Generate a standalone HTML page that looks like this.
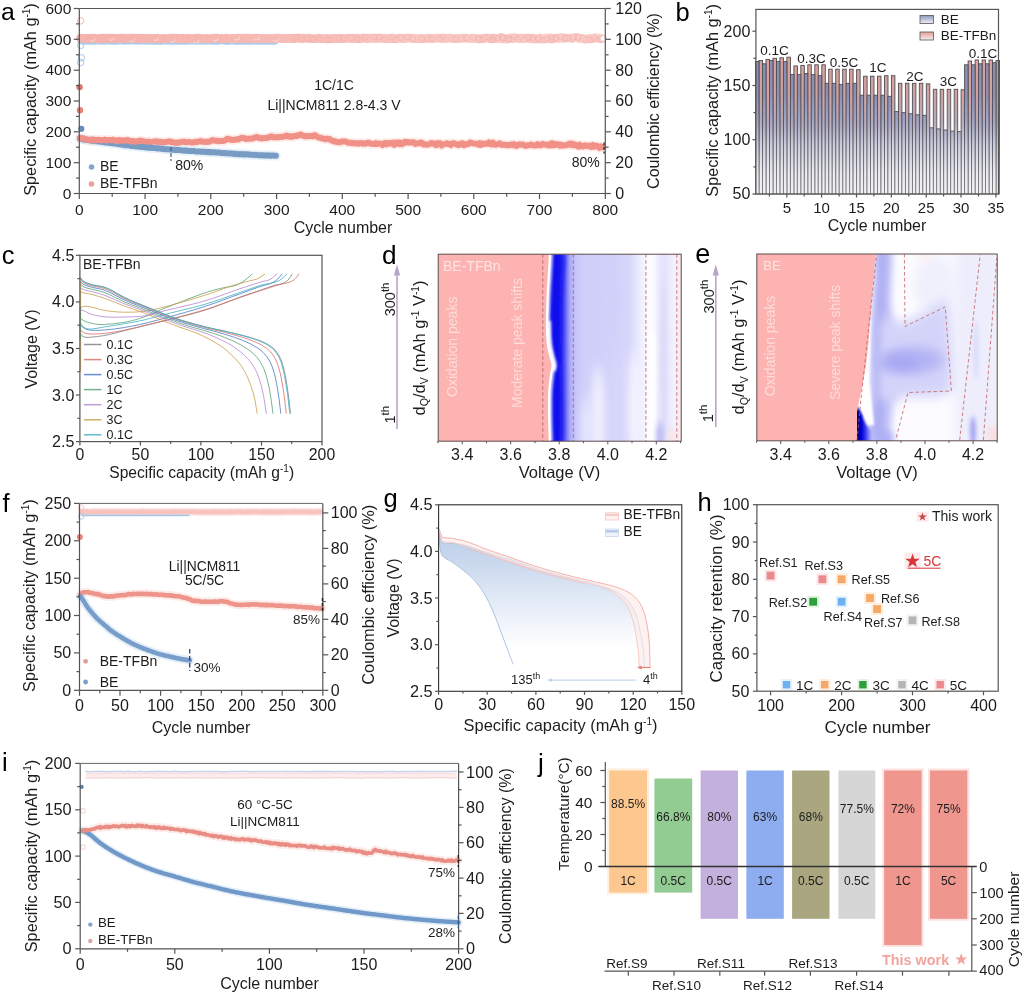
<!DOCTYPE html>
<html><head><meta charset="utf-8"><title>Figure</title>
<style>
html,body{margin:0;padding:0;background:#fff;}
svg{display:block;}
svg text{font-family:"Liberation Sans",Arial,sans-serif;}
</style></head>
<body>
<svg width="1024" height="994" viewBox="0 0 1024 994">
<rect x="0" y="0" width="1024" height="994" fill="#ffffff"/>
<g id="panel_a">
<path d="M81.3 40.7 L83.2 41.1 L85.2 41 L87.2 40.7 L89.2 40.9 L91.1 40.8 L93.1 41 L95.1 41 L97.1 40.6 L99 40.6 L101 41.1 L103 40.8 L104.9 41 L106.9 40.6 L108.9 40.8 L110.9 41 L112.8 40.7 L114.8 41.1 L116.8 41.1 L118.8 40.6 L120.7 40.6 L122.7 40.9 L124.7 41.1 L126.6 40.8 L128.6 40.7 L130.6 40.8 L132.6 40.6 L134.5 40.7 L136.5 40.8 L138.5 40.9 L140.4 40.7 L142.4 40.7 L144.4 40.7 L146.4 40.9 L148.3 40.7 L150.3 40.6 L152.3 41.1 L154.3 40.9 L156.2 41 L158.2 40.7 L160.2 41.2 L162.1 41.1 L164.1 40.6 L166.1 40.8 L168.1 41 L170 41 L172 41.1 L174 40.8 L176 41.1 L177.9 41 L179.9 40.8 L181.9 40.9 L183.8 41.1 L185.8 41.1 L187.8 40.9 L189.8 40.9 L191.7 40.6 L193.7 40.7 L195.7 41.1 L197.6 40.8 L199.6 40.7 L201.6 40.9 L203.6 41 L205.5 41 L207.5 40.8 L209.5 40.8 L211.5 40.9 L213.4 41 L215.4 40.9 L217.4 40.8 L219.3 40.9 L221.3 40.6 L223.3 40.6 L225.3 41 L227.2 41.2 L229.2 40.9 L231.2 40.8 L233.2 40.7 L235.1 40.9 L237.1 41.2 L239.1 41 L241 40.9 L243 41.1 L245 40.7 L247 40.9 L248.9 41.1 L250.9 40.9 L252.9 40.9 L254.9 40.7 L256.8 40.9 L258.8 41.1 L260.8 40.6 L262.7 41 L264.7 41.1 L266.7 41.1 L268.7 41 L270.6 41.1 L272.6 40.9 L274.6 40.9" fill="none" stroke="#a9c6e6" stroke-width="7.5" stroke-linecap="round" stroke-linejoin="round" opacity="0.9"/>
<defs><linearGradient id="gaCE" gradientUnits="userSpaceOnUse" x1="79" y1="0" x2="605" y2="0"><stop offset="0" stop-color="#f6b1ab"/><stop offset="0.35" stop-color="#f7b9b3"/><stop offset="0.6" stop-color="#f9c5c0"/><stop offset="1" stop-color="#fad0cc"/></linearGradient></defs>
<path d="M80.6 38.1 L82.6 38.5 L84.6 38.4 L86.5 38.3 L88.5 38.4 L90.5 38.5 L92.5 38.1 L94.4 38.2 L96.4 38.7 L98.4 38.6 L100.3 38.2 L102.3 38.5 L104.3 38.1 L106.3 38.6 L108.2 38.1 L110.2 38.3 L112.2 38.2 L114.1 38.2 L116.1 38.6 L118.1 38.3 L120.1 38.1 L122 38.4 L124 38.1 L126 38.4 L128 38.5 L129.9 38.1 L131.9 38.2 L133.9 38.2 L135.8 38.5 L137.8 38.2 L139.8 38.6 L141.8 38.2 L143.7 38.3 L145.7 38.3 L147.7 38.1 L149.7 38.7 L151.6 38.3 L153.6 38.3 L155.6 38.6 L157.5 38.2 L159.5 38.7 L161.5 38.6 L163.5 38.5 L165.4 38.7 L167.4 38.6 L169.4 38.3 L171.3 38.2 L173.3 38.4 L175.3 38.1 L177.3 38.3 L179.2 38.3 L181.2 38.7 L183.2 38.2 L185.2 38.7 L187.1 38.3 L189.1 38.5 L191.1 38.7 L193 38.7 L195 38.4 L197 38.2 L199 38.1 L200.9 38.7 L202.9 38.6 L204.9 38.6 L206.9 38.3 L208.8 38.7 L210.8 38.7 L212.8 38.2 L214.7 38.1 L216.7 38.1 L218.7 38.6 L220.7 38.3 L222.6 38.6 L224.6 38.5 L226.6 38.1 L228.6 38.7 L230.5 38.7 L232.5 38.3 L234.5 38.6 L236.4 38.5 L238.4 38.1 L240.4 38.1 L242.4 38.8 L244.3 38.1 L246.3 38.2 L248.3 38.1 L250.2 38.3 L252.2 38.7 L254.2 38.2 L256.2 38.1 L258.1 38.1 L260.1 38.7 L262.1 38.5 L264.1 38.3 L266 38.7 L268 38.7 L270 38.2 L271.9 38.7 L273.9 38.5 L275.9 38.2 L277.9 38.3 L279.8 38.1 L281.8 38.7 L283.8 38.5 L285.8 38.7 L287.7 38.3 L289.7 38.3 L291.7 38.7 L293.6 38.3 L295.6 38.5 L297.6 38.2 L299.6 38.2 L301.5 38.4 L303.5 38.1 L305.5 38.3 L307.5 38.4 L309.4 38.2 L311.4 38.6 L313.4 38.7 L315.3 38.6 L317.3 38.6 L319.3 38.1 L321.3 38.7 L323.2 38.7 L325.2 38.7 L327.2 38.3 L329.1 38.6 L331.1 38.6 L333.1 38.5 L335.1 38.4 L337 38.6 L339 38.2 L341 38.7 L343 38.4 L344.9 38.7 L346.9 38.3 L348.9 38.2 L350.8 38.5 L352.8 38.5 L354.8 38.3 L356.8 38.1 L358.7 38.6 L360.7 38.3 L362.7 38.2 L364.7 38.4 L366.6 38.5 L368.6 38.5 L370.6 38.2 L372.5 38.4 L374.5 38.3 L376.5 38.7 L378.5 38.3 L380.4 38.1 L382.4 38.4 L384.4 38.2 L386.4 38.7 L388.3 38.5 L390.3 38.3 L392.3 38.6 L394.2 38.7 L396.2 38.7 L398.2 38.2 L400.2 38.2 L402.1 38.6 L404.1 38.5 L406.1 38.3 L408.1 38.2 L410 38.1 L412 38.6 L414 38.2 L415.9 38.7 L417.9 38.6 L419.9 38.5 L421.9 38.4 L423.8 38.7 L425.8 38.6 L427.8 38.2 L429.7 38.1 L431.7 38.7 L433.7 38.5 L435.7 38.1 L437.6 38.2 L439.6 38.1 L441.6 38.4 L443.6 38.5 L445.5 38.6 L447.5 38.3 L449.5 38.2 L451.4 38.2 L453.4 38.6 L455.4 38.7 L457.4 38.4 L459.3 38.6 L461.3 38.3 L463.3 38.1 L465.3 38.1 L467.2 38.4 L469.2 38.6 L471.2 38.2 L473.1 38.5 L475.1 38.7 L477.1 38.6 L479.1 39.1 L481 38.3 L483 38.8 L485 38.1 L486.9 38.1 L488.9 38.5 L490.9 38.8 L492.9 38.1 L494.8 38.7 L496.8 38.7 L498.8 38.7 L500.8 37.5 L502.7 39 L504.7 38.3 L506.7 39.1 L508.6 38.5 L510.6 37.9 L512.6 38.3 L514.6 38 L516.5 38.1 L518.5 38.3 L520.5 38.6 L522.5 38.5 L524.4 38.2 L526.4 38.2 L528.4 38.1 L530.3 38.9 L532.3 37.9 L534.3 39.2 L536.3 38.4 L538.2 39.1 L540.2 38 L542.2 38.7 L544.2 39.2 L546.1 37.9 L548.1 38.7 L550.1 38 L552 39.1 L554 38.5 L556 37.9 L558 38.6 L559.9 37.8 L561.9 38.3 L563.9 37.8 L565.9 38.1 L567.8 38.1 L569.8 38.2 L571.8 38.5 L573.7 37.8 L575.7 37.5 L577.7 37.9 L579.7 38.6 L581.6 38.2 L583.6 39 L585.6 39.3 L587.5 38.8 L589.5 38.1 L591.5 38.8 L593.5 38.7 L595.4 38 L597.4 37.8 L599.4 38.2 L601.4 38.4" fill="none" stroke="url(#gaCE)" stroke-width="8.8" stroke-linecap="round" stroke-linejoin="round"/>
<circle cx="92" cy="38.4" r="3" fill="none" stroke="#fff" stroke-width="0.8" opacity="0.6" stroke-dasharray="7 12"/>
<circle cx="111.2" cy="37.3" r="3" fill="none" stroke="#fff" stroke-width="0.8" opacity="0.6" stroke-dasharray="7 12"/>
<circle cx="131.4" cy="38.8" r="3" fill="none" stroke="#fff" stroke-width="0.8" opacity="0.6" stroke-dasharray="7 12"/>
<circle cx="155.2" cy="37.4" r="3" fill="none" stroke="#fff" stroke-width="0.8" opacity="0.6" stroke-dasharray="7 12"/>
<circle cx="172.1" cy="39.1" r="3" fill="none" stroke="#fff" stroke-width="0.8" opacity="0.6" stroke-dasharray="7 12"/>
<circle cx="195.6" cy="40.1" r="3" fill="none" stroke="#fff" stroke-width="0.8" opacity="0.6" stroke-dasharray="7 12"/>
<circle cx="215.2" cy="37.8" r="3" fill="none" stroke="#fff" stroke-width="0.8" opacity="0.6" stroke-dasharray="7 12"/>
<circle cx="236.5" cy="37" r="3" fill="none" stroke="#fff" stroke-width="0.8" opacity="0.6" stroke-dasharray="7 12"/>
<circle cx="256.3" cy="37" r="3" fill="none" stroke="#fff" stroke-width="0.8" opacity="0.6" stroke-dasharray="7 12"/>
<circle cx="275.5" cy="38.4" r="3" fill="none" stroke="#fff" stroke-width="0.8" opacity="0.6" stroke-dasharray="7 12"/>
<circle cx="295.8" cy="37.2" r="3" fill="none" stroke="#f2aaa3" stroke-width="0.6" opacity="0.75"/>
<circle cx="301.1" cy="39.6" r="3" fill="none" stroke="#f2aaa3" stroke-width="0.6" opacity="0.75"/>
<circle cx="308" cy="38.7" r="3" fill="none" stroke="#f2aaa3" stroke-width="0.6" opacity="0.75"/>
<circle cx="312.9" cy="39.2" r="3" fill="none" stroke="#f2aaa3" stroke-width="0.6" opacity="0.75"/>
<circle cx="319.3" cy="38.7" r="3" fill="none" stroke="#f2aaa3" stroke-width="0.6" opacity="0.75"/>
<circle cx="327.5" cy="40.2" r="3" fill="none" stroke="#f2aaa3" stroke-width="0.6" opacity="0.75"/>
<circle cx="330" cy="39.5" r="3" fill="none" stroke="#f2aaa3" stroke-width="0.6" opacity="0.75"/>
<circle cx="339.1" cy="37.8" r="3" fill="none" stroke="#f2aaa3" stroke-width="0.6" opacity="0.75"/>
<circle cx="343.1" cy="38.7" r="3" fill="none" stroke="#f2aaa3" stroke-width="0.6" opacity="0.75"/>
<circle cx="351.2" cy="38" r="3" fill="none" stroke="#f2aaa3" stroke-width="0.6" opacity="0.75"/>
<circle cx="357" cy="39.3" r="3" fill="none" stroke="#f2aaa3" stroke-width="0.6" opacity="0.75"/>
<circle cx="360" cy="39.9" r="3" fill="none" stroke="#f2aaa3" stroke-width="0.6" opacity="0.75"/>
<circle cx="365.3" cy="37.1" r="3" fill="none" stroke="#f2aaa3" stroke-width="0.6" opacity="0.75"/>
<circle cx="373.9" cy="36.8" r="3" fill="none" stroke="#f2aaa3" stroke-width="0.6" opacity="0.75"/>
<circle cx="378.6" cy="37.1" r="3" fill="none" stroke="#f2aaa3" stroke-width="0.6" opacity="0.75"/>
<circle cx="384.9" cy="39.6" r="3" fill="none" stroke="#f2aaa3" stroke-width="0.6" opacity="0.75"/>
<circle cx="392.6" cy="36.7" r="3" fill="none" stroke="#f2aaa3" stroke-width="0.6" opacity="0.75"/>
<circle cx="395.1" cy="39.6" r="3" fill="none" stroke="#f2aaa3" stroke-width="0.6" opacity="0.75"/>
<circle cx="401" cy="37.6" r="3" fill="none" stroke="#f2aaa3" stroke-width="0.6" opacity="0.75"/>
<circle cx="407.2" cy="36.9" r="3" fill="none" stroke="#f2aaa3" stroke-width="0.6" opacity="0.75"/>
<circle cx="412.7" cy="38.9" r="3" fill="none" stroke="#f2aaa3" stroke-width="0.6" opacity="0.75"/>
<circle cx="421.5" cy="39.1" r="3" fill="none" stroke="#f2aaa3" stroke-width="0.6" opacity="0.75"/>
<circle cx="427.8" cy="39" r="3" fill="none" stroke="#f2aaa3" stroke-width="0.6" opacity="0.75"/>
<circle cx="431.9" cy="38.9" r="3" fill="none" stroke="#f2aaa3" stroke-width="0.6" opacity="0.75"/>
<circle cx="440.2" cy="38.9" r="3" fill="none" stroke="#f2aaa3" stroke-width="0.6" opacity="0.75"/>
<circle cx="443.2" cy="36.8" r="3" fill="none" stroke="#f2aaa3" stroke-width="0.6" opacity="0.75"/>
<circle cx="451.9" cy="38.7" r="3" fill="none" stroke="#f2aaa3" stroke-width="0.6" opacity="0.75"/>
<circle cx="455.4" cy="38.8" r="3" fill="none" stroke="#f2aaa3" stroke-width="0.6" opacity="0.75"/>
<circle cx="462.2" cy="38.5" r="3" fill="none" stroke="#f2aaa3" stroke-width="0.6" opacity="0.75"/>
<circle cx="466.1" cy="37.9" r="3" fill="none" stroke="#f2aaa3" stroke-width="0.6" opacity="0.75"/>
<circle cx="473.5" cy="37.3" r="3" fill="none" stroke="#f2aaa3" stroke-width="0.6" opacity="0.75"/>
<circle cx="478" cy="38.1" r="3" fill="none" stroke="#f2aaa3" stroke-width="0.6" opacity="0.75"/>
<circle cx="479.7" cy="39.2" r="3" fill="none" stroke="#f2aaa3" stroke-width="0.6" opacity="0.75"/>
<circle cx="482.7" cy="39.2" r="3" fill="none" stroke="#f2aaa3" stroke-width="0.6" opacity="0.75"/>
<circle cx="485.3" cy="37.5" r="3" fill="none" stroke="#f2aaa3" stroke-width="0.6" opacity="0.75"/>
<circle cx="488.9" cy="37.2" r="3" fill="none" stroke="#f2aaa3" stroke-width="0.6" opacity="0.75"/>
<circle cx="491.3" cy="39.7" r="3" fill="none" stroke="#f2aaa3" stroke-width="0.6" opacity="0.75"/>
<circle cx="493.6" cy="36.8" r="3" fill="none" stroke="#f2aaa3" stroke-width="0.6" opacity="0.75"/>
<circle cx="493.2" cy="39.5" r="3" fill="none" stroke="#f2aaa3" stroke-width="0.6" opacity="0.75"/>
<circle cx="497.3" cy="37.9" r="3" fill="none" stroke="#f2aaa3" stroke-width="0.6" opacity="0.75"/>
<circle cx="502" cy="36.8" r="3" fill="none" stroke="#f2aaa3" stroke-width="0.6" opacity="0.75"/>
<circle cx="502.9" cy="38.2" r="3" fill="none" stroke="#f2aaa3" stroke-width="0.6" opacity="0.75"/>
<circle cx="503.9" cy="38" r="3" fill="none" stroke="#f2aaa3" stroke-width="0.6" opacity="0.75"/>
<circle cx="508.8" cy="39.8" r="3" fill="none" stroke="#f2aaa3" stroke-width="0.6" opacity="0.75"/>
<circle cx="508.7" cy="38.5" r="3" fill="none" stroke="#f2aaa3" stroke-width="0.6" opacity="0.75"/>
<circle cx="511.6" cy="39.5" r="3" fill="none" stroke="#f2aaa3" stroke-width="0.6" opacity="0.75"/>
<circle cx="514.2" cy="36.7" r="3" fill="none" stroke="#f2aaa3" stroke-width="0.6" opacity="0.75"/>
<circle cx="518" cy="39.2" r="3" fill="none" stroke="#f2aaa3" stroke-width="0.6" opacity="0.75"/>
<circle cx="520.4" cy="37.1" r="3" fill="none" stroke="#f2aaa3" stroke-width="0.6" opacity="0.75"/>
<circle cx="524.9" cy="39.5" r="3" fill="none" stroke="#f2aaa3" stroke-width="0.6" opacity="0.75"/>
<circle cx="527.8" cy="37.7" r="3" fill="none" stroke="#f2aaa3" stroke-width="0.6" opacity="0.75"/>
<circle cx="528.7" cy="37.5" r="3" fill="none" stroke="#f2aaa3" stroke-width="0.6" opacity="0.75"/>
<circle cx="531.9" cy="37.8" r="3" fill="none" stroke="#f2aaa3" stroke-width="0.6" opacity="0.75"/>
<circle cx="533.6" cy="39.4" r="3" fill="none" stroke="#f2aaa3" stroke-width="0.6" opacity="0.75"/>
<circle cx="538.7" cy="38.7" r="3" fill="none" stroke="#f2aaa3" stroke-width="0.6" opacity="0.75"/>
<circle cx="538" cy="39" r="3" fill="none" stroke="#f2aaa3" stroke-width="0.6" opacity="0.75"/>
<circle cx="542" cy="40.2" r="3" fill="none" stroke="#f2aaa3" stroke-width="0.6" opacity="0.75"/>
<circle cx="545.7" cy="39.6" r="3" fill="none" stroke="#f2aaa3" stroke-width="0.6" opacity="0.75"/>
<circle cx="548.2" cy="38.5" r="3" fill="none" stroke="#f2aaa3" stroke-width="0.6" opacity="0.75"/>
<circle cx="551.7" cy="39.6" r="3" fill="none" stroke="#f2aaa3" stroke-width="0.6" opacity="0.75"/>
<circle cx="551.9" cy="37.2" r="3" fill="none" stroke="#f2aaa3" stroke-width="0.6" opacity="0.75"/>
<circle cx="554.8" cy="38.5" r="3" fill="none" stroke="#f2aaa3" stroke-width="0.6" opacity="0.75"/>
<circle cx="556.3" cy="37.9" r="3" fill="none" stroke="#f2aaa3" stroke-width="0.6" opacity="0.75"/>
<circle cx="560.9" cy="36.8" r="3" fill="none" stroke="#f2aaa3" stroke-width="0.6" opacity="0.75"/>
<circle cx="564.5" cy="39" r="3" fill="none" stroke="#f2aaa3" stroke-width="0.6" opacity="0.75"/>
<circle cx="565.1" cy="37.7" r="3" fill="none" stroke="#f2aaa3" stroke-width="0.6" opacity="0.75"/>
<circle cx="567.9" cy="37.8" r="3" fill="none" stroke="#f2aaa3" stroke-width="0.6" opacity="0.75"/>
<circle cx="572.1" cy="38.4" r="3" fill="none" stroke="#f2aaa3" stroke-width="0.6" opacity="0.75"/>
<circle cx="573.8" cy="37.1" r="3" fill="none" stroke="#f2aaa3" stroke-width="0.6" opacity="0.75"/>
<circle cx="578" cy="37.8" r="3" fill="none" stroke="#f2aaa3" stroke-width="0.6" opacity="0.75"/>
<circle cx="578.3" cy="36.9" r="3" fill="none" stroke="#f2aaa3" stroke-width="0.6" opacity="0.75"/>
<circle cx="583.5" cy="38.3" r="3" fill="none" stroke="#f2aaa3" stroke-width="0.6" opacity="0.75"/>
<circle cx="585.9" cy="39.9" r="3" fill="none" stroke="#f2aaa3" stroke-width="0.6" opacity="0.75"/>
<circle cx="588.8" cy="39.5" r="3" fill="none" stroke="#f2aaa3" stroke-width="0.6" opacity="0.75"/>
<circle cx="591.2" cy="39.9" r="3" fill="none" stroke="#f2aaa3" stroke-width="0.6" opacity="0.75"/>
<circle cx="593.4" cy="37.1" r="3" fill="none" stroke="#f2aaa3" stroke-width="0.6" opacity="0.75"/>
<circle cx="594.9" cy="38.7" r="3" fill="none" stroke="#f2aaa3" stroke-width="0.6" opacity="0.75"/>
<circle cx="599.4" cy="39.4" r="3" fill="none" stroke="#f2aaa3" stroke-width="0.6" opacity="0.75"/>
<circle cx="600.9" cy="39.3" r="3" fill="none" stroke="#f2aaa3" stroke-width="0.6" opacity="0.75"/>
<circle cx="602.1" cy="40" r="3" fill="none" stroke="#f2aaa3" stroke-width="0.6" opacity="0.75"/>
<circle cx="603.3" cy="38.4" r="3" fill="#fff" stroke="#f5bdb8" stroke-width="0.8"/>
<circle cx="80.6" cy="20.8" r="3.2" fill="none" stroke="#f8b8b2" stroke-width="1"/>
<circle cx="80" cy="37.8" r="3.2" fill="none" stroke="#f8b8b2" stroke-width="1"/>
<circle cx="80.6" cy="45.5" r="3.2" fill="none" stroke="#a9c6e6" stroke-width="1"/>
<circle cx="81.3" cy="57.8" r="3.2" fill="none" stroke="#a9c6e6" stroke-width="1"/>
<circle cx="80.6" cy="62.5" r="3.2" fill="none" stroke="#a9c6e6" stroke-width="1"/>
<path d="M80 138.3 L81.3 138.3 L82.6 138.3 L83.9 138.7 L85.2 139.6 L86.5 139.7 L87.8 139.7 L89.2 140.1 L90.5 139.9 L91.8 139.6 L93.1 140.4 L94.4 139.7 L95.7 140.4 L97.1 140.2 L98.4 139.8 L99.7 140.1 L101 140.1 L102.3 140.3 L103.6 139.9 L104.9 139.8 L106.3 140.5 L107.6 140.4 L108.9 139.9 L110.2 140.1 L111.5 140.2 L112.8 139.8 L114.1 140.4 L115.5 140.6 L116.8 141.2 L118.1 140.3 L119.4 140.7 L120.7 140.5 L122 140.5 L123.4 141 L124.7 140.6 L126 140.5 L127.3 140.3 L128.6 140.5 L129.9 141.3 L131.2 141.4 L132.6 141.1 L133.9 141.4 L135.2 141.7 L136.5 141.7 L137.8 141.3 L139.1 141 L140.4 140.5 L141.8 141 L143.1 141.2 L144.4 141.9 L145.7 141.8 L147 141.9 L148.3 141.6 L149.7 142 L151 142.1 L152.3 141.9 L153.6 141.6 L154.9 141.5 L156.2 141.3 L157.5 142 L158.9 141.6 L160.2 141.9 L161.5 142 L162.8 142.5 L164.1 142.3 L165.4 142 L166.7 141.9 L168.1 141.6 L169.4 141.3 L170.7 141.9 L172 141.9 L173.3 142.3 L174.6 142.7 L176 142.7 L177.3 142.6 L178.6 142.7 L179.9 142.3 L181.2 142 L182.5 141.9 L183.8 141.6 L185.2 142 L186.5 142.2 L187.8 142.1 L189.1 141.9 L190.4 142.3 L191.7 142.6 L193 142.6 L194.4 142.3 L195.7 141.8 L197 142.1 L198.3 141.7 L199.6 141.2 L200.9 141.1 L202.3 141.8 L203.6 141.7 L204.9 141.7 L206.2 142.1 L207.5 141.7 L208.8 141.8 L210.1 141.4 L211.5 140.4 L212.8 140 L214.1 140.5 L215.4 140.8 L216.7 140.6 L218 141.3 L219.3 141 L220.7 141 L222 141.1 L223.3 141 L224.6 140.6 L225.9 139.8 L227.2 138.7 L228.6 138.9 L229.9 139.6 L231.2 139.6 L232.5 140.1 L233.8 139.8 L235.1 139.8 L236.4 139.2 L237.8 139.6 L239.1 138.9 L240.4 138.5 L241.7 137.8 L243 137.9 L244.3 138.1 L245.6 138.9 L247 138.8 L248.3 138.7 L249.6 138.7 L250.9 138.6 L252.2 138.6 L253.5 138.4 L254.9 137.4 L256.2 137.1 L257.5 137.1 L258.8 138 L260.1 137.9 L261.4 138.4 L262.7 138.3 L264.1 138 L265.4 137.9 L266.7 138.1 L268 137.7 L269.3 137 L270.6 136.5 L271.9 136.5 L273.3 137.2 L274.6 137.4 L275.9 137.3 L277.2 137.3 L278.5 137.3 L279.8 136.9 L281.2 137 L282.5 136.7 L283.8 136.8 L285.1 136 L286.4 135.6 L287.7 136.4 L289 136.1 L290.4 136.9 L291.7 136.2 L293 136.7 L294.3 136 L295.6 135.9 L296.9 136.1 L298.2 135 L299.6 135.2 L300.9 134.5 L302.2 135.4 L303.5 135.8 L304.8 136.4 L306.1 136 L307.5 136.3 L308.8 136.1 L310.1 136.1 L311.4 136.1 L312.7 136.4 L314 135.2 L315.3 135.4 L316.7 136.4 L318 137.3 L319.3 137.7 L320.6 137.7 L321.9 138.4 L323.2 138.5 L324.5 139 L325.9 139.2 L327.2 138.6 L328.5 139 L329.8 139 L331.1 140.3 L332.4 140.6 L333.8 141.5 L335.1 141.1 L336.4 142 L337.7 142.1 L339 142.3 L340.3 142.2 L341.6 141.5 L343 141.4 L344.3 141.6 L345.6 141.5 L346.9 142.1 L348.2 142.7 L349.5 142.7 L350.8 142.7 L352.2 143.3 L353.5 142.9 L354.8 143.3 L356.1 143.3 L357.4 143.5 L358.7 143.7 L360.1 143.2 L361.4 143.1 L362.7 143.7 L364 143.3 L365.3 143.7 L366.6 143.2 L367.9 142.6 L369.3 142.9 L370.6 143.8 L371.9 143.7 L373.2 143.9 L374.5 144 L375.8 143.1 L377.1 144 L378.5 143.4 L379.8 143.6 L381.1 143.9 L382.4 145 L383.7 143.5 L385 142.9 L386.4 144.4 L387.7 143 L389 143.1 L390.3 143.7 L391.6 143 L392.9 142.5 L394.2 144.8 L395.6 142.6 L396.9 143.7 L398.2 142.5 L399.5 144 L400.8 142.7 L402.1 144.1 L403.4 143.4 L404.8 141.9 L406.1 142.4 L407.4 141.9 L408.7 142.4 L410 142.4 L411.3 142.6 L412.7 142.2 L414 142.5 L415.3 143.9 L416.6 143.4 L417.9 143.2 L419.2 143.2 L420.5 142.4 L421.9 142.7 L423.2 144.4 L424.5 144 L425.8 144.7 L427.1 144.7 L428.4 144.4 L429.7 144 L431.1 142.9 L432.4 143.4 L433.7 143.4 L435 144.7 L436.3 145.1 L437.6 143.1 L439 143.5 L440.3 143.2 L441.6 145.5 L442.9 144.6 L444.2 144.1 L445.5 143.8 L446.8 143.3 L448.2 144 L449.5 144.1 L450.8 145 L452.1 143.4 L453.4 143.2 L454.7 143.5 L456 144.1 L457.4 144.9 L458.7 145.1 L460 143.8 L461.3 143.4 L462.6 143.3 L463.9 145.2 L465.3 144.2 L466.6 144.3 L467.9 144.2 L469.2 143.1 L470.5 142.4 L471.8 143.1 L473.1 143.4 L474.5 143.6 L475.8 143.7 L477.1 143.9 L478.4 144.6 L479.7 143.2 L481 144.8 L482.3 143.5 L483.7 144.1 L485 143.7 L486.3 143.5 L487.6 143.8 L488.9 142.4 L490.2 143.9 L491.6 144.5 L492.9 142.6 L494.2 144.4 L495.5 144.7 L496.8 144.5 L498.1 144.1 L499.4 143.2 L500.8 144 L502.1 145 L503.4 144.6 L504.7 144.9 L506 144.8 L507.3 145.1 L508.6 145.5 L510 144.7 L511.3 144.5 L512.6 145.3 L513.9 144.1 L515.2 145.5 L516.5 146 L517.9 145 L519.2 144.3 L520.5 144.4 L521.8 144.8 L523.1 144.5 L524.4 145.4 L525.7 145.9 L527.1 145.6 L528.4 145.2 L529.7 145.1 L531 144.4 L532.3 145.1 L533.6 145.4 L534.9 145.3 L536.3 145.5 L537.6 144.1 L538.9 144.7 L540.2 145.5 L541.5 144.9 L542.8 143.9 L544.2 144.6 L545.5 144.6 L546.8 145 L548.1 145.4 L549.4 144.1 L550.7 145.2 L552 143.2 L553.4 145.2 L554.7 143.8 L556 144.9 L557.3 144.2 L558.6 144.5 L559.9 145.6 L561.2 144.6 L562.6 145.7 L563.9 145.4 L565.2 145.1 L566.5 145.3 L567.8 144.5 L569.1 143.6 L570.5 144.9 L571.8 143.6 L573.1 145.1 L574.4 144.3 L575.7 145.5 L577 145.3 L578.3 146.5 L579.7 144.8 L581 146.4 L582.3 145.9 L583.6 146.4 L584.9 145.2 L586.2 145.8 L587.5 145.9 L588.9 145.6 L590.2 146.7 L591.5 147 L592.8 145 L594.1 146.6 L595.4 145.8 L596.8 145.8 L598.1 146.7 L599.4 148 L600.7 146.3 L602 147" fill="none" stroke="#fbdad6" stroke-width="9.5" stroke-linecap="round" stroke-linejoin="round" opacity="0.55"/>
<path d="M80 138.3 L81.3 138.8 L82.6 139.2 L83.9 139.6 L85.2 139.7 L86.5 139.7 L87.8 139.9 L89.2 140.3 L90.5 140.4 L91.8 140.8 L93.1 140.7 L94.4 140.9 L95.7 141.2 L97.1 141.1 L98.4 141.3 L99.7 141.7 L101 141.7 L102.3 141.8 L103.6 142.1 L104.9 142.4 L106.3 142.5 L107.6 142.5 L108.9 142.7 L110.2 143.1 L111.5 143.2 L112.8 143.2 L114.1 143.6 L115.5 143.5 L116.8 143.8 L118.1 144.1 L119.4 144.3 L120.7 144.3 L122 144.7 L123.4 144.7 L124.7 145 L126 145.2 L127.3 145.2 L128.6 145.4 L129.9 145.5 L131.2 145.9 L132.6 146 L133.9 146.1 L135.2 146.3 L136.5 146.5 L137.8 146.4 L139.1 146.5 L140.4 146.9 L141.8 147 L143.1 147 L144.4 147.2 L145.7 147.3 L147 147.6 L148.3 147.7 L149.7 147.7 L151 147.6 L152.3 148.1 L153.6 148.1 L154.9 148.1 L156.2 148.2 L157.5 148.5 L158.9 148.3 L160.2 148.5 L161.5 148.7 L162.8 149 L164.1 149.1 L165.4 149.3 L166.7 149.2 L168.1 149.3 L169.4 149.4 L170.7 149.5 L172 149.6 L173.3 149.8 L174.6 150 L176 149.8 L177.3 150 L178.6 150 L179.9 150.1 L181.2 150.3 L182.5 150.4 L183.8 150.5 L185.2 150.7 L186.5 150.5 L187.8 150.8 L189.1 151 L190.4 151 L191.7 151 L193 151 L194.4 151.1 L195.7 151.4 L197 151.5 L198.3 151.5 L199.6 151.6 L200.9 151.7 L202.3 151.8 L203.6 151.7 L204.9 151.8 L206.2 152 L207.5 151.9 L208.8 152.2 L210.1 152.1 L211.5 152.2 L212.8 152.3 L214.1 152.2 L215.4 152.4 L216.7 152.5 L218 152.5 L219.3 152.6 L220.7 152.8 L222 153.1 L223.3 153.1 L224.6 153 L225.9 153.4 L227.2 153.2 L228.6 153.4 L229.9 153.6 L231.2 153.6 L232.5 153.6 L233.8 153.9 L235.1 153.8 L236.4 154 L237.8 154 L239.1 154.3 L240.4 154.2 L241.7 154.1 L243 154.2 L244.3 154.6 L245.6 154.3 L247 154.3 L248.3 154.5 L249.6 154.6 L250.9 154.9 L252.2 154.7 L253.5 154.9 L254.9 155 L256.2 154.8 L257.5 155.1 L258.8 155.3 L260.1 155.2 L261.4 155.2 L262.7 155.2 L264.1 155.5 L265.4 155.6 L266.7 155.3 L268 155.5 L269.3 155.5 L270.6 155.7 L271.9 155.5 L273.3 155.6 L274.6 155.7 L275.9 155.8" fill="none" stroke="#cfe3f4" stroke-width="9.5" stroke-linecap="round" stroke-linejoin="round" opacity="0.55"/>
<path d="M80 138.3 L81.3 138.3 L82.6 138.3 L83.9 138.7 L85.2 139.6 L86.5 139.7 L87.8 139.7 L89.2 140.1 L90.5 139.9 L91.8 139.6 L93.1 140.4 L94.4 139.7 L95.7 140.4 L97.1 140.2 L98.4 139.8 L99.7 140.1 L101 140.1 L102.3 140.3 L103.6 139.9 L104.9 139.8 L106.3 140.5 L107.6 140.4 L108.9 139.9 L110.2 140.1 L111.5 140.2 L112.8 139.8 L114.1 140.4 L115.5 140.6 L116.8 141.2 L118.1 140.3 L119.4 140.7 L120.7 140.5 L122 140.5 L123.4 141 L124.7 140.6 L126 140.5 L127.3 140.3 L128.6 140.5 L129.9 141.3 L131.2 141.4 L132.6 141.1 L133.9 141.4 L135.2 141.7 L136.5 141.7 L137.8 141.3 L139.1 141 L140.4 140.5 L141.8 141 L143.1 141.2 L144.4 141.9 L145.7 141.8 L147 141.9 L148.3 141.6 L149.7 142 L151 142.1 L152.3 141.9 L153.6 141.6 L154.9 141.5 L156.2 141.3 L157.5 142 L158.9 141.6 L160.2 141.9 L161.5 142 L162.8 142.5 L164.1 142.3 L165.4 142 L166.7 141.9 L168.1 141.6 L169.4 141.3 L170.7 141.9 L172 141.9 L173.3 142.3 L174.6 142.7 L176 142.7 L177.3 142.6 L178.6 142.7 L179.9 142.3 L181.2 142 L182.5 141.9 L183.8 141.6 L185.2 142 L186.5 142.2 L187.8 142.1 L189.1 141.9 L190.4 142.3 L191.7 142.6 L193 142.6 L194.4 142.3 L195.7 141.8 L197 142.1 L198.3 141.7 L199.6 141.2 L200.9 141.1 L202.3 141.8 L203.6 141.7 L204.9 141.7 L206.2 142.1 L207.5 141.7 L208.8 141.8 L210.1 141.4 L211.5 140.4 L212.8 140 L214.1 140.5 L215.4 140.8 L216.7 140.6 L218 141.3 L219.3 141 L220.7 141 L222 141.1 L223.3 141 L224.6 140.6 L225.9 139.8 L227.2 138.7 L228.6 138.9 L229.9 139.6 L231.2 139.6 L232.5 140.1 L233.8 139.8 L235.1 139.8 L236.4 139.2 L237.8 139.6 L239.1 138.9 L240.4 138.5 L241.7 137.8 L243 137.9 L244.3 138.1 L245.6 138.9 L247 138.8 L248.3 138.7 L249.6 138.7 L250.9 138.6 L252.2 138.6 L253.5 138.4 L254.9 137.4 L256.2 137.1 L257.5 137.1 L258.8 138 L260.1 137.9 L261.4 138.4 L262.7 138.3 L264.1 138 L265.4 137.9 L266.7 138.1 L268 137.7 L269.3 137 L270.6 136.5 L271.9 136.5 L273.3 137.2 L274.6 137.4 L275.9 137.3 L277.2 137.3 L278.5 137.3 L279.8 136.9 L281.2 137 L282.5 136.7 L283.8 136.8 L285.1 136 L286.4 135.6 L287.7 136.4 L289 136.1 L290.4 136.9 L291.7 136.2 L293 136.7 L294.3 136 L295.6 135.9 L296.9 136.1 L298.2 135 L299.6 135.2 L300.9 134.5 L302.2 135.4 L303.5 135.8 L304.8 136.4 L306.1 136 L307.5 136.3 L308.8 136.1 L310.1 136.1 L311.4 136.1 L312.7 136.4 L314 135.2 L315.3 135.4 L316.7 136.4 L318 137.3 L319.3 137.7 L320.6 137.7 L321.9 138.4 L323.2 138.5 L324.5 139 L325.9 139.2 L327.2 138.6 L328.5 139 L329.8 139 L331.1 140.3 L332.4 140.6 L333.8 141.5 L335.1 141.1 L336.4 142 L337.7 142.1 L339 142.3 L340.3 142.2 L341.6 141.5 L343 141.4 L344.3 141.6 L345.6 141.5 L346.9 142.1 L348.2 142.7 L349.5 142.7 L350.8 142.7 L352.2 143.3 L353.5 142.9 L354.8 143.3 L356.1 143.3 L357.4 143.5 L358.7 143.7 L360.1 143.2 L361.4 143.1 L362.7 143.7 L364 143.3 L365.3 143.7 L366.6 143.2 L367.9 142.6 L369.3 142.9 L370.6 143.8 L371.9 143.7 L373.2 143.9 L374.5 144 L375.8 143.1 L377.1 144 L378.5 143.4 L379.8 143.6 L381.1 143.9 L382.4 145 L383.7 143.5 L385 142.9 L386.4 144.4 L387.7 143 L389 143.1 L390.3 143.7 L391.6 143 L392.9 142.5 L394.2 144.8 L395.6 142.6 L396.9 143.7 L398.2 142.5 L399.5 144 L400.8 142.7 L402.1 144.1 L403.4 143.4 L404.8 141.9 L406.1 142.4 L407.4 141.9 L408.7 142.4 L410 142.4 L411.3 142.6 L412.7 142.2 L414 142.5 L415.3 143.9 L416.6 143.4 L417.9 143.2 L419.2 143.2 L420.5 142.4 L421.9 142.7 L423.2 144.4 L424.5 144 L425.8 144.7 L427.1 144.7 L428.4 144.4 L429.7 144 L431.1 142.9 L432.4 143.4 L433.7 143.4 L435 144.7 L436.3 145.1 L437.6 143.1 L439 143.5 L440.3 143.2 L441.6 145.5 L442.9 144.6 L444.2 144.1 L445.5 143.8 L446.8 143.3 L448.2 144 L449.5 144.1 L450.8 145 L452.1 143.4 L453.4 143.2 L454.7 143.5 L456 144.1 L457.4 144.9 L458.7 145.1 L460 143.8 L461.3 143.4 L462.6 143.3 L463.9 145.2 L465.3 144.2 L466.6 144.3 L467.9 144.2 L469.2 143.1 L470.5 142.4 L471.8 143.1 L473.1 143.4 L474.5 143.6 L475.8 143.7 L477.1 143.9 L478.4 144.6 L479.7 143.2 L481 144.8 L482.3 143.5 L483.7 144.1 L485 143.7 L486.3 143.5 L487.6 143.8 L488.9 142.4 L490.2 143.9 L491.6 144.5 L492.9 142.6 L494.2 144.4 L495.5 144.7 L496.8 144.5 L498.1 144.1 L499.4 143.2 L500.8 144 L502.1 145 L503.4 144.6 L504.7 144.9 L506 144.8 L507.3 145.1 L508.6 145.5 L510 144.7 L511.3 144.5 L512.6 145.3 L513.9 144.1 L515.2 145.5 L516.5 146 L517.9 145 L519.2 144.3 L520.5 144.4 L521.8 144.8 L523.1 144.5 L524.4 145.4 L525.7 145.9 L527.1 145.6 L528.4 145.2 L529.7 145.1 L531 144.4 L532.3 145.1 L533.6 145.4 L534.9 145.3 L536.3 145.5 L537.6 144.1 L538.9 144.7 L540.2 145.5 L541.5 144.9 L542.8 143.9 L544.2 144.6 L545.5 144.6 L546.8 145 L548.1 145.4 L549.4 144.1 L550.7 145.2 L552 143.2 L553.4 145.2 L554.7 143.8 L556 144.9 L557.3 144.2 L558.6 144.5 L559.9 145.6 L561.2 144.6 L562.6 145.7 L563.9 145.4 L565.2 145.1 L566.5 145.3 L567.8 144.5 L569.1 143.6 L570.5 144.9 L571.8 143.6 L573.1 145.1 L574.4 144.3 L575.7 145.5 L577 145.3 L578.3 146.5 L579.7 144.8 L581 146.4 L582.3 145.9 L583.6 146.4 L584.9 145.2 L586.2 145.8 L587.5 145.9 L588.9 145.6 L590.2 146.7 L591.5 147 L592.8 145 L594.1 146.6 L595.4 145.8 L596.8 145.8 L598.1 146.7 L599.4 148 L600.7 146.3 L602 147" fill="none" stroke="#f09086" stroke-width="6.0" stroke-linecap="round" stroke-linejoin="round"/>
<path d="M80 138.3 L81.3 138.8 L82.6 139.2 L83.9 139.6 L85.2 139.7 L86.5 139.7 L87.8 139.9 L89.2 140.3 L90.5 140.4 L91.8 140.8 L93.1 140.7 L94.4 140.9 L95.7 141.2 L97.1 141.1 L98.4 141.3 L99.7 141.7 L101 141.7 L102.3 141.8 L103.6 142.1 L104.9 142.4 L106.3 142.5 L107.6 142.5 L108.9 142.7 L110.2 143.1 L111.5 143.2 L112.8 143.2 L114.1 143.6 L115.5 143.5 L116.8 143.8 L118.1 144.1 L119.4 144.3 L120.7 144.3 L122 144.7 L123.4 144.7 L124.7 145 L126 145.2 L127.3 145.2 L128.6 145.4 L129.9 145.5 L131.2 145.9 L132.6 146 L133.9 146.1 L135.2 146.3 L136.5 146.5 L137.8 146.4 L139.1 146.5 L140.4 146.9 L141.8 147 L143.1 147 L144.4 147.2 L145.7 147.3 L147 147.6 L148.3 147.7 L149.7 147.7 L151 147.6 L152.3 148.1 L153.6 148.1 L154.9 148.1 L156.2 148.2 L157.5 148.5 L158.9 148.3 L160.2 148.5 L161.5 148.7 L162.8 149 L164.1 149.1 L165.4 149.3 L166.7 149.2 L168.1 149.3 L169.4 149.4 L170.7 149.5 L172 149.6 L173.3 149.8 L174.6 150 L176 149.8 L177.3 150 L178.6 150 L179.9 150.1 L181.2 150.3 L182.5 150.4 L183.8 150.5 L185.2 150.7 L186.5 150.5 L187.8 150.8 L189.1 151 L190.4 151 L191.7 151 L193 151 L194.4 151.1 L195.7 151.4 L197 151.5 L198.3 151.5 L199.6 151.6 L200.9 151.7 L202.3 151.8 L203.6 151.7 L204.9 151.8 L206.2 152 L207.5 151.9 L208.8 152.2 L210.1 152.1 L211.5 152.2 L212.8 152.3 L214.1 152.2 L215.4 152.4 L216.7 152.5 L218 152.5 L219.3 152.6 L220.7 152.8 L222 153.1 L223.3 153.1 L224.6 153 L225.9 153.4 L227.2 153.2 L228.6 153.4 L229.9 153.6 L231.2 153.6 L232.5 153.6 L233.8 153.9 L235.1 153.8 L236.4 154 L237.8 154 L239.1 154.3 L240.4 154.2 L241.7 154.1 L243 154.2 L244.3 154.6 L245.6 154.3 L247 154.3 L248.3 154.5 L249.6 154.6 L250.9 154.9 L252.2 154.7 L253.5 154.9 L254.9 155 L256.2 154.8 L257.5 155.1 L258.8 155.3 L260.1 155.2 L261.4 155.2 L262.7 155.2 L264.1 155.5 L265.4 155.6 L266.7 155.3 L268 155.5 L269.3 155.5 L270.6 155.7 L271.9 155.5 L273.3 155.6 L274.6 155.7 L275.9 155.8" fill="none" stroke="#789bc4" stroke-width="6.0" stroke-linecap="round" stroke-linejoin="round"/>
<path d="M80 138.3 L81.3 138.3 L82.6 138.3 L83.9 138.7 L85.2 139.6 L86.5 139.7 L87.8 139.7 L89.2 140.1 L90.5 139.9 L91.8 139.6 L93.1 140.4 L94.4 139.7 L95.7 140.4 L97.1 140.2 L98.4 139.8 L99.7 140.1 L101 140.1 L102.3 140.3 L103.6 139.9 L104.9 139.8 L106.3 140.5 L107.6 140.4 L108.9 139.9 L110.2 140.1 L111.5 140.2 L112.8 139.8 L114.1 140.4 L115.5 140.6 L116.8 141.2 L118.1 140.3 L119.4 140.7 L120.7 140.5 L122 140.5 L123.4 141 L124.7 140.6 L126 140.5 L127.3 140.3 L128.6 140.5 L129.9 141.3 L131.2 141.4 L132.6 141.1 L133.9 141.4 L135.2 141.7 L136.5 141.7 L137.8 141.3" fill="none" stroke="#f09086" stroke-width="6.0" stroke-linecap="round" stroke-linejoin="round"/>
<circle cx="79.6" cy="87.1" r="3.2" fill="#d9776f"/>
<circle cx="80" cy="110.2" r="3.2" fill="#e38379"/>
<circle cx="81.3" cy="128.8" r="3.1" fill="#6a8db8"/>
<line x1="79.3" y1="8.5" x2="79.3" y2="193.5" stroke="#555555" stroke-width="1.2" />
<line x1="79.3" y1="193.5" x2="605.3" y2="193.5" stroke="#555555" stroke-width="1.2" />
<line x1="605.3" y1="8.5" x2="605.3" y2="193.5" stroke="#555555" stroke-width="1.2" />
<line x1="79.3" y1="8.5" x2="605.3" y2="8.5" stroke="#555555" stroke-width="1" />
<line x1="79.3" y1="193.5" x2="79.3" y2="199" stroke="#555555" stroke-width="1.2" /><line x1="145.1" y1="193.5" x2="145.1" y2="199" stroke="#555555" stroke-width="1.2" /><line x1="210.8" y1="193.5" x2="210.8" y2="199" stroke="#555555" stroke-width="1.2" /><line x1="276.6" y1="193.5" x2="276.6" y2="199" stroke="#555555" stroke-width="1.2" /><line x1="342.3" y1="193.5" x2="342.3" y2="199" stroke="#555555" stroke-width="1.2" /><line x1="408.1" y1="193.5" x2="408.1" y2="199" stroke="#555555" stroke-width="1.2" /><line x1="473.8" y1="193.5" x2="473.8" y2="199" stroke="#555555" stroke-width="1.2" /><line x1="539.5" y1="193.5" x2="539.5" y2="199" stroke="#555555" stroke-width="1.2" /><line x1="605.3" y1="193.5" x2="605.3" y2="199" stroke="#555555" stroke-width="1.2" />
<line x1="112.2" y1="193.5" x2="112.2" y2="196.8" stroke="#555555" stroke-width="1.2" /><line x1="177.9" y1="193.5" x2="177.9" y2="196.8" stroke="#555555" stroke-width="1.2" /><line x1="243.7" y1="193.5" x2="243.7" y2="196.8" stroke="#555555" stroke-width="1.2" /><line x1="309.4" y1="193.5" x2="309.4" y2="196.8" stroke="#555555" stroke-width="1.2" /><line x1="375.2" y1="193.5" x2="375.2" y2="196.8" stroke="#555555" stroke-width="1.2" /><line x1="440.9" y1="193.5" x2="440.9" y2="196.8" stroke="#555555" stroke-width="1.2" /><line x1="506.7" y1="193.5" x2="506.7" y2="196.8" stroke="#555555" stroke-width="1.2" /><line x1="572.4" y1="193.5" x2="572.4" y2="196.8" stroke="#555555" stroke-width="1.2" />
<line x1="79.3" y1="193.5" x2="73.8" y2="193.5" stroke="#555555" stroke-width="1.2" /><line x1="79.3" y1="162.7" x2="73.8" y2="162.7" stroke="#555555" stroke-width="1.2" /><line x1="79.3" y1="131.8" x2="73.8" y2="131.8" stroke="#555555" stroke-width="1.2" /><line x1="79.3" y1="101" x2="73.8" y2="101" stroke="#555555" stroke-width="1.2" /><line x1="79.3" y1="70.2" x2="73.8" y2="70.2" stroke="#555555" stroke-width="1.2" /><line x1="79.3" y1="39.3" x2="73.8" y2="39.3" stroke="#555555" stroke-width="1.2" /><line x1="79.3" y1="8.5" x2="73.8" y2="8.5" stroke="#555555" stroke-width="1.2" />
<line x1="79.3" y1="178.1" x2="76" y2="178.1" stroke="#555555" stroke-width="1.2" /><line x1="79.3" y1="147.2" x2="76" y2="147.2" stroke="#555555" stroke-width="1.2" /><line x1="79.3" y1="116.4" x2="76" y2="116.4" stroke="#555555" stroke-width="1.2" /><line x1="79.3" y1="85.6" x2="76" y2="85.6" stroke="#555555" stroke-width="1.2" /><line x1="79.3" y1="54.8" x2="76" y2="54.8" stroke="#555555" stroke-width="1.2" /><line x1="79.3" y1="23.9" x2="76" y2="23.9" stroke="#555555" stroke-width="1.2" />
<line x1="605.3" y1="193.5" x2="610.8" y2="193.5" stroke="#555555" stroke-width="1.2" /><line x1="605.3" y1="162.7" x2="610.8" y2="162.7" stroke="#555555" stroke-width="1.2" /><line x1="605.3" y1="131.8" x2="610.8" y2="131.8" stroke="#555555" stroke-width="1.2" /><line x1="605.3" y1="101" x2="610.8" y2="101" stroke="#555555" stroke-width="1.2" /><line x1="605.3" y1="70.2" x2="610.8" y2="70.2" stroke="#555555" stroke-width="1.2" /><line x1="605.3" y1="39.3" x2="610.8" y2="39.3" stroke="#555555" stroke-width="1.2" /><line x1="605.3" y1="8.5" x2="610.8" y2="8.5" stroke="#555555" stroke-width="1.2" />
<line x1="605.3" y1="178.1" x2="608.6" y2="178.1" stroke="#555555" stroke-width="1.2" /><line x1="605.3" y1="147.2" x2="608.6" y2="147.2" stroke="#555555" stroke-width="1.2" /><line x1="605.3" y1="116.4" x2="608.6" y2="116.4" stroke="#555555" stroke-width="1.2" /><line x1="605.3" y1="85.6" x2="608.6" y2="85.6" stroke="#555555" stroke-width="1.2" /><line x1="605.3" y1="54.8" x2="608.6" y2="54.8" stroke="#555555" stroke-width="1.2" /><line x1="605.3" y1="23.9" x2="608.6" y2="23.9" stroke="#555555" stroke-width="1.2" />
<text x="79.3" y="215.2" font-size="15.5" text-anchor="middle" fill="#1c1c1c" >0</text>
<text x="145.1" y="215.2" font-size="15.5" text-anchor="middle" fill="#1c1c1c" >100</text>
<text x="210.8" y="215.2" font-size="15.5" text-anchor="middle" fill="#1c1c1c" >200</text>
<text x="276.6" y="215.2" font-size="15.5" text-anchor="middle" fill="#1c1c1c" >300</text>
<text x="342.3" y="215.2" font-size="15.5" text-anchor="middle" fill="#1c1c1c" >400</text>
<text x="408.1" y="215.2" font-size="15.5" text-anchor="middle" fill="#1c1c1c" >500</text>
<text x="473.8" y="215.2" font-size="15.5" text-anchor="middle" fill="#1c1c1c" >600</text>
<text x="539.5" y="215.2" font-size="15.5" text-anchor="middle" fill="#1c1c1c" >700</text>
<text x="605.3" y="215.2" font-size="15.5" text-anchor="middle" fill="#1c1c1c" >800</text>
<text x="71.3" y="198.7" font-size="15.5" text-anchor="end" fill="#1c1c1c" >0</text>
<text x="71.3" y="167.9" font-size="15.5" text-anchor="end" fill="#1c1c1c" >100</text>
<text x="71.3" y="137" font-size="15.5" text-anchor="end" fill="#1c1c1c" >200</text>
<text x="71.3" y="106.2" font-size="15.5" text-anchor="end" fill="#1c1c1c" >300</text>
<text x="71.3" y="75.4" font-size="15.5" text-anchor="end" fill="#1c1c1c" >400</text>
<text x="71.3" y="44.5" font-size="15.5" text-anchor="end" fill="#1c1c1c" >500</text>
<text x="71.3" y="13.7" font-size="15.5" text-anchor="end" fill="#1c1c1c" >600</text>
<text x="615.3" y="198.9" font-size="16" text-anchor="start" fill="#1c1c1c" >0</text>
<text x="615.3" y="168.1" font-size="16" text-anchor="start" fill="#1c1c1c" >20</text>
<text x="615.3" y="137.2" font-size="16" text-anchor="start" fill="#1c1c1c" >40</text>
<text x="615.3" y="106.4" font-size="16" text-anchor="start" fill="#1c1c1c" >60</text>
<text x="615.3" y="75.6" font-size="16" text-anchor="start" fill="#1c1c1c" >80</text>
<text x="615.3" y="44.7" font-size="16" text-anchor="start" fill="#1c1c1c" >100</text>
<text x="615.3" y="13.9" font-size="16" text-anchor="start" fill="#1c1c1c" >120</text>
<text x="343" y="233" font-size="16" text-anchor="middle" fill="#1c1c1c" >Cycle number</text>
<text x="36" y="99.5" font-size="16.3" text-anchor="middle" fill="#1c1c1c" transform="rotate(-90 36 99.5)" >Specific capacity (mAh g<tspan font-size="10" dy="-6">-1</tspan><tspan dy="6" font-size="1">&#8203;</tspan>)</text>
<text x="659" y="101" font-size="16" text-anchor="middle" fill="#1c1c1c" transform="rotate(-90 659 101)" >Coulombic efficiency (%)</text>
<text x="334" y="90" font-size="14" text-anchor="middle" fill="#1c1c1c" >1C/1C</text>
<text x="334" y="110" font-size="14" text-anchor="middle" fill="#1c1c1c" >Li||NCM811 2.8-4.3 V</text>
<circle cx="91.5" cy="167" r="2.8" fill="#86a5ca"/>
<circle cx="91.5" cy="184" r="2.8" fill="#eda29b"/>
<text x="100" y="170.5" font-size="14" text-anchor="start" fill="#1c1c1c" >BE</text>
<text x="100" y="187.5" font-size="14" text-anchor="start" fill="#1c1c1c" >BE-TFBn</text>
<text x="175.3" y="169.5" font-size="14" text-anchor="start" fill="#1c1c1c" >80%</text>
<line x1="171" y1="147" x2="171" y2="161" stroke="#44607e" stroke-width="1.2" stroke-dasharray="4 2"/>
<text x="599.7" y="167.2" font-size="14" text-anchor="end" fill="#1c1c1c" >80%</text>
<line x1="604" y1="142.5" x2="604" y2="153.5" stroke="#333" stroke-width="1.4" stroke-dasharray="3 1.5"/>
<text x="0.9" y="20.3" font-size="24.8" text-anchor="start" fill="#000" >a</text>
</g>
<g id="panel_b">
<defs><linearGradient id="gbBE" gradientUnits="userSpaceOnUse" x1="0" y1="55" x2="0" y2="194"><stop offset="0.000" stop-color="#8a8cb0"/><stop offset="0.288" stop-color="#8f91b3"/><stop offset="0.489" stop-color="#a3a8c7"/><stop offset="0.640" stop-color="#c6cbdd"/><stop offset="0.842" stop-color="#e9e9ef"/><stop offset="1.000" stop-color="#f3f3f4"/></linearGradient><linearGradient id="gbTF" gradientUnits="userSpaceOnUse" x1="0" y1="55" x2="0" y2="194"><stop offset="0.000" stop-color="#dea49a"/><stop offset="0.252" stop-color="#d4a19c"/><stop offset="0.489" stop-color="#b9a9b9"/><stop offset="0.640" stop-color="#d0d0dc"/><stop offset="0.842" stop-color="#ececf0"/><stop offset="1.000" stop-color="#f3f3f4"/></linearGradient><linearGradient id="gbBEl" x1="0" y1="0" x2="0" y2="1"><stop offset="0" stop-color="#8f98c0"/><stop offset="1" stop-color="#eef0f6"/></linearGradient><linearGradient id="gbTFl" x1="0" y1="0" x2="0" y2="1"><stop offset="0" stop-color="#e5a097"/><stop offset="1" stop-color="#f6eeee"/></linearGradient><linearGradient id="gbST" gradientUnits="userSpaceOnUse" x1="0" y1="55" x2="0" y2="194"><stop offset="0.000" stop-color="#4a4a54"/><stop offset="0.540" stop-color="#55555e"/><stop offset="1.000" stop-color="#7c7c80"/></linearGradient></defs>
<rect x="759" y="60.5" width="3.5" height="133.5" fill="url(#gbTF)" stroke="url(#gbST)" stroke-width="0.9"/>
<rect x="755.5" y="61.6" width="3.5" height="132.4" fill="url(#gbBE)" stroke="url(#gbST)" stroke-width="0.9"/>
<rect x="766" y="59.4" width="3.5" height="134.6" fill="url(#gbTF)" stroke="url(#gbST)" stroke-width="0.9"/>
<rect x="762.5" y="63.8" width="3.5" height="130.2" fill="url(#gbBE)" stroke="url(#gbST)" stroke-width="0.9"/>
<rect x="773" y="58.3" width="3.5" height="135.7" fill="url(#gbTF)" stroke="url(#gbST)" stroke-width="0.9"/>
<rect x="769.5" y="60.5" width="3.5" height="133.5" fill="url(#gbBE)" stroke="url(#gbST)" stroke-width="0.9"/>
<rect x="779.9" y="57.8" width="3.5" height="136.2" fill="url(#gbTF)" stroke="url(#gbST)" stroke-width="0.9"/>
<rect x="776.4" y="61.6" width="3.5" height="132.4" fill="url(#gbBE)" stroke="url(#gbST)" stroke-width="0.9"/>
<rect x="786.9" y="57.2" width="3.5" height="136.8" fill="url(#gbTF)" stroke="url(#gbST)" stroke-width="0.9"/>
<rect x="783.4" y="61.6" width="3.5" height="132.4" fill="url(#gbBE)" stroke="url(#gbST)" stroke-width="0.9"/>
<rect x="793.9" y="65.9" width="3.5" height="128.1" fill="url(#gbTF)" stroke="url(#gbST)" stroke-width="0.9"/>
<rect x="790.4" y="74.6" width="3.5" height="119.4" fill="url(#gbBE)" stroke="url(#gbST)" stroke-width="0.9"/>
<rect x="800.8" y="65.4" width="3.5" height="128.6" fill="url(#gbTF)" stroke="url(#gbST)" stroke-width="0.9"/>
<rect x="797.3" y="74.6" width="3.5" height="119.4" fill="url(#gbBE)" stroke="url(#gbST)" stroke-width="0.9"/>
<rect x="807.8" y="64.8" width="3.5" height="129.2" fill="url(#gbTF)" stroke="url(#gbST)" stroke-width="0.9"/>
<rect x="804.3" y="73.5" width="3.5" height="120.5" fill="url(#gbBE)" stroke="url(#gbST)" stroke-width="0.9"/>
<rect x="814.8" y="64.8" width="3.5" height="129.2" fill="url(#gbTF)" stroke="url(#gbST)" stroke-width="0.9"/>
<rect x="811.3" y="74.6" width="3.5" height="119.4" fill="url(#gbBE)" stroke="url(#gbST)" stroke-width="0.9"/>
<rect x="821.8" y="64.8" width="3.5" height="129.2" fill="url(#gbTF)" stroke="url(#gbST)" stroke-width="0.9"/>
<rect x="818.2" y="75.7" width="3.5" height="118.3" fill="url(#gbBE)" stroke="url(#gbST)" stroke-width="0.9"/>
<rect x="828.7" y="69.2" width="3.5" height="124.8" fill="url(#gbTF)" stroke="url(#gbST)" stroke-width="0.9"/>
<rect x="825.2" y="83.3" width="3.5" height="110.7" fill="url(#gbBE)" stroke="url(#gbST)" stroke-width="0.9"/>
<rect x="835.7" y="69.2" width="3.5" height="124.8" fill="url(#gbTF)" stroke="url(#gbST)" stroke-width="0.9"/>
<rect x="832.2" y="83.3" width="3.5" height="110.7" fill="url(#gbBE)" stroke="url(#gbST)" stroke-width="0.9"/>
<rect x="842.7" y="69.2" width="3.5" height="124.8" fill="url(#gbTF)" stroke="url(#gbST)" stroke-width="0.9"/>
<rect x="839.2" y="84.4" width="3.5" height="109.6" fill="url(#gbBE)" stroke="url(#gbST)" stroke-width="0.9"/>
<rect x="849.6" y="69.2" width="3.5" height="124.8" fill="url(#gbTF)" stroke="url(#gbST)" stroke-width="0.9"/>
<rect x="846.1" y="83.3" width="3.5" height="110.7" fill="url(#gbBE)" stroke="url(#gbST)" stroke-width="0.9"/>
<rect x="856.6" y="69.7" width="3.5" height="124.3" fill="url(#gbTF)" stroke="url(#gbST)" stroke-width="0.9"/>
<rect x="853.1" y="83.3" width="3.5" height="110.7" fill="url(#gbBE)" stroke="url(#gbST)" stroke-width="0.9"/>
<rect x="863.6" y="76.2" width="3.5" height="117.8" fill="url(#gbTF)" stroke="url(#gbST)" stroke-width="0.9"/>
<rect x="860.1" y="95.2" width="3.5" height="98.8" fill="url(#gbBE)" stroke="url(#gbST)" stroke-width="0.9"/>
<rect x="870.5" y="76.2" width="3.5" height="117.8" fill="url(#gbTF)" stroke="url(#gbST)" stroke-width="0.9"/>
<rect x="867" y="95.2" width="3.5" height="98.8" fill="url(#gbBE)" stroke="url(#gbST)" stroke-width="0.9"/>
<rect x="877.5" y="76.2" width="3.5" height="117.8" fill="url(#gbTF)" stroke="url(#gbST)" stroke-width="0.9"/>
<rect x="874" y="95.2" width="3.5" height="98.8" fill="url(#gbBE)" stroke="url(#gbST)" stroke-width="0.9"/>
<rect x="884.5" y="75.7" width="3.5" height="118.3" fill="url(#gbTF)" stroke="url(#gbST)" stroke-width="0.9"/>
<rect x="881" y="95.2" width="3.5" height="98.8" fill="url(#gbBE)" stroke="url(#gbST)" stroke-width="0.9"/>
<rect x="891.4" y="75.7" width="3.5" height="118.3" fill="url(#gbTF)" stroke="url(#gbST)" stroke-width="0.9"/>
<rect x="887.9" y="96.3" width="3.5" height="97.7" fill="url(#gbBE)" stroke="url(#gbST)" stroke-width="0.9"/>
<rect x="898.4" y="83.3" width="3.5" height="110.7" fill="url(#gbTF)" stroke="url(#gbST)" stroke-width="0.9"/>
<rect x="894.9" y="111.5" width="3.5" height="82.5" fill="url(#gbBE)" stroke="url(#gbST)" stroke-width="0.9"/>
<rect x="905.4" y="83.3" width="3.5" height="110.7" fill="url(#gbTF)" stroke="url(#gbST)" stroke-width="0.9"/>
<rect x="901.9" y="112.6" width="3.5" height="81.4" fill="url(#gbBE)" stroke="url(#gbST)" stroke-width="0.9"/>
<rect x="912.4" y="83.3" width="3.5" height="110.7" fill="url(#gbTF)" stroke="url(#gbST)" stroke-width="0.9"/>
<rect x="908.9" y="113.7" width="3.5" height="80.3" fill="url(#gbBE)" stroke="url(#gbST)" stroke-width="0.9"/>
<rect x="919.3" y="83.3" width="3.5" height="110.7" fill="url(#gbTF)" stroke="url(#gbST)" stroke-width="0.9"/>
<rect x="915.8" y="114.8" width="3.5" height="79.2" fill="url(#gbBE)" stroke="url(#gbST)" stroke-width="0.9"/>
<rect x="926.3" y="83.8" width="3.5" height="110.2" fill="url(#gbTF)" stroke="url(#gbST)" stroke-width="0.9"/>
<rect x="922.8" y="115.3" width="3.5" height="78.7" fill="url(#gbBE)" stroke="url(#gbST)" stroke-width="0.9"/>
<rect x="933.3" y="89.3" width="3.5" height="104.7" fill="url(#gbTF)" stroke="url(#gbST)" stroke-width="0.9"/>
<rect x="929.8" y="127.8" width="3.5" height="66.2" fill="url(#gbBE)" stroke="url(#gbST)" stroke-width="0.9"/>
<rect x="940.2" y="89.3" width="3.5" height="104.7" fill="url(#gbTF)" stroke="url(#gbST)" stroke-width="0.9"/>
<rect x="936.7" y="128.9" width="3.5" height="65.1" fill="url(#gbBE)" stroke="url(#gbST)" stroke-width="0.9"/>
<rect x="947.2" y="89.3" width="3.5" height="104.7" fill="url(#gbTF)" stroke="url(#gbST)" stroke-width="0.9"/>
<rect x="943.7" y="130" width="3.5" height="64" fill="url(#gbBE)" stroke="url(#gbST)" stroke-width="0.9"/>
<rect x="954.2" y="89.3" width="3.5" height="104.7" fill="url(#gbTF)" stroke="url(#gbST)" stroke-width="0.9"/>
<rect x="950.7" y="131.1" width="3.5" height="62.9" fill="url(#gbBE)" stroke="url(#gbST)" stroke-width="0.9"/>
<rect x="961.1" y="89.8" width="3.5" height="104.2" fill="url(#gbTF)" stroke="url(#gbST)" stroke-width="0.9"/>
<rect x="957.6" y="131.6" width="3.5" height="62.4" fill="url(#gbBE)" stroke="url(#gbST)" stroke-width="0.9"/>
<rect x="968.1" y="61" width="3.5" height="133" fill="url(#gbTF)" stroke="url(#gbST)" stroke-width="0.9"/>
<rect x="964.6" y="64.8" width="3.5" height="129.2" fill="url(#gbBE)" stroke="url(#gbST)" stroke-width="0.9"/>
<rect x="975.1" y="60" width="3.5" height="134" fill="url(#gbTF)" stroke="url(#gbST)" stroke-width="0.9"/>
<rect x="971.6" y="64.8" width="3.5" height="129.2" fill="url(#gbBE)" stroke="url(#gbST)" stroke-width="0.9"/>
<rect x="982.1" y="60" width="3.5" height="134" fill="url(#gbTF)" stroke="url(#gbST)" stroke-width="0.9"/>
<rect x="978.6" y="63.8" width="3.5" height="130.2" fill="url(#gbBE)" stroke="url(#gbST)" stroke-width="0.9"/>
<rect x="989" y="60" width="3.5" height="134" fill="url(#gbTF)" stroke="url(#gbST)" stroke-width="0.9"/>
<rect x="985.5" y="63.8" width="3.5" height="130.2" fill="url(#gbBE)" stroke="url(#gbST)" stroke-width="0.9"/>
<rect x="996" y="60.5" width="3.5" height="133.5" fill="url(#gbTF)" stroke="url(#gbST)" stroke-width="0.9"/>
<rect x="992.5" y="62.7" width="3.5" height="131.3" fill="url(#gbBE)" stroke="url(#gbST)" stroke-width="0.9"/>
<rect x="755.9" y="9.4" width="242.6" height="184.6" fill="none" stroke="#555555" stroke-width="1.2"/>
<line x1="786.8" y1="194" x2="786.8" y2="197.5" stroke="#555555" stroke-width="1.2" /><line x1="821.6" y1="194" x2="821.6" y2="197.5" stroke="#555555" stroke-width="1.2" /><line x1="856.5" y1="194" x2="856.5" y2="197.5" stroke="#555555" stroke-width="1.2" /><line x1="891.3" y1="194" x2="891.3" y2="197.5" stroke="#555555" stroke-width="1.2" /><line x1="926.2" y1="194" x2="926.2" y2="197.5" stroke="#555555" stroke-width="1.2" /><line x1="961" y1="194" x2="961" y2="197.5" stroke="#555555" stroke-width="1.2" /><line x1="995.9" y1="194" x2="995.9" y2="197.5" stroke="#555555" stroke-width="1.2" />
<line x1="769.4" y1="194" x2="769.4" y2="196.5" stroke="#555555" stroke-width="1.2" /><line x1="804.2" y1="194" x2="804.2" y2="196.5" stroke="#555555" stroke-width="1.2" /><line x1="839.1" y1="194" x2="839.1" y2="196.5" stroke="#555555" stroke-width="1.2" /><line x1="873.9" y1="194" x2="873.9" y2="196.5" stroke="#555555" stroke-width="1.2" /><line x1="908.8" y1="194" x2="908.8" y2="196.5" stroke="#555555" stroke-width="1.2" /><line x1="943.6" y1="194" x2="943.6" y2="196.5" stroke="#555555" stroke-width="1.2" /><line x1="978.5" y1="194" x2="978.5" y2="196.5" stroke="#555555" stroke-width="1.2" />
<line x1="755.9" y1="194" x2="752.4" y2="194" stroke="#555555" stroke-width="1.2" /><line x1="755.9" y1="139.7" x2="752.4" y2="139.7" stroke="#555555" stroke-width="1.2" /><line x1="755.9" y1="85.5" x2="752.4" y2="85.5" stroke="#555555" stroke-width="1.2" /><line x1="755.9" y1="31.2" x2="752.4" y2="31.2" stroke="#555555" stroke-width="1.2" />
<line x1="755.9" y1="166.9" x2="753.4" y2="166.9" stroke="#555555" stroke-width="1.2" /><line x1="755.9" y1="112.6" x2="753.4" y2="112.6" stroke="#555555" stroke-width="1.2" /><line x1="755.9" y1="58.3" x2="753.4" y2="58.3" stroke="#555555" stroke-width="1.2" />
<text x="786.8" y="212.7" font-size="15" text-anchor="middle" fill="#1c1c1c" >5</text>
<text x="821.6" y="212.7" font-size="15" text-anchor="middle" fill="#1c1c1c" >10</text>
<text x="856.5" y="212.7" font-size="15" text-anchor="middle" fill="#1c1c1c" >15</text>
<text x="891.3" y="212.7" font-size="15" text-anchor="middle" fill="#1c1c1c" >20</text>
<text x="926.2" y="212.7" font-size="15" text-anchor="middle" fill="#1c1c1c" >25</text>
<text x="961" y="212.7" font-size="15" text-anchor="middle" fill="#1c1c1c" >30</text>
<text x="995.9" y="212.7" font-size="15" text-anchor="middle" fill="#1c1c1c" >35</text>
<text x="750.3" y="199.4" font-size="16" text-anchor="end" fill="#1c1c1c" >50</text>
<text x="750.3" y="145.1" font-size="16" text-anchor="end" fill="#1c1c1c" >100</text>
<text x="750.3" y="90.9" font-size="16" text-anchor="end" fill="#1c1c1c" >150</text>
<text x="750.3" y="36.6" font-size="16" text-anchor="end" fill="#1c1c1c" >200</text>
<text x="877" y="230.7" font-size="16" text-anchor="middle" fill="#1c1c1c" >Cycle number</text>
<text x="718.5" y="100.4" font-size="16.3" text-anchor="middle" fill="#1c1c1c" transform="rotate(-90 718.5 100.4)" >Specific capacity (mAh g<tspan font-size="10" dy="-6">-1</tspan><tspan dy="6" font-size="1">&#8203;</tspan>)</text>
<text x="774.5" y="54.8" font-size="13.5" text-anchor="middle" fill="#1c1c1c" >0.1C</text>
<text x="811.5" y="62.8" font-size="13.5" text-anchor="middle" fill="#1c1c1c" >0.3C</text>
<text x="844" y="66.8" font-size="13.5" text-anchor="middle" fill="#1c1c1c" >0.5C</text>
<text x="878" y="71.8" font-size="13.5" text-anchor="middle" fill="#1c1c1c" >1C</text>
<text x="915" y="80.8" font-size="13.5" text-anchor="middle" fill="#1c1c1c" >2C</text>
<text x="948.5" y="85.8" font-size="13.5" text-anchor="middle" fill="#1c1c1c" >3C</text>
<text x="983" y="57.8" font-size="13.5" text-anchor="middle" fill="#1c1c1c" >0.1C</text>
<rect x="920" y="15.5" width="13.5" height="8" fill="url(#gbBEl)" stroke="#555" stroke-width="0.8"/>
<rect x="920" y="32" width="13.5" height="8" fill="url(#gbTFl)" stroke="#555" stroke-width="0.8"/>
<text x="940.8" y="23.6" font-size="13.5" text-anchor="start" fill="#1c1c1c" >BE</text>
<text x="940.8" y="39.8" font-size="13.5" text-anchor="start" fill="#1c1c1c" >BE-TFBn</text>
<text x="675.4" y="21.2" font-size="25.5" text-anchor="start" fill="#000" >b</text>
</g>
<g id="panel_c">
<path d="M79.9 333.5 L82.3 335.9 L84.6 337.1 L87 337.4 L89.3 337.3 L91.7 337.1 L94.1 336.9 L96.4 336.6 L98.8 336.3 L101.1 336 L103.5 335.6 L105.9 335.2 L108.2 334.7 L110.6 334.2 L112.9 333.6 L115.3 333 L117.7 332.4 L120 331.8 L122.4 331.2 L124.7 330.6 L127.1 330 L129.5 329.4 L131.8 328.8 L134.2 328.2 L136.6 327.7 L138.9 327.1 L141.3 326.5 L143.6 325.9 L146 325.3 L148.4 324.8 L150.7 324.2 L153.1 323.6 L155.4 323.1 L157.8 322.5 L160.2 321.9 L162.5 321.3 L164.9 320.7 L167.2 320.1 L169.6 319.5 L172 318.9 L174.3 318.4 L176.7 317.8 L179 317.2 L181.4 316.6 L183.8 316 L186.1 315.4 L188.5 314.8 L190.8 314.2 L193.2 313.6 L195.6 312.9 L197.9 312.3 L200.3 311.6 L202.6 310.9 L205 310.1 L207.4 309.4 L209.7 308.6 L212.1 307.7 L214.4 306.9 L216.8 306 L219.2 305.1 L221.5 304.2 L223.9 303.3 L226.2 302.3 L228.6 301.4 L231 300.5 L233.3 299.6 L235.7 298.7 L238.1 297.8 L240.4 297 L242.8 296.1 L245.1 295.3 L247.5 294.5 L249.9 293.7 L252.2 292.9 L254.6 292.2 L256.9 291.4 L259.3 290.6 L261.7 289.7 L264 288.9 L266.4 288 L268.7 287.2 L271.1 286.4 L273.5 285.6 L275.8 285 L278.2 284.6 L280.5 284.1 L282.9 283.4 L285.3 282.3 L287.6 280.5 L290 277.5 L292.3 273.9" fill="none" stroke="#7f8388" stroke-width="0.95" stroke-linejoin="round" opacity="0.9"/>
<path d="M79.9 329.8 L82.3 331.6 L84.8 333.1 L87.2 333.7 L89.6 334 L92.1 334 L94.5 334 L96.9 333.9 L99.4 333.8 L101.8 333.6 L104.2 333.4 L106.7 333.2 L109.1 332.8 L111.5 332.5 L114 332.1 L116.4 331.7 L118.9 331.2 L121.3 330.8 L123.7 330.3 L126.2 329.8 L128.6 329.2 L131 328.7 L133.5 328.1 L135.9 327.5 L138.3 326.9 L140.8 326.3 L143.2 325.7 L145.6 325.1 L148.1 324.5 L150.5 323.9 L152.9 323.4 L155.4 322.8 L157.8 322.2 L160.2 321.6 L162.7 321 L165.1 320.4 L167.5 319.8 L170 319.1 L172.4 318.5 L174.8 317.9 L177.3 317.3 L179.7 316.6 L182.1 316 L184.6 315.4 L187 314.7 L189.5 314.1 L191.9 313.4 L194.3 312.8 L196.8 312.1 L199.2 311.4 L201.6 310.7 L204.1 310 L206.5 309.2 L208.9 308.4 L211.4 307.6 L213.8 306.8 L216.2 306 L218.7 305.1 L221.1 304.3 L223.5 303.4 L226 302.5 L228.4 301.7 L230.8 300.8 L233.3 299.9 L235.7 299.1 L238.1 298.2 L240.6 297.4 L243 296.5 L245.4 295.7 L247.9 294.9 L250.3 294 L252.7 293.2 L255.2 292.4 L257.6 291.6 L260 290.8 L262.5 290 L264.9 289.2 L267.4 288.4 L269.8 287.6 L272.2 286.9 L274.7 286.1 L277.1 285.4 L279.5 284.7 L282 284 L284.4 283.5 L286.8 283 L289.3 282.3 L291.7 281.3 L294.1 279.7 L296.6 277.2 L299 273.9" fill="none" stroke="#d9746e" stroke-width="0.95" stroke-linejoin="round" opacity="0.9"/>
<path d="M79.9 324.2 L82.1 326.8 L84.4 328.4 L86.6 329.3 L88.9 329.9 L91.1 330.2 L93.4 330.3 L95.6 330.4 L97.9 330.4 L100.1 330.3 L102.4 330.1 L104.6 330 L106.9 329.8 L109.1 329.6 L111.3 329.3 L113.6 329.1 L115.8 328.8 L118.1 328.5 L120.3 328.1 L122.6 327.8 L124.8 327.4 L127.1 327 L129.3 326.6 L131.6 326.2 L133.8 325.7 L136.1 325.3 L138.3 324.8 L140.5 324.3 L142.8 323.8 L145 323.3 L147.3 322.7 L149.5 322.2 L151.8 321.6 L154 321 L156.3 320.4 L158.5 319.9 L160.8 319.2 L163 318.6 L165.3 318 L167.5 317.4 L169.7 316.7 L172 316.1 L174.2 315.5 L176.5 314.9 L178.7 314.2 L181 313.6 L183.2 313 L185.5 312.3 L187.7 311.7 L190 311 L192.2 310.4 L194.5 309.7 L196.7 309 L198.9 308.3 L201.2 307.6 L203.4 306.9 L205.7 306.2 L207.9 305.4 L210.2 304.7 L212.4 303.9 L214.7 303.1 L216.9 302.3 L219.2 301.5 L221.4 300.7 L223.7 299.8 L225.9 299 L228.1 298.2 L230.4 297.4 L232.6 296.5 L234.9 295.7 L237.1 294.9 L239.4 294.1 L241.6 293.3 L243.9 292.4 L246.1 291.6 L248.4 290.8 L250.6 289.9 L252.9 289.1 L255.1 288.3 L257.3 287.5 L259.6 286.7 L261.8 286 L264.1 285.4 L266.3 284.8 L268.6 284.2 L270.8 283.4 L273.1 282.3 L275.3 281 L277.6 279.2 L279.8 276.7 L282.1 273.9" fill="none" stroke="#4f7fc4" stroke-width="0.95" stroke-linejoin="round" opacity="0.9"/>
<path d="M79.9 317.7 L81.8 319.3 L83.7 320.6 L85.6 321.5 L87.6 322.3 L89.5 322.8 L91.4 323.2 L93.3 323.6 L95.2 324 L97.1 324.3 L99.1 324.4 L101 324.5 L102.9 324.5 L104.8 324.4 L106.7 324.3 L108.6 324.2 L110.6 324 L112.5 323.9 L114.4 323.7 L116.3 323.4 L118.2 323.2 L120.1 322.9 L122.1 322.6 L124 322.3 L125.9 322 L127.8 321.6 L129.7 321.2 L131.6 320.8 L133.6 320.3 L135.5 319.7 L137.4 319.2 L139.3 318.6 L141.2 317.9 L143.1 317.3 L145.1 316.6 L147 315.9 L148.9 315.1 L150.8 314.3 L152.7 313.4 L154.6 312.6 L156.6 311.7 L158.5 310.8 L160.4 310 L162.3 309.2 L164.2 308.4 L166.1 307.6 L168.1 306.9 L170 306.1 L171.9 305.3 L173.8 304.6 L175.7 303.8 L177.6 303.1 L179.6 302.3 L181.5 301.6 L183.4 300.9 L185.3 300.1 L187.2 299.4 L189.1 298.7 L191.1 297.9 L193 297.2 L194.9 296.5 L196.8 295.8 L198.7 295.1 L200.6 294.4 L202.6 293.7 L204.5 293.1 L206.4 292.4 L208.3 291.8 L210.2 291.2 L212.1 290.7 L214.1 290.1 L216 289.6 L217.9 289.1 L219.8 288.6 L221.7 288.2 L223.6 287.7 L225.6 287.3 L227.5 287 L229.4 286.8 L231.3 286.4 L233.2 286 L235.1 285.5 L237.1 284.8 L239 283.9 L240.9 282.9 L242.8 281.7 L244.7 280.4 L246.6 278.9 L248.6 277.2 L250.5 275.6 L252.4 273.9" fill="none" stroke="#5fa57c" stroke-width="0.95" stroke-linejoin="round" opacity="0.9"/>
<path d="M79.9 309.3 L82.1 310.2 L84.3 311.1 L86.5 312.1 L88.7 313.2 L90.9 314.1 L93.1 314.7 L95.2 315.3 L97.4 315.7 L99.6 316.1 L101.8 316.5 L104 316.7 L106.2 316.9 L108.4 317.1 L110.6 317.2 L112.8 317.2 L115 317.2 L117.2 317.2 L119.4 317.2 L121.6 317.1 L123.7 317 L125.9 317 L128.1 316.9 L130.3 316.9 L132.5 316.8 L134.7 316.7 L136.9 316.6 L139.1 316.4 L141.3 316.2 L143.5 315.9 L145.7 315.6 L147.9 315.1 L150.1 314.6 L152.2 314.1 L154.4 313.5 L156.6 312.9 L158.8 312.3 L161 311.7 L163.2 311.1 L165.4 310.5 L167.6 310 L169.8 309.5 L172 309 L174.2 308.5 L176.4 308 L178.6 307.5 L180.7 307 L182.9 306.4 L185.1 305.9 L187.3 305.4 L189.5 304.9 L191.7 304.4 L193.9 303.8 L196.1 303.3 L198.3 302.7 L200.5 302.1 L202.7 301.5 L204.9 300.9 L207.1 300.2 L209.2 299.5 L211.4 298.8 L213.6 298.1 L215.8 297.3 L218 296.6 L220.2 295.8 L222.4 295 L224.6 294.2 L226.8 293.4 L229 292.6 L231.2 291.8 L233.4 291 L235.6 290.3 L237.7 289.5 L239.9 288.7 L242.1 288 L244.3 287.3 L246.5 286.6 L248.7 285.9 L250.9 285.2 L253.1 284.5 L255.3 283.8 L257.5 283.1 L259.7 282.4 L261.9 281.7 L264.1 281.2 L266.2 280.8 L268.4 280.2 L270.6 279.1 L272.8 277.6 L275 275.7 L277.2 273.9" fill="none" stroke="#b68ad4" stroke-width="0.95" stroke-linejoin="round" opacity="0.9"/>
<path d="M79.9 307.5 L82 306.9 L84 306.5 L86.1 306.2 L88.1 306.4 L90.2 306.8 L92.2 307.3 L94.3 307.8 L96.4 308.4 L98.4 308.9 L100.5 309.5 L102.5 309.9 L104.6 310.4 L106.7 310.7 L108.7 311 L110.8 311.3 L112.8 311.5 L114.9 311.7 L116.9 311.9 L119 312 L121.1 312.1 L123.1 312.2 L125.2 312.2 L127.2 312.2 L129.3 312.2 L131.3 312.2 L133.4 312.1 L135.5 312 L137.5 311.9 L139.6 311.7 L141.6 311.5 L143.7 311.2 L145.8 310.9 L147.8 310.6 L149.9 310.3 L151.9 309.9 L154 309.4 L156 309 L158.1 308.5 L160.2 308 L162.2 307.5 L164.3 307 L166.3 306.5 L168.4 305.9 L170.4 305.4 L172.5 304.8 L174.6 304.2 L176.6 303.7 L178.7 303.1 L180.7 302.5 L182.8 301.9 L184.9 301.3 L186.9 300.7 L189 300.1 L191 299.5 L193.1 298.9 L195.1 298.3 L197.2 297.6 L199.3 297 L201.3 296.4 L203.4 295.7 L205.4 295.1 L207.5 294.4 L209.5 293.7 L211.6 293 L213.7 292.3 L215.7 291.5 L217.8 290.8 L219.8 290 L221.9 289.3 L223.9 288.5 L226 287.8 L228.1 287.1 L230.1 286.4 L232.2 285.7 L234.2 285.1 L236.3 284.5 L238.4 283.9 L240.4 283.3 L242.5 282.8 L244.5 282.2 L246.6 281.7 L248.6 281.1 L250.7 280.6 L252.8 280.1 L254.8 279.6 L256.9 279 L258.9 278 L261 276.8 L263 275.3 L265.1 273.9" fill="none" stroke="#caa24e" stroke-width="0.95" stroke-linejoin="round" opacity="0.9"/>
<path d="M79.9 322.4 L82.2 325.6 L84.5 327.6 L86.8 328.7 L89.1 329.1 L91.4 329 L93.7 328.8 L96 328.4 L98.3 328.1 L100.6 327.6 L102.9 327.2 L105.2 326.8 L107.5 326.4 L109.8 326.1 L112.1 325.7 L114.4 325.4 L116.7 325 L119 324.6 L121.3 324.3 L123.6 323.9 L125.9 323.5 L128.2 323.1 L130.5 322.7 L132.8 322.3 L135.1 321.8 L137.4 321.4 L139.7 320.9 L142 320.4 L144.3 319.9 L146.6 319.3 L148.9 318.7 L151.2 318.1 L153.5 317.5 L155.8 316.9 L158.1 316.2 L160.4 315.6 L162.7 315 L165 314.4 L167.3 313.8 L169.6 313.2 L171.9 312.6 L174.2 312.1 L176.5 311.5 L178.8 311 L181.1 310.4 L183.4 309.9 L185.7 309.3 L188 308.8 L190.3 308.2 L192.6 307.6 L194.9 307 L197.2 306.4 L199.5 305.8 L201.8 305.2 L204.1 304.5 L206.4 303.9 L208.7 303.1 L211 302.4 L213.3 301.7 L215.6 300.9 L217.9 300.1 L220.2 299.4 L222.5 298.6 L224.8 297.8 L227.1 296.9 L229.4 296.1 L231.7 295.3 L234 294.5 L236.3 293.7 L238.6 292.9 L240.9 292.1 L243.2 291.3 L245.5 290.5 L247.8 289.7 L250.1 288.9 L252.4 288.1 L254.7 287.3 L257 286.5 L259.3 285.8 L261.6 285.1 L263.9 284.5 L266.2 284 L268.5 283.6 L270.8 283.1 L273.1 282.6 L275.4 282 L277.7 281.2 L280 280 L282.3 278.4 L284.6 276.3 L286.9 273.9" fill="none" stroke="#45b3c6" stroke-width="0.95" stroke-linejoin="round" opacity="0.9"/>
<path d="M79.9 277.2 L83.3 281.2 L86.6 282.9 L89.9 284 L93.2 285 L96.5 285.6 L99.8 286.1 L103 286.8 L106.2 287.8 L109.4 289.2 L112.6 290.8 L115.7 292.6 L118.9 294.4 L122 296.1 L125.1 297.7 L128.1 299.2 L131.2 300.5 L134.2 301.8 L137.2 303 L140.2 304.2 L143.1 305.4 L146.1 306.6 L149 307.8 L151.9 309 L154.8 310.2 L157.6 311.3 L160.4 312.5 L163.2 313.6 L166 314.7 L168.8 315.7 L171.5 316.8 L174.2 317.8 L176.9 318.7 L179.5 319.6 L182.2 320.4 L184.8 321.2 L187.4 322 L190 322.7 L192.5 323.4 L195 324.1 L197.5 324.8 L200 325.4 L202.4 326 L204.8 326.7 L207.2 327.3 L209.6 327.8 L211.9 328.4 L214.3 328.9 L216.5 329.4 L218.8 329.8 L221 330.3 L223.3 330.8 L225.4 331.3 L227.6 331.8 L229.7 332.3 L231.8 332.8 L233.9 333.3 L235.9 333.8 L238 334.2 L239.9 334.7 L241.9 335.2 L243.8 335.7 L245.7 336.2 L247.6 336.7 L249.5 337.2 L251.3 337.8 L253 338.3 L254.8 338.9 L256.5 339.5 L258.2 340.1 L259.8 340.7 L261.5 341.3 L263.1 342 L264.6 342.7 L266.1 343.5 L267.6 344.3 L269.1 345.2 L270.5 346.1 L271.8 347.1 L273.2 348.2 L274.5 349.5 L275.8 350.9 L277 352.5 L278.2 354.3 L279.3 356.2 L280.4 358.4 L281.5 361.1 L282.5 364.2 L283.4 367.6 L284.4 371.3 L285.2 375.3 L286.1 379.9 L286.8 384.6 L287.5 389.3 L288.2 393.8 L288.8 398.3 L289.3 402.8 L289.8 406.9 L290.1 410.2 L290.4 412.5 L290.5 413.7" fill="none" stroke="#7f8388" stroke-width="0.95" stroke-linejoin="round" opacity="0.9"/>
<path d="M79.9 278.9 L83.2 282.6 L86.5 284.2 L89.7 285.2 L92.9 286.1 L96.2 286.7 L99.4 287.3 L102.5 288 L105.7 288.9 L108.8 290.3 L111.9 291.8 L115 293.5 L118.1 295.2 L121.1 296.9 L124.2 298.4 L127.2 299.8 L130.1 301.1 L133.1 302.4 L136 303.6 L139 304.7 L141.9 305.9 L144.7 307 L147.6 308.2 L150.4 309.3 L153.2 310.5 L156 311.6 L158.8 312.7 L161.6 313.8 L164.3 314.9 L167 315.9 L169.7 316.9 L172.3 317.9 L174.9 318.9 L177.5 319.7 L180.1 320.6 L182.7 321.4 L185.2 322.2 L187.7 322.9 L190.2 323.7 L192.7 324.3 L195.1 325 L197.6 325.7 L200 326.3 L202.3 326.9 L204.7 327.6 L207 328.1 L209.3 328.7 L211.6 329.2 L213.8 329.7 L216 330.3 L218.2 330.8 L220.4 331.3 L222.5 331.8 L224.6 332.3 L226.7 332.9 L228.8 333.4 L230.8 334 L232.8 334.5 L234.8 335.1 L236.7 335.6 L238.6 336.2 L240.5 336.7 L242.4 337.3 L244.2 337.8 L246 338.4 L247.8 339 L249.6 339.7 L251.3 340.4 L253 341 L254.6 341.7 L256.2 342.4 L257.8 343.1 L259.4 343.9 L260.9 344.6 L262.4 345.5 L263.8 346.4 L265.3 347.3 L266.6 348.3 L268 349.4 L269.3 350.6 L270.6 351.9 L271.8 353.4 L273 355 L274.2 356.8 L275.3 358.8 L276.4 361 L277.4 363.6 L278.4 366.6 L279.3 369.9 L280.3 373.4 L281.1 377.3 L281.9 381.6 L282.7 386 L283.4 390.5 L284 394.7 L284.6 399.1 L285.1 403.4 L285.5 407.2 L285.9 410.3 L286.2 412.6 L286.3 413.7" fill="none" stroke="#d9746e" stroke-width="0.95" stroke-linejoin="round" opacity="0.9"/>
<path d="M79.9 281 L83.1 284.3 L86.3 285.7 L89.5 286.6 L92.6 287.5 L95.7 288.1 L98.8 288.7 L101.9 289.4 L105 290.4 L108 291.7 L111.1 293.1 L114.1 294.7 L117.1 296.3 L120 297.8 L123 299.3 L125.9 300.6 L128.8 301.9 L131.7 303.1 L134.6 304.2 L137.4 305.3 L140.2 306.4 L143 307.5 L145.8 308.6 L148.6 309.7 L151.3 310.8 L154 311.9 L156.7 313 L159.4 314.1 L162 315.1 L164.7 316.2 L167.3 317.2 L169.9 318.1 L172.4 319.1 L175 320 L177.5 320.8 L180 321.6 L182.5 322.4 L184.9 323.2 L187.3 323.9 L189.7 324.6 L192.1 325.3 L194.5 326 L196.8 326.7 L199.1 327.3 L201.4 327.9 L203.6 328.5 L205.9 329.1 L208.1 329.7 L210.3 330.2 L212.4 330.8 L214.6 331.3 L216.7 331.9 L218.7 332.5 L220.8 333.1 L222.8 333.7 L224.8 334.3 L226.8 334.9 L228.8 335.5 L230.7 336.1 L232.6 336.7 L234.5 337.4 L236.3 338 L238.1 338.6 L239.9 339.3 L241.7 339.9 L243.4 340.6 L245.1 341.4 L246.7 342.2 L248.4 343 L250 343.7 L251.6 344.5 L253.1 345.4 L254.6 346.2 L256.1 347.1 L257.6 348 L259 349 L260.4 350 L261.7 351.1 L263 352.3 L264.3 353.6 L265.5 355 L266.7 356.5 L267.9 358.2 L269 360.1 L270.1 362 L271.2 364.2 L272.2 366.8 L273.2 369.7 L274.1 372.8 L275 376.1 L275.8 379.8 L276.6 383.7 L277.3 387.8 L278 391.9 L278.6 396 L279.2 400.1 L279.7 404.1 L280.1 407.7 L280.5 410.6 L280.7 412.7 L280.8 413.7" fill="none" stroke="#4f7fc4" stroke-width="0.95" stroke-linejoin="round" opacity="0.9"/>
<path d="M79.9 283.8 L83 286.6 L86 287.8 L89.1 288.6 L92.1 289.3 L95.1 290 L98.1 290.7 L101.1 291.4 L104 292.4 L106.9 293.5 L109.9 294.8 L112.7 296.2 L115.6 297.7 L118.5 299.1 L121.3 300.4 L124.1 301.7 L126.9 302.9 L129.7 304 L132.4 305.1 L135.2 306.1 L137.9 307.2 L140.6 308.2 L143.2 309.2 L145.9 310.3 L148.5 311.3 L151.1 312.4 L153.7 313.4 L156.3 314.4 L158.8 315.5 L161.4 316.5 L163.9 317.4 L166.3 318.4 L168.8 319.3 L171.2 320.2 L173.7 321.1 L176.1 321.9 L178.4 322.8 L180.8 323.5 L183.1 324.3 L185.4 325.1 L187.7 325.8 L190 326.5 L192.2 327.1 L194.4 327.8 L196.6 328.4 L198.8 329 L200.9 329.6 L203.1 330.2 L205.2 330.8 L207.2 331.4 L209.3 332.1 L211.3 332.7 L213.3 333.4 L215.3 334 L217.2 334.7 L219.2 335.4 L221.1 336.1 L222.9 336.8 L224.8 337.5 L226.6 338.2 L228.4 339 L230.2 339.7 L231.9 340.4 L233.6 341.2 L235.3 341.9 L237 342.8 L238.6 343.7 L240.2 344.6 L241.8 345.5 L243.3 346.4 L244.8 347.4 L246.3 348.3 L247.8 349.3 L249.2 350.3 L250.6 351.3 L252 352.4 L253.3 353.6 L254.6 354.9 L255.9 356.2 L257.1 357.6 L258.3 359.1 L259.4 360.7 L260.6 362.5 L261.6 364.3 L262.7 366.4 L263.7 368.5 L264.7 371 L265.6 373.7 L266.5 376.6 L267.3 379.7 L268.1 383 L268.9 386.6 L269.6 390.2 L270.2 393.9 L270.8 397.6 L271.4 401.4 L271.9 405.1 L272.3 408.3 L272.6 410.9 L272.9 412.8 L273 413.7" fill="none" stroke="#5fa57c" stroke-width="0.95" stroke-linejoin="round" opacity="0.9"/>
<path d="M79.9 287.4 L82.9 289.4 L85.8 290.3 L88.8 291 L91.7 291.6 L94.6 292.3 L97.5 293.1 L100.3 293.9 L103.2 294.8 L106 295.8 L108.8 297 L111.6 298.2 L114.4 299.4 L117.1 300.7 L119.9 301.8 L122.6 303 L125.3 304.1 L128 305.1 L130.6 306.1 L133.3 307.1 L135.9 308.1 L138.5 309 L141 310 L143.6 311 L146.1 311.9 L148.7 312.9 L151.2 313.9 L153.6 314.9 L156.1 315.9 L158.5 316.8 L161 317.8 L163.4 318.7 L165.7 319.7 L168.1 320.6 L170.4 321.5 L172.7 322.3 L175 323.2 L177.3 324 L179.6 324.8 L181.8 325.6 L184 326.3 L186.2 327 L188.3 327.7 L190.5 328.4 L192.6 329 L194.7 329.7 L196.8 330.3 L198.8 331 L200.8 331.6 L202.8 332.3 L204.8 333 L206.8 333.7 L208.7 334.5 L210.6 335.2 L212.5 336 L214.4 336.8 L216.2 337.6 L218 338.5 L219.8 339.3 L221.6 340.1 L223.3 341 L225 341.8 L226.7 342.6 L228.3 343.5 L230 344.4 L231.6 345.4 L233.1 346.5 L234.7 347.6 L236.2 348.7 L237.7 349.8 L239.2 350.9 L240.6 352 L242 353.2 L243.4 354.3 L244.7 355.5 L246 356.8 L247.3 358.1 L248.6 359.5 L249.8 361 L251 362.5 L252.1 364.2 L253.2 365.9 L254.3 367.7 L255.4 369.7 L256.4 371.7 L257.4 373.9 L258.3 376.3 L259.2 378.8 L260 381.5 L260.9 384.2 L261.6 387.1 L262.4 390.1 L263 393.2 L263.7 396.4 L264.2 399.7 L264.8 403.1 L265.2 406.2 L265.6 409 L266 411.3 L266.2 412.9 L266.3 413.7" fill="none" stroke="#b68ad4" stroke-width="0.95" stroke-linejoin="round" opacity="0.9"/>
<path d="M79.9 291.3 L82.7 292.7 L85.5 293.2 L88.3 293.7 L91.1 294.2 L93.9 294.9 L96.6 295.8 L99.3 296.6 L102 297.5 L104.7 298.4 L107.4 299.4 L110.1 300.4 L112.7 301.4 L115.3 302.4 L117.9 303.4 L120.5 304.5 L123.1 305.5 L125.6 306.4 L128.1 307.4 L130.7 308.3 L133.1 309.1 L135.6 310 L138.1 310.9 L140.5 311.7 L142.9 312.6 L145.3 313.5 L147.7 314.5 L150.1 315.4 L152.4 316.3 L154.7 317.3 L157 318.2 L159.3 319.1 L161.6 320 L163.8 321 L166 321.9 L168.2 322.7 L170.4 323.6 L172.6 324.5 L174.7 325.3 L176.8 326.1 L178.9 326.9 L181 327.7 L183.1 328.4 L185.1 329 L187.1 329.7 L189.1 330.4 L191.1 331.1 L193 331.8 L194.9 332.5 L196.9 333.2 L198.7 334 L200.6 334.9 L202.4 335.7 L204.3 336.6 L206 337.5 L207.8 338.4 L209.6 339.3 L211.3 340.3 L213 341.2 L214.7 342.2 L216.3 343.2 L217.9 344.2 L219.5 345.2 L221.1 346.2 L222.7 347.3 L224.2 348.4 L225.7 349.7 L227.1 350.9 L228.6 352.3 L230 353.6 L231.4 354.9 L232.8 356.2 L234.1 357.5 L235.4 358.8 L236.7 360.2 L237.9 361.6 L239.2 363.2 L240.4 364.7 L241.5 366.4 L242.6 368.1 L243.7 369.9 L244.8 371.7 L245.8 373.7 L246.8 375.7 L247.8 377.8 L248.7 379.9 L249.6 382.2 L250.5 384.5 L251.3 386.9 L252 389.3 L252.8 391.7 L253.5 394.1 L254.1 396.5 L254.7 399.1 L255.3 402 L255.8 404.9 L256.2 407.6 L256.6 409.9 L256.9 411.7 L257.1 413 L257.2 413.7" fill="none" stroke="#caa24e" stroke-width="0.95" stroke-linejoin="round" opacity="0.9"/>
<path d="M79.9 277.5 L83.2 281.4 L86.6 283.1 L89.9 284.2 L93.2 285.1 L96.4 285.8 L99.7 286.3 L102.9 287 L106.1 288 L109.3 289.4 L112.5 291 L115.6 292.7 L118.7 294.5 L121.8 296.2 L124.9 297.9 L128 299.3 L131 300.6 L134 301.9 L137 303.1 L140 304.3 L142.9 305.5 L145.8 306.7 L148.8 307.9 L151.6 309 L154.5 310.2 L157.3 311.4 L160.1 312.5 L162.9 313.6 L165.7 314.7 L168.5 315.8 L171.2 316.8 L173.9 317.8 L176.6 318.7 L179.2 319.6 L181.8 320.5 L184.4 321.3 L187 322 L189.6 322.8 L192.1 323.5 L194.6 324.1 L197.1 324.8 L199.6 325.5 L202 326.1 L204.4 326.7 L206.8 327.3 L209.2 327.9 L211.5 328.4 L213.8 328.9 L216.1 329.4 L218.3 329.9 L220.6 330.4 L222.8 330.9 L224.9 331.4 L227.1 331.9 L229.2 332.4 L231.3 332.9 L233.4 333.4 L235.4 333.9 L237.4 334.4 L239.4 334.9 L241.3 335.4 L243.3 335.9 L245.2 336.4 L247 336.9 L248.9 337.4 L250.7 338 L252.4 338.6 L254.2 339.2 L255.9 339.8 L257.6 340.4 L259.2 341 L260.8 341.6 L262.4 342.3 L264 343 L265.5 343.8 L267 344.6 L268.4 345.5 L269.8 346.5 L271.2 347.5 L272.5 348.6 L273.8 349.9 L275.1 351.3 L276.3 352.9 L277.5 354.7 L278.6 356.7 L279.7 358.9 L280.8 361.5 L281.8 364.6 L282.7 368 L283.7 371.6 L284.5 375.7 L285.3 380.1 L286.1 384.8 L286.8 389.5 L287.5 393.9 L288.1 398.5 L288.6 402.9 L289 406.9 L289.4 410.2 L289.7 412.5 L289.8 413.7" fill="none" stroke="#45b3c6" stroke-width="0.95" stroke-linejoin="round" opacity="0.9"/>
<line x1="80.6" y1="281.4" x2="80.6" y2="371.7" stroke="#caa24e" stroke-width="1.1" opacity="0.8"/>
<line x1="80.3" y1="306.5" x2="80.3" y2="339.1" stroke="#5fa57c" stroke-width="1.1" opacity="0.8"/>
<rect x="79.9" y="255.3" width="242.1" height="186.3" fill="none" stroke="#555555" stroke-width="1.2"/>
<line x1="79.9" y1="441.6" x2="79.9" y2="445.6" stroke="#555555" stroke-width="1.2" /><line x1="140.4" y1="441.6" x2="140.4" y2="445.6" stroke="#555555" stroke-width="1.2" /><line x1="200.9" y1="441.6" x2="200.9" y2="445.6" stroke="#555555" stroke-width="1.2" /><line x1="261.5" y1="441.6" x2="261.5" y2="445.6" stroke="#555555" stroke-width="1.2" /><line x1="322" y1="441.6" x2="322" y2="445.6" stroke="#555555" stroke-width="1.2" />
<line x1="110.2" y1="441.6" x2="110.2" y2="444.1" stroke="#555555" stroke-width="1.2" /><line x1="170.7" y1="441.6" x2="170.7" y2="444.1" stroke="#555555" stroke-width="1.2" /><line x1="231.2" y1="441.6" x2="231.2" y2="444.1" stroke="#555555" stroke-width="1.2" /><line x1="291.7" y1="441.6" x2="291.7" y2="444.1" stroke="#555555" stroke-width="1.2" />
<line x1="79.9" y1="441.6" x2="75.9" y2="441.6" stroke="#555555" stroke-width="1.2" /><line x1="79.9" y1="395" x2="75.9" y2="395" stroke="#555555" stroke-width="1.2" /><line x1="79.9" y1="348.5" x2="75.9" y2="348.5" stroke="#555555" stroke-width="1.2" /><line x1="79.9" y1="301.9" x2="75.9" y2="301.9" stroke="#555555" stroke-width="1.2" /><line x1="79.9" y1="255.3" x2="75.9" y2="255.3" stroke="#555555" stroke-width="1.2" />
<line x1="79.9" y1="418.3" x2="77.4" y2="418.3" stroke="#555555" stroke-width="1.2" /><line x1="79.9" y1="371.7" x2="77.4" y2="371.7" stroke="#555555" stroke-width="1.2" /><line x1="79.9" y1="325.2" x2="77.4" y2="325.2" stroke="#555555" stroke-width="1.2" /><line x1="79.9" y1="278.6" x2="77.4" y2="278.6" stroke="#555555" stroke-width="1.2" />
<text x="79.9" y="460" font-size="15.8" text-anchor="middle" fill="#1c1c1c" >0</text>
<text x="140.4" y="460" font-size="15.8" text-anchor="middle" fill="#1c1c1c" >50</text>
<text x="200.9" y="460" font-size="15.8" text-anchor="middle" fill="#1c1c1c" >100</text>
<text x="261.5" y="460" font-size="15.8" text-anchor="middle" fill="#1c1c1c" >150</text>
<text x="322" y="460" font-size="15.8" text-anchor="middle" fill="#1c1c1c" >200</text>
<text x="74.3" y="447.1" font-size="16" text-anchor="end" fill="#1c1c1c" >2.5</text>
<text x="74.3" y="400.5" font-size="16" text-anchor="end" fill="#1c1c1c" >3.0</text>
<text x="74.3" y="354" font-size="16" text-anchor="end" fill="#1c1c1c" >3.5</text>
<text x="74.3" y="307.4" font-size="16" text-anchor="end" fill="#1c1c1c" >4.0</text>
<text x="74.3" y="260.8" font-size="16" text-anchor="end" fill="#1c1c1c" >4.5</text>
<text x="201.7" y="478.2" font-size="15.6" text-anchor="middle" fill="#1c1c1c" >Specific capacity (mAh g<tspan font-size="10" dy="-6">-1</tspan><tspan dy="6" font-size="1">&#8203;</tspan>)</text>
<text x="37" y="349" font-size="16" text-anchor="middle" fill="#1c1c1c" transform="rotate(-90 37 349)" >Voltage (V)</text>
<text x="83" y="269" font-size="14" text-anchor="start" fill="#1c1c1c" >BE-TFBn</text>
<line x1="84" y1="344.5" x2="101.5" y2="344.5" stroke="#7f8388" stroke-width="1.5" opacity="0.85"/>
<text x="106.5" y="349" font-size="12.5" text-anchor="start" fill="#1c1c1c" >0.1C</text>
<line x1="84" y1="359.6" x2="101.5" y2="359.6" stroke="#d9746e" stroke-width="1.5" opacity="0.85"/>
<text x="106.5" y="364.1" font-size="12.5" text-anchor="start" fill="#1c1c1c" >0.3C</text>
<line x1="84" y1="374.6" x2="101.5" y2="374.6" stroke="#4f7fc4" stroke-width="1.5" opacity="0.85"/>
<text x="106.5" y="379.1" font-size="12.5" text-anchor="start" fill="#1c1c1c" >0.5C</text>
<line x1="84" y1="389.6" x2="101.5" y2="389.6" stroke="#5fa57c" stroke-width="1.5" opacity="0.85"/>
<text x="106.5" y="394.1" font-size="12.5" text-anchor="start" fill="#1c1c1c" >1C</text>
<line x1="84" y1="404.7" x2="101.5" y2="404.7" stroke="#b68ad4" stroke-width="1.5" opacity="0.85"/>
<text x="106.5" y="409.2" font-size="12.5" text-anchor="start" fill="#1c1c1c" >2C</text>
<line x1="84" y1="419.8" x2="101.5" y2="419.8" stroke="#caa24e" stroke-width="1.5" opacity="0.85"/>
<text x="106.5" y="424.2" font-size="12.5" text-anchor="start" fill="#1c1c1c" >3C</text>
<line x1="84" y1="434.8" x2="101.5" y2="434.8" stroke="#45b3c6" stroke-width="1.5" opacity="0.85"/>
<text x="106.5" y="439.3" font-size="12.5" text-anchor="start" fill="#1c1c1c" >0.1C</text>
<text x="1.8" y="264" font-size="25.5" text-anchor="start" fill="#000" >c</text>
</g>
<g id="panel_d">
<defs>
<clipPath id="clipD"><rect x="438.2" y="254.2" width="243" height="187"/></clipPath>
<linearGradient id="gdBase" gradientUnits="userSpaceOnUse" x1="550" y1="0" x2="681" y2="0">
<stop offset="0.0000" stop-color="#0a0aee"/>
<stop offset="0.0649" stop-color="#0808ee"/>
<stop offset="0.0878" stop-color="#2424f1"/>
<stop offset="0.1107" stop-color="#5c5cf4"/>
<stop offset="0.1336" stop-color="#8e8ef6"/>
<stop offset="0.1603" stop-color="#b2b2f8"/>
<stop offset="0.1985" stop-color="#c6c6fa"/>
<stop offset="0.2519" stop-color="#cfcffa"/>
<stop offset="0.3817" stop-color="#d0d0fa"/>
<stop offset="0.4962" stop-color="#d6d6fb"/>
<stop offset="0.6031" stop-color="#d6d6fb"/>
<stop offset="0.6489" stop-color="#e2e2fc"/>
<stop offset="0.7023" stop-color="#f0f0fe"/>
<stop offset="0.7557" stop-color="#fcfcff"/>
<stop offset="0.7939" stop-color="#fafaff"/>
<stop offset="0.8244" stop-color="#ececfd"/>
<stop offset="0.8702" stop-color="#e2e2fc"/>
<stop offset="0.9160" stop-color="#ebebfd"/>
<stop offset="0.9542" stop-color="#f3f1fc"/>
<stop offset="1.0000" stop-color="#fdecec"/>
</linearGradient>
<filter id="blD2" x="-50%" y="-20%" width="200%" height="140%"><feGaussianBlur stdDeviation="2.2 4"/></filter>
<filter id="blD4" x="-80%" y="-20%" width="260%" height="140%"><feGaussianBlur stdDeviation="4 8"/></filter>
<filter id="blD1" x="-100%" y="-10%" width="300%" height="120%"><feGaussianBlur stdDeviation="1.5 1.1"/></filter>
</defs>
<g clip-path="url(#clipD)">
<rect x="545" y="254.2" width="136.2" height="187" fill="url(#gdBase)"/>
<path d="M552 254 L565 254 L563 275 L561.5 300 L561 330 L560.5 355 L561 380 L562 410 L562 441 L550 441 Z" fill="#0a0aee" stroke="none" stroke-width="0" filter="url(#blD2)"/>
<rect x="560" y="254" width="6" height="187" fill="#4040f2" opacity="0.35" filter="url(#blD2)"/>
<ellipse cx="598" cy="420" rx="7" ry="55" fill="#f4f4ff" opacity="0.9" filter="url(#blD4)"/>
<ellipse cx="586" cy="430" rx="5" ry="35" fill="#efefff" opacity="0.8" filter="url(#blD4)"/>
<ellipse cx="612" cy="300" rx="8" ry="60" fill="#cfcffa" opacity="0.8" filter="url(#blD4)"/>
<ellipse cx="634" cy="410" rx="6" ry="60" fill="#f6f6ff" opacity="0.9" filter="url(#blD4)"/>
<rect x="648" y="330" width="6" height="115" fill="#ffffff" filter="url(#blD2)"/>
<ellipse cx="663.5" cy="360" rx="2.5" ry="80" fill="#d9d9fa" opacity="0.9" filter="url(#blD2)"/>
<ellipse cx="660" cy="436" rx="4" ry="14" fill="#b9b9f6" opacity="0.9" filter="url(#blD2)"/>
<ellipse cx="672" cy="440" rx="5" ry="10" fill="#fbe4e4" opacity="0.9" filter="url(#blD2)"/>
<path d="M438.2 254.2 L549.2 254 L549 257.1 L548.8 260.2 L548.7 263.4 L548.5 266.5 L548.3 269.6 L548.1 272.7 L548 275.8 L547.8 278.9 L547.6 282.1 L547.4 285.2 L547.2 288.3 L547.1 291.4 L546.9 294.5 L546.8 297.6 L546.7 300.8 L546.6 303.9 L546.5 307 L546.4 310.1 L546.3 313.2 L546.2 316.3 L546.2 319.4 L546.2 322.6 L546.2 325.7 L546.3 328.8 L546.3 331.9 L546.4 335 L546.6 338.1 L546.8 341.3 L547.1 344.4 L547.6 347.5 L548.2 350.6 L549 353.7 L549.7 356.9 L550.6 360 L551.5 363.1 L551.8 366.2 L551.2 369.3 L550.5 372.4 L550.1 375.6 L549.7 378.7 L549.3 381.8 L549 384.9 L548.7 388 L548.5 391.1 L548.4 394.2 L548.3 397.4 L548.3 400.5 L548.3 403.6 L548.3 406.7 L548.3 409.8 L548.3 412.9 L548.3 416.1 L548.4 419.2 L548.4 422.3 L548.5 425.4 L548.6 428.5 L548.7 431.6 L548.8 434.8 L548.9 437.9 L549 441 L438.2 441.2 Z" fill="#fdb3b2" stroke="none" stroke-width="0" />
<path d="M438.2 254.2 L551.2 254 L551 257.1 L550.8 260.2 L550.7 263.4 L550.5 266.5 L550.3 269.6 L550.1 272.7 L550 275.8 L549.8 278.9 L549.6 282.1 L549.4 285.2 L549.2 288.3 L549.1 291.4 L548.9 294.5 L548.8 297.6 L548.7 300.8 L548.6 303.9 L548.5 307 L548.4 310.1 L548.3 313.2 L548.2 316.3 L548.2 319.4 L548.2 322.6 L548.2 325.7 L548.3 328.8 L548.3 331.9 L548.4 335 L548.6 338.1 L548.8 341.3 L549.1 344.4 L549.6 347.5 L550.2 350.6 L551 353.7 L551.7 356.9 L552.6 360 L553.5 363.1 L553.8 366.2 L553.2 369.3 L552.5 372.4 L552.1 375.6 L551.7 378.7 L551.3 381.8 L551 384.9 L550.7 388 L550.5 391.1 L550.4 394.2 L550.3 397.4 L550.3 400.5 L550.3 403.6 L550.3 406.7 L550.3 409.8 L550.3 412.9 L550.3 416.1 L550.4 419.2 L550.4 422.3 L550.5 425.4 L550.6 428.5 L550.7 431.6 L550.8 434.8 L550.9 437.9 L551 441 L438.2 441.2 Z" fill="#ffffff" stroke="none" stroke-width="0" />
<path d="M551 254 L550.8 257.1 L550.6 260.2 L550.5 263.4 L550.3 266.5 L550.1 269.6 L549.9 272.7 L549.8 275.8 L549.6 278.9 L549.4 282.1 L549.2 285.2 L549 288.3 L548.9 291.4 L548.7 294.5 L548.6 297.6 L548.5 300.8 L548.4 303.9 L548.3 307 L548.2 310.1 L548.1 313.2 L548 316.3 L548 319.4 L548 322.6 L548 325.7 L548.1 328.8 L548.1 331.9 L548.2 335 L548.4 338.1 L548.6 341.3 L548.9 344.4 L549.4 347.5 L550 350.6 L550.8 353.7 L551.5 356.9 L552.4 360 L553.3 363.1 L553.6 366.2 L553 369.3 L552.3 372.4 L551.9 375.6 L551.5 378.7 L551.1 381.8 L550.8 384.9 L550.5 388 L550.3 391.1 L550.2 394.2 L550.1 397.4 L550.1 400.5 L550.1 403.6 L550.1 406.7 L550.1 409.8 L550.1 412.9 L550.1 416.1 L550.2 419.2 L550.2 422.3 L550.3 425.4 L550.4 428.5 L550.5 431.6 L550.6 434.8 L550.7 437.9 L550.8 441" fill="none" stroke="#ffffff" stroke-width="3.4" filter="url(#blD1)"/>
<path d="M548.6 322.6 L548.6 325.7 L548.7 328.8 L548.7 331.9 L548.8 335 L549 338.1 L549.2 341.3 L549.5 344.4 L550 347.5 L550.6 350.6 L551.4 353.7 L552.1 356.9 L553 360 L553.9 363.1 L554.2 366.2 L553.6 369.3" fill="none" stroke="#ffffff" stroke-width="4.2" filter="url(#blD1)" stroke-linecap="round"/>
<path d="M438.2 254.2 L548.9 254 L548.7 257.1 L548.5 260.2 L548.4 263.4 L548.2 266.5 L548 269.6 L547.8 272.7 L547.7 275.8 L547.5 278.9 L547.3 282.1 L547.1 285.2 L546.9 288.3 L546.8 291.4 L546.6 294.5 L546.5 297.6 L546.4 300.8 L546.3 303.9 L546.2 307 L546.1 310.1 L546 313.2 L545.9 316.3 L545.9 319.4 L545.9 322.6 L545.9 325.7 L546 328.8 L546 331.9 L546.1 335 L546.3 338.1 L546.5 341.3 L546.8 344.4 L547.3 347.5 L547.9 350.6 L548.7 353.7 L549.4 356.9 L550.3 360 L551.2 363.1 L551.5 366.2 L550.9 369.3 L550.2 372.4 L549.8 375.6 L549.4 378.7 L549 381.8 L548.7 384.9 L548.4 388 L548.2 391.1 L548.1 394.2 L548 397.4 L548 400.5 L548 403.6 L548 406.7 L548 409.8 L548 412.9 L548 416.1 L548.1 419.2 L548.1 422.3 L548.2 425.4 L548.3 428.5 L548.4 431.6 L548.5 434.8 L548.6 437.9 L548.7 441 L438.2 441.2 Z" fill="#fdb3b2" stroke="none" stroke-width="0" />
</g>
<line x1="542.8" y1="254.2" x2="542.8" y2="441.2" stroke="#b8585a" stroke-width="0.9" stroke-dasharray="3.5 2.5" opacity="0.9"/>
<line x1="573.3" y1="254.2" x2="573.3" y2="441.2" stroke="#b8585a" stroke-width="0.9" stroke-dasharray="3.5 2.5" opacity="0.9"/>
<line x1="645.9" y1="254.2" x2="645.9" y2="441.2" stroke="#b8585a" stroke-width="0.9" stroke-dasharray="3.5 2.5" opacity="0.9"/>
<line x1="676.8" y1="254.2" x2="676.8" y2="441.2" stroke="#b8585a" stroke-width="0.9" stroke-dasharray="3.5 2.5" opacity="0.9"/>
<text x="443" y="270.7" font-size="14" text-anchor="start" fill="#fde3e1" >BE-TFBn</text>
<text x="457.5" y="346.8" font-size="14" text-anchor="middle" fill="#fddcda" transform="rotate(-90 457.5 346.8)" >Oxidation peaks</text>
<text x="521.5" y="343" font-size="14" text-anchor="middle" fill="#fddcda" transform="rotate(-90 521.5 343)" >Moderate peak shifts</text>
<rect x="438.2" y="254.2" width="243" height="187" fill="none" stroke="#5c4a4a" stroke-width="1"/>
<line x1="462.2" y1="441.2" x2="462.2" y2="444.4" stroke="#555555" stroke-width="1" /><line x1="510.7" y1="441.2" x2="510.7" y2="444.4" stroke="#555555" stroke-width="1" /><line x1="559.2" y1="441.2" x2="559.2" y2="444.4" stroke="#555555" stroke-width="1" /><line x1="607.8" y1="441.2" x2="607.8" y2="444.4" stroke="#555555" stroke-width="1" /><line x1="656.3" y1="441.2" x2="656.3" y2="444.4" stroke="#555555" stroke-width="1" />
<line x1="437.9" y1="441.2" x2="437.9" y2="443.2" stroke="#555555" stroke-width="1" /><line x1="486.5" y1="441.2" x2="486.5" y2="443.2" stroke="#555555" stroke-width="1" /><line x1="535" y1="441.2" x2="535" y2="443.2" stroke="#555555" stroke-width="1" /><line x1="583.5" y1="441.2" x2="583.5" y2="443.2" stroke="#555555" stroke-width="1" /><line x1="632" y1="441.2" x2="632" y2="443.2" stroke="#555555" stroke-width="1" /><line x1="680.6" y1="441.2" x2="680.6" y2="443.2" stroke="#555555" stroke-width="1" />
<text x="462.2" y="459.7" font-size="16" text-anchor="middle" fill="#1c1c1c" >3.4</text>
<text x="510.7" y="459.7" font-size="16" text-anchor="middle" fill="#1c1c1c" >3.6</text>
<text x="559.2" y="459.7" font-size="16" text-anchor="middle" fill="#1c1c1c" >3.8</text>
<text x="607.8" y="459.7" font-size="16" text-anchor="middle" fill="#1c1c1c" >4.0</text>
<text x="656.3" y="459.7" font-size="16" text-anchor="middle" fill="#1c1c1c" >4.2</text>
<text x="559.5" y="478" font-size="16.5" text-anchor="middle" fill="#1c1c1c" >Voltage (V)</text>
<text x="424.5" y="348" font-size="16.5" text-anchor="middle" fill="#1c1c1c" transform="rotate(-90 424.5 348)" >d<tspan font-size="10.5" dy="3.5">Q</tspan><tspan dy="-3.5" font-size="1">&#8203;</tspan>/d<tspan font-size="10.5" dy="3.5">V</tspan><tspan dy="-3.5" font-size="1">&#8203;</tspan> (mAh g<tspan font-size="10" dy="-6">-1</tspan><tspan dy="6" font-size="1">&#8203;</tspan> V<tspan font-size="10" dy="-6">-1</tspan><tspan dy="6" font-size="1">&#8203;</tspan>)</text>
<line x1="397" y1="429" x2="397" y2="272" stroke="#baa5ca" stroke-width="1.6" />
<path d="M397 264.5 L393.8 275.5 L400.2 275.5 Z" fill="#baa5ca"/>
<text x="395" y="316.3" font-size="14.5" text-anchor="start" fill="#1c1c1c" transform="rotate(-90 395 316.3)" >300<tspan font-size="11.5" dy="-6">th</tspan><tspan dy="6" font-size="1">&#8203;</tspan></text>
<text x="395" y="423.5" font-size="14.5" text-anchor="start" fill="#1c1c1c" transform="rotate(-90 395 423.5)" >1<tspan font-size="11.5" dy="-6">th</tspan><tspan dy="6" font-size="1">&#8203;</tspan></text>
<text x="382.1" y="263.8" font-size="26.2" text-anchor="start" fill="#000" >d</text>
</g>
<g id="panel_e">
<defs>
<clipPath id="clipE"><rect x="756.8" y="254" width="240.4" height="186.8"/></clipPath>
<filter id="blE3" x="-50%" y="-50%" width="200%" height="200%"><feGaussianBlur stdDeviation="3.5"/></filter>
<filter id="blE6" x="-50%" y="-50%" width="200%" height="200%"><feGaussianBlur stdDeviation="6"/></filter>
<filter id="blE1" x="-50%" y="-50%" width="200%" height="200%"><feGaussianBlur stdDeviation="1.2"/></filter>
<filter id="blE2" x="-50%" y="-50%" width="200%" height="200%"><feGaussianBlur stdDeviation="2"/></filter>
</defs>
<g clip-path="url(#clipE)">
<rect x="850" y="254" width="147.2" height="186.8" fill="#fcfcff"/>
<rect x="955" y="250" width="45" height="195" fill="#ededfc" filter="url(#blE6)"/>
<ellipse cx="935" cy="285" rx="22" ry="30" fill="#f0f0fd" filter="url(#blE6)"/>
<path d="M876 248 L893 248 L891 300 L894 330 L903 350 L903 385 L894 400 L891 430 L888 446 L866 446 L870 400 L870 330 L874 290 Z" fill="#c6c6f7" filter="url(#blE3)"/>
<path d="M878 250 L887 250 L885 300 L884 340 L885 400 L882 444 L872 444 L875 400 L875 340 Z" fill="#a8a8f3" opacity="0.9" filter="url(#blE3)"/>
<path d="M880 318 L905 322 L925 312 L947 298 L951 320 L953 390 L940 397 L905 397 L890 402 L878 398 Z" fill="#d4d4fa" filter="url(#blE6)"/>
<ellipse cx="913" cy="360" rx="31" ry="13" fill="#b4b4f5" filter="url(#blE6)"/>
<ellipse cx="900" cy="363" rx="20" ry="8" fill="#a4a4f2" opacity="0.85" filter="url(#blE6)"/>
<ellipse cx="880" cy="438" rx="14" ry="9" fill="#b0b0f5" filter="url(#blE3)"/>
<path d="M869 320 L871 320 L869 380 L872 405 L874 425 L862 425 L858 404 L864 380 Z" fill="#ffffff" filter="url(#blE1)"/>
<linearGradient id="lgE" gradientUnits="userSpaceOnUse" x1="857" y1="0" x2="876" y2="0"><stop offset="0" stop-color="#000058"/><stop offset="0.12" stop-color="#0000b0"/><stop offset="0.3" stop-color="#0808e6"/><stop offset="0.5" stop-color="#4a4af2"/><stop offset="0.72" stop-color="#a8a8f8"/><stop offset="1" stop-color="#e0e0fc" stop-opacity="0"/></linearGradient>
<path d="M855 405 Q861 409 864 420 Q868 430 878 436 L880 444 L855 444 Z" fill="url(#lgE)" filter="url(#blE1)"/>
<ellipse cx="973" cy="432" rx="2.6" ry="16" fill="#9a9af2" filter="url(#blE2)"/>
<ellipse cx="976" cy="350" rx="2.5" ry="30" fill="#dadafa" filter="url(#blE2)"/>
<ellipse cx="994" cy="436" rx="6" ry="12" fill="#fbdedd" filter="url(#blE3)"/>
<ellipse cx="925" cy="257" rx="8" ry="4" fill="#fdeeee" filter="url(#blE3)"/>
<path d="M756.8 254 L875.2 254 L873.8 275 L871.5 300 L869.6 327 L868.3 345 L866 365 L862.5 385 L858.5 404 L857 412 L857 441 L756.8 440.8 Z" fill="#fdb3b2" stroke="none" stroke-width="0" />
</g>
<path d="M857 440 L860.5 404 L869.5 320 L876.7 254" fill="none" stroke="#c25a58" stroke-width="0.9" stroke-dasharray="3.5 2.5" opacity="0.85" fill="none"/>
<path d="M904.4 254 L905 326.5 L945.2 306.9 L951.4 391 L908 392.5 L895.7 440" fill="none" stroke="#c25a58" stroke-width="0.9" stroke-dasharray="3.5 2.5" opacity="0.85" fill="none"/>
<path d="M959.7 440 L980.3 254" fill="none" stroke="#c25a58" stroke-width="0.9" stroke-dasharray="3.5 2.5" opacity="0.85" fill="none"/>
<path d="M983.4 440 L996.8 258" fill="none" stroke="#c25a58" stroke-width="0.9" stroke-dasharray="3.5 2.5" opacity="0.85" fill="none"/>
<text x="763" y="269.7" font-size="13.5" text-anchor="start" fill="#fde3e1" >BE</text>
<text x="775" y="346" font-size="14" text-anchor="middle" fill="#fddcda" transform="rotate(-90 775 346)" >Oxidation peaks</text>
<text x="840" y="342.4" font-size="14" text-anchor="middle" fill="#fddcda" transform="rotate(-90 840 342.4)" >Severe peak shifts</text>
<rect x="756.8" y="254" width="240.4" height="186.8" fill="none" stroke="#5c4a4a" stroke-width="1"/>
<line x1="780.7" y1="440.8" x2="780.7" y2="444" stroke="#555555" stroke-width="1" /><line x1="828.8" y1="440.8" x2="828.8" y2="444" stroke="#555555" stroke-width="1" /><line x1="876.9" y1="440.8" x2="876.9" y2="444" stroke="#555555" stroke-width="1" /><line x1="925" y1="440.8" x2="925" y2="444" stroke="#555555" stroke-width="1" /><line x1="973.1" y1="440.8" x2="973.1" y2="444" stroke="#555555" stroke-width="1" />
<line x1="756.6" y1="440.8" x2="756.6" y2="442.8" stroke="#555555" stroke-width="1" /><line x1="804.8" y1="440.8" x2="804.8" y2="442.8" stroke="#555555" stroke-width="1" /><line x1="852.9" y1="440.8" x2="852.9" y2="442.8" stroke="#555555" stroke-width="1" /><line x1="901" y1="440.8" x2="901" y2="442.8" stroke="#555555" stroke-width="1" /><line x1="949" y1="440.8" x2="949" y2="442.8" stroke="#555555" stroke-width="1" /><line x1="997.1" y1="440.8" x2="997.1" y2="442.8" stroke="#555555" stroke-width="1" />
<text x="780.7" y="459.7" font-size="16" text-anchor="middle" fill="#1c1c1c" >3.4</text>
<text x="828.8" y="459.7" font-size="16" text-anchor="middle" fill="#1c1c1c" >3.6</text>
<text x="876.9" y="459.7" font-size="16" text-anchor="middle" fill="#1c1c1c" >3.8</text>
<text x="925" y="459.7" font-size="16" text-anchor="middle" fill="#1c1c1c" >4.0</text>
<text x="973.1" y="459.7" font-size="16" text-anchor="middle" fill="#1c1c1c" >4.2</text>
<text x="877" y="478" font-size="16.5" text-anchor="middle" fill="#1c1c1c" >Voltage (V)</text>
<text x="744" y="347" font-size="16.5" text-anchor="middle" fill="#1c1c1c" transform="rotate(-90 744 347)" >d<tspan font-size="10.5" dy="3.5">Q</tspan><tspan dy="-3.5" font-size="1">&#8203;</tspan>/d<tspan font-size="10.5" dy="3.5">V</tspan><tspan dy="-3.5" font-size="1">&#8203;</tspan> (mAh g<tspan font-size="10" dy="-6">-1</tspan><tspan dy="6" font-size="1">&#8203;</tspan> V<tspan font-size="10" dy="-6">-1</tspan><tspan dy="6" font-size="1">&#8203;</tspan>)</text>
<line x1="715.8" y1="427" x2="715.8" y2="272" stroke="#baa5ca" stroke-width="1.6" />
<path d="M715.8 264.5 L712.6 275.5 L719 275.5 Z" fill="#baa5ca"/>
<text x="713.5" y="313.5" font-size="14.5" text-anchor="start" fill="#1c1c1c" transform="rotate(-90 713.5 313.5)" >300<tspan font-size="11.5" dy="-6">th</tspan><tspan dy="6" font-size="1">&#8203;</tspan></text>
<text x="713.5" y="422.3" font-size="14.5" text-anchor="start" fill="#1c1c1c" transform="rotate(-90 713.5 422.3)" >1<tspan font-size="11.5" dy="-6">th</tspan><tspan dy="6" font-size="1">&#8203;</tspan></text>
<text x="695.2" y="263" font-size="27" text-anchor="start" fill="#000" >e</text>
</g>
<g id="panel_f">
<path d="M81.9 511.7 L84.4 511.9 L86.8 511.8 L89.2 511.9 L91.7 511.9 L94.1 511.7 L96.5 511.6 L99 512 L101.4 511.7 L103.8 511.7 L106.3 512 L108.7 511.8 L111.1 512 L113.6 511.8 L116 511.9 L118.4 511.7 L120.9 511.9 L123.3 512 L125.7 511.8 L128.2 511.9 L130.6 511.9 L133 511.7 L135.5 511.9 L137.9 511.9 L140.3 511.8 L142.8 511.6 L145.2 512 L147.6 511.8 L150.1 511.9 L152.5 512 L154.9 511.9 L157.4 512 L159.8 511.8 L162.2 512 L164.7 511.8 L167.1 512 L169.5 512 L172 511.7 L174.4 511.7 L176.8 511.7 L179.3 512 L181.7 511.8 L184.1 511.9 L186.6 511.8 L189 511.8 L191.4 511.8 L193.9 511.8 L196.3 511.9 L198.7 511.9 L201.2 512 L203.6 511.9 L206 512 L208.4 512 L210.9 512 L213.3 511.9 L215.7 511.7 L218.2 512 L220.6 512 L223 512 L225.5 511.9 L227.9 511.9 L230.3 511.7 L232.8 512 L235.2 511.9 L237.6 511.7 L240.1 511.7 L242.5 512 L244.9 512 L247.4 511.7 L249.8 512 L252.2 511.8 L254.7 511.7 L257.1 511.8 L259.5 511.9 L262 512 L264.4 511.7 L266.8 511.9 L269.3 511.7 L271.7 511.9 L274.1 511.8 L276.6 512 L279 512 L281.4 511.8 L283.9 512 L286.3 511.8 L288.7 511.7 L291.2 511.9 L293.6 511.6 L296 511.7 L298.5 511.8 L300.9 511.9 L303.3 511.7 L305.8 511.7 L308.2 512 L310.6 511.8 L313.1 512 L315.5 512 L317.9 511.8 L320.4 511.8" fill="none" stroke="#fce4e2" stroke-width="8" stroke-linecap="round" stroke-linejoin="round" opacity="0.8"/>
<path d="M81.9 511.7 L84.4 511.9 L86.8 511.8 L89.2 511.9 L91.7 511.9 L94.1 511.7 L96.5 511.6 L99 512 L101.4 511.7 L103.8 511.7 L106.3 512 L108.7 511.8 L111.1 512 L113.6 511.8 L116 511.9 L118.4 511.7 L120.9 511.9 L123.3 512 L125.7 511.8 L128.2 511.9 L130.6 511.9 L133 511.7 L135.5 511.9 L137.9 511.9 L140.3 511.8 L142.8 511.6 L145.2 512 L147.6 511.8 L150.1 511.9 L152.5 512 L154.9 511.9 L157.4 512 L159.8 511.8 L162.2 512 L164.7 511.8 L167.1 512 L169.5 512 L172 511.7 L174.4 511.7 L176.8 511.7 L179.3 512 L181.7 511.8 L184.1 511.9 L186.6 511.8 L189 511.8 L191.4 511.8 L193.9 511.8 L196.3 511.9 L198.7 511.9 L201.2 512 L203.6 511.9 L206 512 L208.4 512 L210.9 512 L213.3 511.9 L215.7 511.7 L218.2 512 L220.6 512 L223 512 L225.5 511.9 L227.9 511.9 L230.3 511.7 L232.8 512 L235.2 511.9 L237.6 511.7 L240.1 511.7 L242.5 512 L244.9 512 L247.4 511.7 L249.8 512 L252.2 511.8 L254.7 511.7 L257.1 511.8 L259.5 511.9 L262 512 L264.4 511.7 L266.8 511.9 L269.3 511.7 L271.7 511.9 L274.1 511.8 L276.6 512 L279 512 L281.4 511.8 L283.9 512 L286.3 511.8 L288.7 511.7 L291.2 511.9 L293.6 511.6 L296 511.7 L298.5 511.8 L300.9 511.9 L303.3 511.7 L305.8 511.7 L308.2 512 L310.6 511.8 L313.1 512 L315.5 512 L317.9 511.8 L320.4 511.8" fill="none" stroke="#f9c4bf" stroke-width="5" stroke-linecap="round" stroke-linejoin="round"/>
<path d="M81.9 515.4 L84.4 515.4 L86.8 515.4 L89.2 515.4 L91.7 515.4 L94.1 515.4 L96.5 515.4 L99 515.4 L101.4 515.4 L103.8 515.4 L106.3 515.4 L108.7 515.4 L111.1 515.4 L113.6 515.4 L116 515.4 L118.4 515.4 L120.9 515.4 L123.3 515.4 L125.7 515.4 L128.2 515.4 L130.6 515.4 L133 515.4 L135.5 515.4 L137.9 515.4 L140.3 515.4 L142.8 515.4 L145.2 515.4 L147.6 515.4 L150.1 515.4 L152.5 515.4 L154.9 515.4 L157.4 515.4 L159.8 515.4 L162.2 515.4 L164.7 515.4 L167.1 515.4 L169.5 515.4 L172 515.4 L174.4 515.4 L176.8 515.4 L179.3 515.4 L181.7 515.4 L184.1 515.4 L186.6 515.4 L189 515.4" fill="none" stroke="#a9c6e6" stroke-width="1.6" stroke-linecap="round"/>
<circle cx="81.1" cy="507.6" r="2.8" fill="none" stroke="#f9c4bf" stroke-width="0.9"/>
<circle cx="81.1" cy="516.4" r="2.8" fill="none" stroke="#a9c6e6" stroke-width="0.9"/>
<path d="M80.3 595 L81.9 593 L83.6 592.4 L85.2 592.3 L86.8 592.3 L88.4 592.3 L90 592.8 L91.7 593.1 L93.3 593.3 L94.9 593.9 L96.5 594.1 L98.2 594.1 L99.8 594.8 L101.4 595.2 L103 596 L104.6 596.1 L106.3 596.3 L107.9 596.8 L109.5 596.4 L111.1 596.4 L112.8 596.6 L114.4 596 L116 595.9 L117.6 595.5 L119.2 595.5 L120.9 595.2 L122.5 595 L124.1 595.2 L125.7 595 L127.3 594.5 L129 594.1 L130.6 594.4 L132.2 594.1 L133.8 593.9 L135.5 594 L137.1 593.9 L138.7 593.9 L140.3 593.9 L141.9 593.8 L143.6 594 L145.2 594 L146.8 593.8 L148.4 594.3 L150.1 594.1 L151.7 594.1 L153.3 594.4 L154.9 594.5 L156.5 594.3 L158.2 594.7 L159.8 594.8 L161.4 594.8 L163 594.7 L164.7 595.2 L166.3 595.2 L167.9 595.4 L169.5 595.2 L171.1 595.6 L172.8 595.6 L174.4 596.2 L176 596.2 L177.6 596.3 L179.3 596.4 L180.9 596.9 L182.5 597.3 L184.1 597.7 L185.7 597.8 L187.4 598.6 L189 599 L190.6 599.6 L192.2 600.6 L193.9 600.9 L195.5 600.8 L197.1 601 L198.7 601.1 L200.3 601.5 L202 601.7 L203.6 601.7 L205.2 601.4 L206.8 601.8 L208.4 601.8 L210.1 601.8 L211.7 601.8 L213.3 601.8 L214.9 601.4 L216.6 601.8 L218.2 601.8 L219.8 601.2 L221.4 601.3 L223 601.2 L224.7 601.7 L226.3 601.6 L227.9 602.1 L229.5 603.1 L231.2 603.4 L232.8 603.9 L234.4 604.4 L236 604.6 L237.6 604.8 L239.3 604.8 L240.9 604.9 L242.5 605 L244.1 604.7 L245.8 604.8 L247.4 604.5 L249 605 L250.6 604.4 L252.2 604.5 L253.9 604.4 L255.5 604.4 L257.1 604.4 L258.7 604.7 L260.4 605.1 L262 604.7 L263.6 605.1 L265.2 605.1 L266.8 604.9 L268.5 605.1 L270.1 605.2 L271.7 605 L273.3 605.3 L275 605.5 L276.6 605.7 L278.2 605.4 L279.8 605.7 L281.4 605.6 L283.1 606 L284.7 606.1 L286.3 606 L287.9 606 L289.5 606.4 L291.2 606.2 L292.8 606.2 L294.4 606.4 L296 606.4 L297.7 607 L299.3 606.8 L300.9 606.7 L302.5 607.3 L304.1 607.3 L305.8 607.4 L307.4 607.4 L309 607.5 L310.6 607.6 L312.3 607.5 L313.9 608.1 L315.5 608.2 L317.1 608.3 L318.7 608.4 L320.4 608.5 L322 608.1" fill="none" stroke="#fbdad6" stroke-width="8.5" stroke-linecap="round" stroke-linejoin="round" opacity="0.55"/>
<path d="M80.3 596.3 L81.1 597.3 L81.9 598.3 L82.7 599.6 L83.6 600.9 L84.4 602.2 L85.2 603.6 L86 604.9 L86.8 606.2 L87.6 607.3 L88.4 608.4 L89.2 609.5 L90 610.5 L90.9 611.5 L91.7 612.5 L92.5 613.4 L93.3 614.4 L94.1 615.3 L94.9 616.2 L95.7 617 L96.5 617.9 L97.3 618.7 L98.2 619.5 L99 620.2 L99.8 621 L100.6 621.7 L101.4 622.4 L102.2 623.1 L103 623.8 L103.8 624.5 L104.6 625.2 L105.5 625.9 L106.3 626.6 L107.1 627.3 L107.9 628 L108.7 628.7 L109.5 629.4 L110.3 630 L111.1 630.6 L111.9 631.2 L112.8 631.8 L113.6 632.4 L114.4 632.9 L115.2 633.5 L116 634 L116.8 634.5 L117.6 635 L118.4 635.5 L119.2 636 L120 636.5 L120.9 637 L121.7 637.5 L122.5 638 L123.3 638.5 L124.1 639 L124.9 639.5 L125.7 639.9 L126.5 640.4 L127.3 640.9 L128.2 641.3 L129 641.8 L129.8 642.2 L130.6 642.6 L131.4 643.1 L132.2 643.5 L133 643.9 L133.8 644.3 L134.6 644.7 L135.5 645.1 L136.3 645.4 L137.1 645.8 L137.9 646.2 L138.7 646.5 L139.5 646.9 L140.3 647.2 L141.1 647.5 L141.9 647.8 L142.8 648.2 L143.6 648.5 L144.4 648.8 L145.2 649.1 L146 649.4 L146.8 649.7 L147.6 650 L148.4 650.4 L149.2 650.6 L150.1 650.9 L150.9 651.2 L151.7 651.5 L152.5 651.8 L153.3 652.1 L154.1 652.4 L154.9 652.6 L155.7 652.9 L156.5 653.2 L157.4 653.4 L158.2 653.7 L159 653.9 L159.8 654.2 L160.6 654.4 L161.4 654.6 L162.2 654.8 L163 655 L163.8 655.2 L164.7 655.4 L165.5 655.6 L166.3 655.7 L167.1 655.9 L167.9 656.1 L168.7 656.3 L169.5 656.5 L170.3 656.7 L171.1 656.9 L172 657 L172.8 657.2 L173.6 657.4 L174.4 657.6 L175.2 657.8 L176 658 L176.8 658.2 L177.6 658.3 L178.4 658.5 L179.3 658.6 L180.1 658.8 L180.9 658.9 L181.7 659.1 L182.5 659.2 L183.3 659.4 L184.1 659.5 L184.9 659.6 L185.7 659.8 L186.6 659.9 L187.4 660 L188.2 660.2 L189 660.3 L189.8 660.4" fill="none" stroke="#cfe3f4" stroke-width="8.5" stroke-linecap="round" stroke-linejoin="round" opacity="0.6"/>
<path d="M80.3 595 L81.9 593 L83.6 592.4 L85.2 592.3 L86.8 592.3 L88.4 592.3 L90 592.8 L91.7 593.1 L93.3 593.3 L94.9 593.9 L96.5 594.1 L98.2 594.1 L99.8 594.8 L101.4 595.2 L103 596 L104.6 596.1 L106.3 596.3 L107.9 596.8 L109.5 596.4 L111.1 596.4 L112.8 596.6 L114.4 596 L116 595.9 L117.6 595.5 L119.2 595.5 L120.9 595.2 L122.5 595 L124.1 595.2 L125.7 595 L127.3 594.5 L129 594.1 L130.6 594.4 L132.2 594.1 L133.8 593.9 L135.5 594 L137.1 593.9 L138.7 593.9 L140.3 593.9 L141.9 593.8 L143.6 594 L145.2 594 L146.8 593.8 L148.4 594.3 L150.1 594.1 L151.7 594.1 L153.3 594.4 L154.9 594.5 L156.5 594.3 L158.2 594.7 L159.8 594.8 L161.4 594.8 L163 594.7 L164.7 595.2 L166.3 595.2 L167.9 595.4 L169.5 595.2 L171.1 595.6 L172.8 595.6 L174.4 596.2 L176 596.2 L177.6 596.3 L179.3 596.4 L180.9 596.9 L182.5 597.3 L184.1 597.7 L185.7 597.8 L187.4 598.6 L189 599 L190.6 599.6 L192.2 600.6 L193.9 600.9 L195.5 600.8 L197.1 601 L198.7 601.1 L200.3 601.5 L202 601.7 L203.6 601.7 L205.2 601.4 L206.8 601.8 L208.4 601.8 L210.1 601.8 L211.7 601.8 L213.3 601.8 L214.9 601.4 L216.6 601.8 L218.2 601.8 L219.8 601.2 L221.4 601.3 L223 601.2 L224.7 601.7 L226.3 601.6 L227.9 602.1 L229.5 603.1 L231.2 603.4 L232.8 603.9 L234.4 604.4 L236 604.6 L237.6 604.8 L239.3 604.8 L240.9 604.9 L242.5 605 L244.1 604.7 L245.8 604.8 L247.4 604.5 L249 605 L250.6 604.4 L252.2 604.5 L253.9 604.4 L255.5 604.4 L257.1 604.4 L258.7 604.7 L260.4 605.1 L262 604.7 L263.6 605.1 L265.2 605.1 L266.8 604.9 L268.5 605.1 L270.1 605.2 L271.7 605 L273.3 605.3 L275 605.5 L276.6 605.7 L278.2 605.4 L279.8 605.7 L281.4 605.6 L283.1 606 L284.7 606.1 L286.3 606 L287.9 606 L289.5 606.4 L291.2 606.2 L292.8 606.2 L294.4 606.4 L296 606.4 L297.7 607 L299.3 606.8 L300.9 606.7 L302.5 607.3 L304.1 607.3 L305.8 607.4 L307.4 607.4 L309 607.5 L310.6 607.6 L312.3 607.5 L313.9 608.1 L315.5 608.2 L317.1 608.3 L318.7 608.4 L320.4 608.5 L322 608.1" fill="none" stroke="#ee948b" stroke-width="4.6" stroke-linecap="round" stroke-linejoin="round"/>
<path d="M80.3 596.3 L81.1 597.3 L81.9 598.3 L82.7 599.6 L83.6 600.9 L84.4 602.2 L85.2 603.6 L86 604.9 L86.8 606.2 L87.6 607.3 L88.4 608.4 L89.2 609.5 L90 610.5 L90.9 611.5 L91.7 612.5 L92.5 613.4 L93.3 614.4 L94.1 615.3 L94.9 616.2 L95.7 617 L96.5 617.9 L97.3 618.7 L98.2 619.5 L99 620.2 L99.8 621 L100.6 621.7 L101.4 622.4 L102.2 623.1 L103 623.8 L103.8 624.5 L104.6 625.2 L105.5 625.9 L106.3 626.6 L107.1 627.3 L107.9 628 L108.7 628.7 L109.5 629.4 L110.3 630 L111.1 630.6 L111.9 631.2 L112.8 631.8 L113.6 632.4 L114.4 632.9 L115.2 633.5 L116 634 L116.8 634.5 L117.6 635 L118.4 635.5 L119.2 636 L120 636.5 L120.9 637 L121.7 637.5 L122.5 638 L123.3 638.5 L124.1 639 L124.9 639.5 L125.7 639.9 L126.5 640.4 L127.3 640.9 L128.2 641.3 L129 641.8 L129.8 642.2 L130.6 642.6 L131.4 643.1 L132.2 643.5 L133 643.9 L133.8 644.3 L134.6 644.7 L135.5 645.1 L136.3 645.4 L137.1 645.8 L137.9 646.2 L138.7 646.5 L139.5 646.9 L140.3 647.2 L141.1 647.5 L141.9 647.8 L142.8 648.2 L143.6 648.5 L144.4 648.8 L145.2 649.1 L146 649.4 L146.8 649.7 L147.6 650 L148.4 650.4 L149.2 650.6 L150.1 650.9 L150.9 651.2 L151.7 651.5 L152.5 651.8 L153.3 652.1 L154.1 652.4 L154.9 652.6 L155.7 652.9 L156.5 653.2 L157.4 653.4 L158.2 653.7 L159 653.9 L159.8 654.2 L160.6 654.4 L161.4 654.6 L162.2 654.8 L163 655 L163.8 655.2 L164.7 655.4 L165.5 655.6 L166.3 655.7 L167.1 655.9 L167.9 656.1 L168.7 656.3 L169.5 656.5 L170.3 656.7 L171.1 656.9 L172 657 L172.8 657.2 L173.6 657.4 L174.4 657.6 L175.2 657.8 L176 658 L176.8 658.2 L177.6 658.3 L178.4 658.5 L179.3 658.6 L180.1 658.8 L180.9 658.9 L181.7 659.1 L182.5 659.2 L183.3 659.4 L184.1 659.5 L184.9 659.6 L185.7 659.8 L186.6 659.9 L187.4 660 L188.2 660.2 L189 660.3 L189.8 660.4" fill="none" stroke="#789dca" stroke-width="4.6" stroke-linecap="round" stroke-linejoin="round"/>
<circle cx="79.9" cy="537" r="3" fill="#e9877d"/>
<line x1="79.5" y1="503.4" x2="79.5" y2="690.3" stroke="#555555" stroke-width="1.2" />
<line x1="79.5" y1="690.3" x2="322.8" y2="690.3" stroke="#555555" stroke-width="1.2" />
<line x1="322.8" y1="503.4" x2="322.8" y2="690.3" stroke="#555555" stroke-width="1.2" />
<line x1="79.5" y1="503.4" x2="322.8" y2="503.4" stroke="#666" stroke-width="1" />
<line x1="79.5" y1="690.3" x2="79.5" y2="695.8" stroke="#555555" stroke-width="1.2" /><line x1="120" y1="690.3" x2="120" y2="695.8" stroke="#555555" stroke-width="1.2" /><line x1="160.6" y1="690.3" x2="160.6" y2="695.8" stroke="#555555" stroke-width="1.2" /><line x1="201.2" y1="690.3" x2="201.2" y2="695.8" stroke="#555555" stroke-width="1.2" /><line x1="241.7" y1="690.3" x2="241.7" y2="695.8" stroke="#555555" stroke-width="1.2" /><line x1="282.2" y1="690.3" x2="282.2" y2="695.8" stroke="#555555" stroke-width="1.2" /><line x1="322.8" y1="690.3" x2="322.8" y2="695.8" stroke="#555555" stroke-width="1.2" />
<line x1="99.8" y1="690.3" x2="99.8" y2="693.3" stroke="#555555" stroke-width="1.2" /><line x1="140.3" y1="690.3" x2="140.3" y2="693.3" stroke="#555555" stroke-width="1.2" /><line x1="180.9" y1="690.3" x2="180.9" y2="693.3" stroke="#555555" stroke-width="1.2" /><line x1="221.4" y1="690.3" x2="221.4" y2="693.3" stroke="#555555" stroke-width="1.2" /><line x1="262" y1="690.3" x2="262" y2="693.3" stroke="#555555" stroke-width="1.2" /><line x1="302.5" y1="690.3" x2="302.5" y2="693.3" stroke="#555555" stroke-width="1.2" />
<line x1="79.5" y1="690.3" x2="74" y2="690.3" stroke="#555555" stroke-width="1.2" /><line x1="79.5" y1="652.9" x2="74" y2="652.9" stroke="#555555" stroke-width="1.2" /><line x1="79.5" y1="615.5" x2="74" y2="615.5" stroke="#555555" stroke-width="1.2" /><line x1="79.5" y1="578.2" x2="74" y2="578.2" stroke="#555555" stroke-width="1.2" /><line x1="79.5" y1="540.8" x2="74" y2="540.8" stroke="#555555" stroke-width="1.2" /><line x1="79.5" y1="503.4" x2="74" y2="503.4" stroke="#555555" stroke-width="1.2" />
<line x1="79.5" y1="671.6" x2="76.5" y2="671.6" stroke="#555555" stroke-width="1.2" /><line x1="79.5" y1="634.2" x2="76.5" y2="634.2" stroke="#555555" stroke-width="1.2" /><line x1="79.5" y1="596.8" x2="76.5" y2="596.8" stroke="#555555" stroke-width="1.2" /><line x1="79.5" y1="559.5" x2="76.5" y2="559.5" stroke="#555555" stroke-width="1.2" /><line x1="79.5" y1="522.1" x2="76.5" y2="522.1" stroke="#555555" stroke-width="1.2" />
<line x1="322.8" y1="690.3" x2="328.3" y2="690.3" stroke="#555555" stroke-width="1.2" /><line x1="322.8" y1="654.8" x2="328.3" y2="654.8" stroke="#555555" stroke-width="1.2" /><line x1="322.8" y1="619.3" x2="328.3" y2="619.3" stroke="#555555" stroke-width="1.2" /><line x1="322.8" y1="583.9" x2="328.3" y2="583.9" stroke="#555555" stroke-width="1.2" /><line x1="322.8" y1="548.4" x2="328.3" y2="548.4" stroke="#555555" stroke-width="1.2" /><line x1="322.8" y1="512.9" x2="328.3" y2="512.9" stroke="#555555" stroke-width="1.2" />
<line x1="322.8" y1="672.6" x2="325.8" y2="672.6" stroke="#555555" stroke-width="1.2" /><line x1="322.8" y1="637.1" x2="325.8" y2="637.1" stroke="#555555" stroke-width="1.2" /><line x1="322.8" y1="601.6" x2="325.8" y2="601.6" stroke="#555555" stroke-width="1.2" /><line x1="322.8" y1="566.1" x2="325.8" y2="566.1" stroke="#555555" stroke-width="1.2" /><line x1="322.8" y1="530.6" x2="325.8" y2="530.6" stroke="#555555" stroke-width="1.2" />
<text x="79.5" y="711.3" font-size="16" text-anchor="middle" fill="#1c1c1c" >0</text>
<text x="120" y="711.3" font-size="16" text-anchor="middle" fill="#1c1c1c" >50</text>
<text x="160.6" y="711.3" font-size="16" text-anchor="middle" fill="#1c1c1c" >100</text>
<text x="201.2" y="711.3" font-size="16" text-anchor="middle" fill="#1c1c1c" >150</text>
<text x="241.7" y="711.3" font-size="16" text-anchor="middle" fill="#1c1c1c" >200</text>
<text x="282.2" y="711.3" font-size="16" text-anchor="middle" fill="#1c1c1c" >250</text>
<text x="322.8" y="711.3" font-size="16" text-anchor="middle" fill="#1c1c1c" >300</text>
<text x="71.2" y="695.8" font-size="16" text-anchor="end" fill="#1c1c1c" >0</text>
<text x="71.2" y="658.4" font-size="16" text-anchor="end" fill="#1c1c1c" >50</text>
<text x="71.2" y="621" font-size="16" text-anchor="end" fill="#1c1c1c" >100</text>
<text x="71.2" y="583.7" font-size="16" text-anchor="end" fill="#1c1c1c" >150</text>
<text x="71.2" y="546.3" font-size="16" text-anchor="end" fill="#1c1c1c" >200</text>
<text x="71.2" y="508.9" font-size="16" text-anchor="end" fill="#1c1c1c" >250</text>
<text x="330.8" y="695.8" font-size="16" text-anchor="start" fill="#1c1c1c" >0</text>
<text x="330.8" y="660.3" font-size="16" text-anchor="start" fill="#1c1c1c" >20</text>
<text x="330.8" y="624.8" font-size="16" text-anchor="start" fill="#1c1c1c" >40</text>
<text x="330.8" y="589.4" font-size="16" text-anchor="start" fill="#1c1c1c" >60</text>
<text x="330.8" y="553.9" font-size="16" text-anchor="start" fill="#1c1c1c" >80</text>
<text x="330.8" y="518.4" font-size="16" text-anchor="start" fill="#1c1c1c" >100</text>
<text x="201" y="733" font-size="16" text-anchor="middle" fill="#1c1c1c" >Cycle number</text>
<text x="35.2" y="595.6" font-size="16.3" text-anchor="middle" fill="#1c1c1c" transform="rotate(-90 35.2 595.6)" >Specific capacity (mAh g<tspan font-size="10" dy="-6">-1</tspan><tspan dy="6" font-size="1">&#8203;</tspan>)</text>
<text x="374.5" y="594.7" font-size="16.4" text-anchor="middle" fill="#1c1c1c" transform="rotate(-90 374.5 594.7)" >Coulombic efficiency (%)</text>
<text x="204.5" y="570.8" font-size="13.8" text-anchor="middle" fill="#1c1c1c" >Li||NCM811</text>
<text x="204.5" y="585.3" font-size="13.8" text-anchor="middle" fill="#1c1c1c" >5C/5C</text>
<circle cx="85.6" cy="661.3" r="2.4" fill="#e89a96"/>
<circle cx="85.6" cy="682" r="2.4" fill="#7b9dc6"/>
<text x="99.7" y="666.2" font-size="14" text-anchor="start" fill="#1c1c1c" >BE-TFBn</text>
<text x="99.7" y="686.7" font-size="14" text-anchor="start" fill="#1c1c1c" >BE</text>
<text x="193.5" y="672" font-size="13.5" text-anchor="start" fill="#1c1c1c" >30%</text>
<line x1="189.7" y1="649" x2="189.7" y2="671" stroke="#27467a" stroke-width="1.3" stroke-dasharray="4.5 2.5"/>
<text x="320" y="624" font-size="13.5" text-anchor="end" fill="#1c1c1c" >85%</text>
<line x1="322.5" y1="598" x2="322.5" y2="611" stroke="#222" stroke-width="1.5" stroke-dasharray="3 2"/>
<text x="2.5" y="512" font-size="25.5" text-anchor="start" fill="#000" >f</text>
</g>
<g id="panel_g">
<defs>
<linearGradient id="ggBE" gradientUnits="userSpaceOnUse" x1="0" y1="537.4" x2="0" y2="663.3">
<stop offset="0" stop-color="#bccfea"/><stop offset="0.25" stop-color="#cedbef"/><stop offset="0.5" stop-color="#e2eaf6"/><stop offset="0.72" stop-color="#f4f7fc"/><stop offset="0.9" stop-color="#ffffff"/></linearGradient>
</defs>
<path d="M438.6 530.9 L442 542.7 L445.4 543.3 L448.8 543.4 L452.2 543.4 L455.5 543.6 L458.8 544 L462.1 544.6 L465.4 545.2 L468.7 546.1 L471.9 547.1 L475.2 548.2 L478.4 549.3 L481.6 550.4 L484.7 551.5 L487.9 552.6 L491 553.5 L494.1 554.5 L497.2 555.4 L500.2 556.3 L503.3 557.2 L506.3 558.1 L509.3 559.1 L512.3 560 L515.2 561 L518.1 562.1 L521 563.1 L523.9 564.1 L526.8 565.1 L529.6 566.1 L532.4 567.1 L535.2 568 L538 568.9 L540.7 569.7 L543.4 570.5 L546.1 571.3 L548.8 572.1 L551.5 572.8 L554.1 573.5 L556.7 574.3 L559.2 574.9 L561.8 575.6 L564.3 576.3 L566.8 576.9 L569.3 577.5 L571.7 578.1 L574.1 578.7 L576.5 579.2 L578.9 579.8 L581.2 580.4 L583.5 581 L585.8 581.6 L588 582.2 L590.2 582.8 L592.4 583.4 L594.6 584 L596.7 584.7 L598.8 585.3 L600.9 586 L602.9 586.6 L604.9 587.3 L606.8 587.9 L608.8 588.6 L610.7 589.3 L612.5 590.1 L614.4 590.9 L616.2 591.7 L617.9 592.6 L619.6 593.5 L621.3 594.6 L622.9 595.8 L624.5 597.1 L626.1 598.6 L627.6 600.2 L629.1 601.9 L630.5 603.9 L631.9 606.1 L633.2 608.5 L634.5 611.1 L635.7 614.1 L636.9 617.5 L638 621.4 L639.1 625.9 L640 630.7 L641 635.6 L641.8 640.3 L642.6 645 L643.3 650.1 L643.8 655.5 L644.3 663.4 L644.5 668 L513.2 664.3 L513.1 664 L512.9 663.6 L512.7 663.1 L512.5 662.5 L512.2 661.7 L511.9 660.9 L511.6 660.1 L511.2 659.2 L510.8 658.2 L510.4 657.2 L510 656.1 L509.6 654.9 L509.1 653.7 L508.6 652.5 L508.1 651.2 L507.6 649.8 L507.1 648.4 L506.5 647 L505.9 645.5 L505.4 643.9 L504.8 642.2 L504.2 640.6 L503.5 638.8 L502.9 637.1 L502.3 635.3 L501.6 633.5 L500.9 631.7 L500.2 629.8 L499.5 628 L498.8 626.1 L498.1 624.2 L497.4 622.3 L496.6 620.3 L495.9 618.4 L495.1 616.4 L494.3 614.5 L493.5 612.5 L492.7 610.6 L491.9 608.8 L491.1 607 L490.2 605.2 L489.4 603.4 L488.6 601.7 L487.7 600 L486.8 598.3 L485.9 596.7 L485 595.1 L484.1 593.6 L483.2 592.1 L482.3 590.7 L481.4 589.3 L480.4 588 L479.5 586.7 L478.5 585.4 L477.6 584.2 L476.6 583 L475.6 581.8 L474.6 580.7 L473.6 579.6 L472.6 578.5 L471.6 577.5 L470.5 576.6 L469.5 575.6 L468.5 574.7 L467.4 573.8 L466.3 572.9 L465.3 572 L464.2 571.1 L463.1 570.2 L462 569.3 L460.9 568.5 L459.8 567.6 L458.7 566.8 L457.6 565.9 L456.4 565.1 L455.3 564.3 L454.2 563.5 L453 562.7 L451.8 561.9 L450.7 561.1 L449.5 560.5 L448.3 559.9 L447.1 559.3 L445.9 558.7 L444.7 557.9 L443.5 556.9 L442.3 555.7 L441.1 553.4 L439.8 546.3 L438.6 530.9 Z" fill="url(#ggBE)" stroke="none" stroke-width="0" />
<path d="M438.6 530.9 L439.8 546.3 L441.1 553.4 L442.3 555.7 L443.5 556.9 L444.7 557.9 L445.9 558.7 L447.1 559.3 L448.3 559.9 L449.5 560.5 L450.7 561.1 L451.8 561.9 L453 562.7 L454.2 563.5 L455.3 564.3 L456.4 565.1 L457.6 565.9 L458.7 566.8 L459.8 567.6 L460.9 568.5 L462 569.3 L463.1 570.2 L464.2 571.1 L465.3 572 L466.3 572.9 L467.4 573.8 L468.5 574.7 L469.5 575.6 L470.5 576.6 L471.6 577.5 L472.6 578.5 L473.6 579.6 L474.6 580.7 L475.6 581.8 L476.6 583 L477.6 584.2 L478.5 585.4 L479.5 586.7 L480.4 588 L481.4 589.3 L482.3 590.7 L483.2 592.1 L484.1 593.6 L485 595.1 L485.9 596.7 L486.8 598.3 L487.7 600 L488.6 601.7 L489.4 603.4 L490.2 605.2 L491.1 607 L491.9 608.8 L492.7 610.6 L493.5 612.5 L494.3 614.5 L495.1 616.4 L495.9 618.4 L496.6 620.3 L497.4 622.3 L498.1 624.2 L498.8 626.1 L499.5 628 L500.2 629.8 L500.9 631.7 L501.6 633.5 L502.3 635.3 L502.9 637.1 L503.5 638.8 L504.2 640.6 L504.8 642.2 L505.4 643.9 L505.9 645.5 L506.5 647 L507.1 648.4 L507.6 649.8 L508.1 651.2 L508.6 652.5 L509.1 653.7 L509.6 654.9 L510 656.1 L510.4 657.2 L510.8 658.2 L511.2 659.2 L511.6 660.1 L511.9 660.9 L512.2 661.7 L512.5 662.5 L512.7 663.1 L512.9 663.6 L513.1 664 L513.2 664.3" fill="none" stroke="#a9c3e3" stroke-width="1" />
<path d="M438.6 530.9 L442 542.7 L445.4 543.3 L448.8 543.4 L452.2 543.4 L455.5 543.6 L458.8 544 L462.1 544.6 L465.4 545.2 L468.7 546.1 L471.9 547.1 L475.2 548.2 L478.4 549.3 L481.6 550.4 L484.7 551.5 L487.9 552.6 L491 553.5 L494.1 554.5 L497.2 555.4 L500.2 556.3 L503.3 557.2 L506.3 558.1 L509.3 559.1 L512.3 560 L515.2 561 L518.1 562.1 L521 563.1 L523.9 564.1 L526.8 565.1 L529.6 566.1 L532.4 567.1 L535.2 568 L538 568.9 L540.7 569.7 L543.4 570.5 L546.1 571.3 L548.8 572.1 L551.5 572.8 L554.1 573.5 L556.7 574.3 L559.2 574.9 L561.8 575.6 L564.3 576.3 L566.8 576.9 L569.3 577.5 L571.7 578.1 L574.1 578.7 L576.5 579.2 L578.9 579.8 L581.2 580.4 L583.5 581 L585.8 581.6 L588 582.2 L590.2 582.8 L592.4 583.4 L594.6 584 L596.7 584.7 L598.8 585.3 L600.9 586 L602.9 586.6 L604.9 587.3 L606.8 587.9 L608.8 588.6 L610.7 589.3 L612.5 590.1 L614.4 590.9 L616.2 591.7 L617.9 592.6 L619.6 593.5 L621.3 594.6 L622.9 595.8 L624.5 597.1 L626.1 598.6 L627.6 600.2 L629.1 601.9 L630.5 603.9 L631.9 606.1 L633.2 608.5 L634.5 611.1 L635.7 614.1 L636.9 617.5 L638 621.4 L639.1 625.9 L640 630.7 L641 635.6 L641.8 640.3 L642.6 645 L643.3 650.1 L643.8 655.5 L644.3 663.4 L644.5 668" fill="none" stroke="#a9c3e3" stroke-width="1" />
<path d="M438.6 528.1 L442.1 537.3 L445.6 537.8 L449.1 538.2 L452.5 538.5 L456 539.1 L459.4 539.8 L462.8 540.6 L466.2 541.6 L469.5 542.7 L472.9 543.9 L476.2 545.2 L479.5 546.5 L482.7 547.9 L486 549.1 L489.2 550.3 L492.4 551.4 L495.6 552.5 L498.8 553.6 L501.9 554.7 L505.1 555.7 L508.1 556.8 L511.2 557.8 L514.3 558.9 L517.3 560 L520.3 561 L523.3 562.1 L526.3 563.1 L529.2 564.1 L532.1 565.1 L535 566.1 L537.9 567 L540.7 567.8 L543.5 568.7 L546.3 569.5 L549.1 570.3 L551.8 571.1 L554.6 571.8 L557.3 572.5 L559.9 573.3 L562.6 574 L565.2 574.6 L567.8 575.3 L570.3 575.9 L572.9 576.6 L575.4 577.2 L577.9 577.8 L580.3 578.4 L582.7 579 L585.1 579.5 L587.5 580.1 L589.8 580.6 L592.1 581.2 L594.4 581.7 L596.7 582.2 L598.9 582.7 L601.1 583.2 L603.2 583.7 L605.3 584.2 L607.4 584.7 L609.5 585.2 L611.5 585.7 L613.5 586.3 L615.4 586.9 L617.3 587.5 L619.2 588.1 L621 588.8 L622.8 589.6 L624.6 590.4 L626.3 591.2 L628 592.1 L629.7 593.1 L631.3 594.2 L632.8 595.4 L634.3 596.7 L635.8 598.1 L637.2 599.6 L638.6 601.3 L639.9 603.2 L641.1 605.4 L642.3 608 L643.5 610.9 L644.6 614.2 L645.6 618 L646.5 622.2 L647.4 626.7 L648.2 632.2 L648.9 638.8 L649.5 646.6 L649.9 660.1 L650.2 668 L639.3 668 L639.1 663.6 L638.7 655.9 L638.1 649.9 L637.4 644.2 L636.7 639 L635.9 634.2 L635 629.5 L634 624.9 L633 620.7 L631.9 617.1 L630.7 613.9 L629.5 611 L628.3 608.4 L627 606.1 L625.7 604 L624.3 602.1 L622.8 600.4 L621.4 598.8 L619.9 597.4 L618.3 595.9 L616.7 594.6 L615.1 593.4 L613.4 592.3 L611.7 591.2 L609.9 590.3 L608.2 589.5 L606.3 588.7 L604.5 588.1 L602.6 587.4 L600.7 586.8 L598.7 586.3 L596.8 585.7 L594.8 585.2 L592.7 584.7 L590.6 584.2 L588.5 583.7 L586.4 583.1 L584.3 582.6 L582.1 582 L579.8 581.5 L577.6 580.9 L575.3 580.4 L573 579.8 L570.7 579.2 L568.4 578.7 L566 578.1 L563.6 577.5 L561.1 576.8 L558.7 576.2 L556.2 575.6 L553.7 574.9 L551.2 574.3 L548.6 573.6 L546 572.9 L543.4 572.2 L540.8 571.5 L538.2 570.7 L535.5 570 L532.8 569.1 L530.1 568.3 L527.3 567.4 L524.6 566.5 L521.8 565.6 L519 564.6 L516.1 563.7 L513.3 562.7 L510.4 561.8 L507.5 560.8 L504.6 559.8 L501.6 558.8 L498.7 557.8 L495.7 556.7 L492.7 555.7 L489.7 554.6 L486.6 553.5 L483.6 552.4 L480.5 551.3 L477.4 550.2 L474.3 549 L471.1 547.9 L467.9 546.8 L464.8 545.8 L461.6 544.8 L458.3 543.9 L455.1 543.1 L451.8 542.6 L448.6 542.4 L445.3 542 L441.9 541.4 L438.6 529 Z" fill="#fdebe9" stroke="none" stroke-width="0" opacity="0.65"/>
<path d="M438.6 528.1 L442.1 537.3 L445.6 537.8 L449.1 538.2 L452.5 538.5 L456 539.1 L459.4 539.8 L462.8 540.6 L466.2 541.6 L469.5 542.7 L472.9 543.9 L476.2 545.2 L479.5 546.5 L482.7 547.9 L486 549.1 L489.2 550.3 L492.4 551.4 L495.6 552.5 L498.8 553.6 L501.9 554.7 L505.1 555.7 L508.1 556.8 L511.2 557.8 L514.3 558.9 L517.3 560 L520.3 561 L523.3 562.1 L526.3 563.1 L529.2 564.1 L532.1 565.1 L535 566.1 L537.9 567 L540.7 567.8 L543.5 568.7 L546.3 569.5 L549.1 570.3 L551.8 571.1 L554.6 571.8 L557.3 572.5 L559.9 573.3 L562.6 574 L565.2 574.6 L567.8 575.3 L570.3 575.9 L572.9 576.6 L575.4 577.2 L577.9 577.8 L580.3 578.4 L582.7 579 L585.1 579.5 L587.5 580.1 L589.8 580.6 L592.1 581.2 L594.4 581.7 L596.7 582.2 L598.9 582.7 L601.1 583.2 L603.2 583.7 L605.3 584.2 L607.4 584.7 L609.5 585.2 L611.5 585.7 L613.5 586.3 L615.4 586.9 L617.3 587.5 L619.2 588.1 L621 588.8 L622.8 589.6 L624.6 590.4 L626.3 591.2 L628 592.1 L629.7 593.1 L631.3 594.2 L632.8 595.4 L634.3 596.7 L635.8 598.1 L637.2 599.6 L638.6 601.3 L639.9 603.2 L641.1 605.4 L642.3 608 L643.5 610.9 L644.6 614.2 L645.6 618 L646.5 622.2 L647.4 626.7 L648.2 632.2 L648.9 638.8 L649.5 646.6 L649.9 660.1 L650.2 668" fill="none" stroke="#f5b0a9" stroke-width="1" />
<path d="M438.6 529 L441.9 541.4 L445.3 542 L448.6 542.4 L451.8 542.6 L455.1 543.1 L458.3 543.9 L461.6 544.8 L464.8 545.8 L467.9 546.8 L471.1 547.9 L474.3 549 L477.4 550.2 L480.5 551.3 L483.6 552.4 L486.6 553.5 L489.7 554.6 L492.7 555.7 L495.7 556.7 L498.7 557.8 L501.6 558.8 L504.6 559.8 L507.5 560.8 L510.4 561.8 L513.3 562.7 L516.1 563.7 L519 564.6 L521.8 565.6 L524.6 566.5 L527.3 567.4 L530.1 568.3 L532.8 569.1 L535.5 570 L538.2 570.7 L540.8 571.5 L543.4 572.2 L546 572.9 L548.6 573.6 L551.2 574.3 L553.7 574.9 L556.2 575.6 L558.7 576.2 L561.1 576.8 L563.6 577.5 L566 578.1 L568.4 578.7 L570.7 579.2 L573 579.8 L575.3 580.4 L577.6 580.9 L579.8 581.5 L582.1 582 L584.3 582.6 L586.4 583.1 L588.5 583.7 L590.6 584.2 L592.7 584.7 L594.8 585.2 L596.8 585.7 L598.7 586.3 L600.7 586.8 L602.6 587.4 L604.5 588.1 L606.3 588.7 L608.2 589.5 L609.9 590.3 L611.7 591.2 L613.4 592.3 L615.1 593.4 L616.7 594.6 L618.3 595.9 L619.9 597.4 L621.4 598.8 L622.8 600.4 L624.3 602.1 L625.7 604 L627 606.1 L628.3 608.4 L629.5 611 L630.7 613.9 L631.9 617.1 L633 620.7 L634 624.9 L635 629.5 L635.9 634.2 L636.7 639 L637.4 644.2 L638.1 649.9 L638.7 655.9 L639.1 663.6 L639.3 668" fill="none" stroke="#f9cbc6" stroke-width="1" />
<path d="M467.8 548.6 L469.7 549.2 L471.7 549.8 L473.6 550.4 L475.5 551 L477.4 551.6 L479.3 552.2 L481.1 552.7 L483 553.3 L484.8 553.9 L486.7 554.5 L488.5 555.1 L490.3 555.7 L492.1 556.3 L493.9 557 L495.7 557.6 L497.5 558.2 L499.2 558.8 L501 559.4 L502.7 560 L504.4 560.6 L506.2 561.2 L507.9 561.8 L509.5 562.4 L511.2 563 L512.9 563.5 L514.5 564.1 L516.2 564.6 L517.8 565.2 L519.4 565.7 L521 566.2 L522.6 566.8 L524.1 567.3 L525.7 567.8 L527.2 568.3 L528.8 568.8 L530.3 569.3 L531.8 569.8 L533.3 570.2 L534.7 570.7 L536.2 571.1 L537.6 571.5 L539.1 571.9 L540.5 572.3 L541.9 572.7 L543.2 573.1 L544.6 573.5 L546 573.8 L547.3 574.2 L548.6 574.5 L549.9 574.9 L551.2 575.2 L552.5 575.5 L553.7 575.9 L555 576.2 L556.2 576.5 L557.4 576.8 L558.6 577.1 L559.8 577.4 L560.9 577.7 L562.1 578 L563.2 578.3 L564.3 578.6 L565.3 578.8 L566.4 579.1 L567.4 579.4 L568.4 579.6 L569.4 579.9 L570.4 580.1 L571.4 580.3 L572.3 580.6 L573.2 580.8 L574.1 581 L574.9 581.2 L575.8 581.4 L576.6 581.6 L577.4 581.8 L578.1 582 L578.8 582.2 L579.5 582.4 L580.2 582.5 L580.8 582.7 L581.4 582.8 L582 583 L582.5 583.1 L583 583.2 L583.4 583.3 L583.8 583.4 L584.1 583.5 L584.4 583.6 L584.5 583.6" fill="none" stroke="#f6b5ae" stroke-width="0.8" opacity="0.7"/>
<line x1="638" y1="667.5" x2="650.2" y2="667.5" stroke="#e98076" stroke-width="1.2" />
<path d="M637.2 667.5 l4.5 -2 l0 4 Z" fill="#e98076"/>
<line x1="548.9" y1="680.1" x2="636.4" y2="680.1" stroke="#b9cfea" stroke-width="1" />
<path d="M547.2 680.1 l4.5 -1.8 l0 3.6 Z" fill="#b9cfea"/>
<text x="511.1" y="683.6" font-size="13" text-anchor="start" fill="#1c1c1c" >135<tspan font-size="9" dy="-5">th</tspan><tspan dy="5" font-size="1">&#8203;</tspan></text>
<text x="642.9" y="683.6" font-size="13" text-anchor="start" fill="#1c1c1c" >4<tspan font-size="9" dy="-5">th</tspan><tspan dy="5" font-size="1">&#8203;</tspan></text>
<rect x="438.6" y="504.8" width="243.2" height="186.5" fill="none" stroke="#2e2e2e" stroke-width="1.1"/>
<line x1="438.6" y1="691.3" x2="438.6" y2="694.8" stroke="#555555" stroke-width="1.2" /><line x1="487.2" y1="691.3" x2="487.2" y2="694.8" stroke="#555555" stroke-width="1.2" /><line x1="535.9" y1="691.3" x2="535.9" y2="694.8" stroke="#555555" stroke-width="1.2" /><line x1="584.5" y1="691.3" x2="584.5" y2="694.8" stroke="#555555" stroke-width="1.2" /><line x1="633.2" y1="691.3" x2="633.2" y2="694.8" stroke="#555555" stroke-width="1.2" /><line x1="681.8" y1="691.3" x2="681.8" y2="694.8" stroke="#555555" stroke-width="1.2" />
<line x1="462.9" y1="691.3" x2="462.9" y2="693.5" stroke="#555555" stroke-width="1.2" /><line x1="511.6" y1="691.3" x2="511.6" y2="693.5" stroke="#555555" stroke-width="1.2" /><line x1="560.2" y1="691.3" x2="560.2" y2="693.5" stroke="#555555" stroke-width="1.2" /><line x1="608.8" y1="691.3" x2="608.8" y2="693.5" stroke="#555555" stroke-width="1.2" /><line x1="657.5" y1="691.3" x2="657.5" y2="693.5" stroke="#555555" stroke-width="1.2" />
<line x1="438.6" y1="691.3" x2="435.1" y2="691.3" stroke="#555555" stroke-width="1.2" /><line x1="438.6" y1="644.7" x2="435.1" y2="644.7" stroke="#555555" stroke-width="1.2" /><line x1="438.6" y1="598" x2="435.1" y2="598" stroke="#555555" stroke-width="1.2" /><line x1="438.6" y1="551.4" x2="435.1" y2="551.4" stroke="#555555" stroke-width="1.2" /><line x1="438.6" y1="504.8" x2="435.1" y2="504.8" stroke="#555555" stroke-width="1.2" />
<line x1="438.6" y1="668" x2="436.4" y2="668" stroke="#555555" stroke-width="1.2" /><line x1="438.6" y1="621.4" x2="436.4" y2="621.4" stroke="#555555" stroke-width="1.2" /><line x1="438.6" y1="574.7" x2="436.4" y2="574.7" stroke="#555555" stroke-width="1.2" /><line x1="438.6" y1="528.1" x2="436.4" y2="528.1" stroke="#555555" stroke-width="1.2" />
<text x="438.6" y="710.2" font-size="16" text-anchor="middle" fill="#1c1c1c" >0</text>
<text x="487.2" y="710.2" font-size="16" text-anchor="middle" fill="#1c1c1c" >30</text>
<text x="535.9" y="710.2" font-size="16" text-anchor="middle" fill="#1c1c1c" >60</text>
<text x="584.5" y="710.2" font-size="16" text-anchor="middle" fill="#1c1c1c" >90</text>
<text x="633.2" y="710.2" font-size="16" text-anchor="middle" fill="#1c1c1c" >120</text>
<text x="681.8" y="710.2" font-size="16" text-anchor="middle" fill="#1c1c1c" >150</text>
<text x="432.6" y="696.8" font-size="16.3" text-anchor="end" fill="#1c1c1c" >2.5</text>
<text x="432.6" y="650.2" font-size="16.3" text-anchor="end" fill="#1c1c1c" >3.0</text>
<text x="432.6" y="603.5" font-size="16.3" text-anchor="end" fill="#1c1c1c" >3.5</text>
<text x="432.6" y="556.9" font-size="16.3" text-anchor="end" fill="#1c1c1c" >4.0</text>
<text x="432.6" y="510.3" font-size="16.3" text-anchor="end" fill="#1c1c1c" >4.5</text>
<text x="560.5" y="730.8" font-size="16.4" text-anchor="middle" fill="#1c1c1c" >Specific capacity (mAh g<tspan font-size="10" dy="-6">-1</tspan><tspan dy="6" font-size="1">&#8203;</tspan>)</text>
<text x="398.5" y="598" font-size="16" text-anchor="middle" fill="#1c1c1c" transform="rotate(-90 398.5 598)" >Voltage (V)</text>
<rect x="605.5" y="512.8" width="13" height="7.2" fill="#fef1f0" stroke="#f8c9c4" stroke-width="0.9"/>
<line x1="605.5" y1="515" x2="618.5" y2="515" stroke="#f5b3ac" stroke-width="1.2" />
<rect x="605.5" y="529" width="13" height="7.5" fill="#eef3fa" stroke="#cddbef" stroke-width="0.9"/>
<line x1="605.5" y1="531.3" x2="618.5" y2="531.3" stroke="#b3c8e6" stroke-width="2.4" />
<text x="623.5" y="519.4" font-size="13.8" text-anchor="start" fill="#1c1c1c" >BE-TFBn</text>
<text x="623.5" y="535.8" font-size="13.8" text-anchor="start" fill="#1c1c1c" >BE</text>
<text x="383.5" y="507" font-size="25.5" text-anchor="start" fill="#000" >g</text>
</g>
<g id="panel_h">
<rect x="764.7" y="569.7" width="11.8" height="11.8" fill="#fde6e6"/><rect x="766.7" y="571.7" width="7.8" height="7.8" fill="#ea8a8d"/>
<rect x="816.5" y="573.4" width="11.8" height="11.8" fill="#fde6e6"/><rect x="818.5" y="575.4" width="7.8" height="7.8" fill="#ea8a8d"/>
<rect x="835.7" y="573.4" width="11.8" height="11.8" fill="#fdeedd"/><rect x="837.7" y="575.4" width="7.8" height="7.8" fill="#f5a868"/>
<rect x="807.3" y="595.8" width="11.8" height="11.8" fill="#dff5df"/><rect x="809.3" y="597.8" width="7.8" height="7.8" fill="#2f9e3c"/>
<rect x="835.7" y="595.8" width="11.8" height="11.8" fill="#e6f2fd"/><rect x="837.7" y="597.8" width="7.8" height="7.8" fill="#6fb1f0"/>
<rect x="864.1" y="592.1" width="11.8" height="11.8" fill="#fdeedd"/><rect x="866.1" y="594.1" width="7.8" height="7.8" fill="#f5a868"/>
<rect x="871.2" y="603.2" width="11.8" height="11.8" fill="#fdeedd"/><rect x="873.2" y="605.2" width="7.8" height="7.8" fill="#f5a868"/>
<rect x="906.6" y="614.4" width="11.8" height="11.8" fill="#f2f2f2"/><rect x="908.6" y="616.4" width="7.8" height="7.8" fill="#b5b5b5"/>
<text x="759.1" y="566.6" font-size="12.6" text-anchor="start" fill="#1c1c1c" >Ref.S1</text>
<text x="804.4" y="570.3" font-size="12.6" text-anchor="start" fill="#1c1c1c" >Ref.S3</text>
<text x="851.6" y="584.3" font-size="12.6" text-anchor="start" fill="#1c1c1c" >Ref.S5</text>
<text x="807.2" y="606.7" font-size="12.6" text-anchor="end" fill="#1c1c1c" >Ref.S2</text>
<text x="823.6" y="620.7" font-size="12.6" text-anchor="start" fill="#1c1c1c" >Ref.S4</text>
<text x="881" y="603" font-size="12.6" text-anchor="start" fill="#1c1c1c" >Ref.S6</text>
<text x="864.1" y="627.1" font-size="12.6" text-anchor="start" fill="#1c1c1c" >Ref.S7</text>
<text x="921.5" y="626.3" font-size="12.6" text-anchor="start" fill="#1c1c1c" >Ref.S8</text>
<rect x="904.5" y="552.6" width="16" height="16" fill="#fdeaea"/>
<polygon points="912.5,553.5 914.3,558.7 919.8,558.8 915.4,562.1 917,567.3 912.5,564.2 908.1,567.3 909.6,562.1 905.3,558.8 910.8,558.7" fill="#d9343a"/>
<text x="923.5" y="566" font-size="14" text-anchor="start" fill="#d9343a" >5C</text>
<line x1="907.5" y1="568.2" x2="940.5" y2="568.2" stroke="#d9343a" stroke-width="1" />
<rect x="916.5" y="511.7" width="12" height="10" fill="#fdeaea"/>
<polygon points="922.5,512.5 923.6,515.5 926.8,515.6 924.2,517.6 925.1,520.6 922.5,518.8 919.9,520.6 920.8,517.6 918.2,515.6 921.4,515.5" fill="#c9474b"/>
<text x="932" y="521" font-size="14" text-anchor="start" fill="#1c1c1c" >This work</text>
<rect x="780.8" y="679" width="11.4" height="11.4" fill="#e6f2fd"/><rect x="782.8" y="681" width="7.4" height="7.4" fill="#6fb1f0"/>
<text x="796" y="689.5" font-size="13.5" text-anchor="start" fill="#1c1c1c" >1C</text>
<rect x="819" y="679" width="11.4" height="11.4" fill="#fdeedd"/><rect x="821" y="681" width="7.4" height="7.4" fill="#f5a868"/>
<text x="834.2" y="689.5" font-size="13.5" text-anchor="start" fill="#1c1c1c" >2C</text>
<rect x="857.2" y="679" width="11.4" height="11.4" fill="#dff5df"/><rect x="859.2" y="681" width="7.4" height="7.4" fill="#2f9e3c"/>
<text x="872.4" y="689.5" font-size="13.5" text-anchor="start" fill="#1c1c1c" >3C</text>
<rect x="896.3" y="679" width="11.4" height="11.4" fill="#f2f2f2"/><rect x="898.3" y="681" width="7.4" height="7.4" fill="#b5b5b5"/>
<text x="911.5" y="689.5" font-size="13.5" text-anchor="start" fill="#1c1c1c" >4C</text>
<rect x="934.5" y="679" width="11.4" height="11.4" fill="#fde6e6"/><rect x="936.5" y="681" width="7.4" height="7.4" fill="#ea8a8d"/>
<text x="949.7" y="689.5" font-size="13.5" text-anchor="start" fill="#1c1c1c" >5C</text>
<rect x="756.9" y="504.7" width="241.3" height="186.5" fill="none" stroke="#555555" stroke-width="1.2"/>
<line x1="770.6" y1="691.2" x2="770.6" y2="695.2" stroke="#555555" stroke-width="1.2" /><line x1="841.6" y1="691.2" x2="841.6" y2="695.2" stroke="#555555" stroke-width="1.2" /><line x1="912.5" y1="691.2" x2="912.5" y2="695.2" stroke="#555555" stroke-width="1.2" /><line x1="983.5" y1="691.2" x2="983.5" y2="695.2" stroke="#555555" stroke-width="1.2" />
<line x1="806.1" y1="691.2" x2="806.1" y2="693.4" stroke="#555555" stroke-width="1.2" /><line x1="877.1" y1="691.2" x2="877.1" y2="693.4" stroke="#555555" stroke-width="1.2" /><line x1="948" y1="691.2" x2="948" y2="693.4" stroke="#555555" stroke-width="1.2" />
<line x1="756.9" y1="691.2" x2="752.9" y2="691.2" stroke="#555555" stroke-width="1.2" /><line x1="756.9" y1="653.9" x2="752.9" y2="653.9" stroke="#555555" stroke-width="1.2" /><line x1="756.9" y1="616.6" x2="752.9" y2="616.6" stroke="#555555" stroke-width="1.2" /><line x1="756.9" y1="579.3" x2="752.9" y2="579.3" stroke="#555555" stroke-width="1.2" /><line x1="756.9" y1="542" x2="752.9" y2="542" stroke="#555555" stroke-width="1.2" /><line x1="756.9" y1="504.7" x2="752.9" y2="504.7" stroke="#555555" stroke-width="1.2" />
<line x1="756.9" y1="672.6" x2="754.7" y2="672.6" stroke="#555555" stroke-width="1.2" /><line x1="756.9" y1="635.2" x2="754.7" y2="635.2" stroke="#555555" stroke-width="1.2" /><line x1="756.9" y1="598" x2="754.7" y2="598" stroke="#555555" stroke-width="1.2" /><line x1="756.9" y1="560.6" x2="754.7" y2="560.6" stroke="#555555" stroke-width="1.2" /><line x1="756.9" y1="523.4" x2="754.7" y2="523.4" stroke="#555555" stroke-width="1.2" />
<text x="770.6" y="711.3" font-size="16" text-anchor="middle" fill="#1c1c1c" >100</text>
<text x="841.6" y="711.3" font-size="16" text-anchor="middle" fill="#1c1c1c" >200</text>
<text x="912.5" y="711.3" font-size="16" text-anchor="middle" fill="#1c1c1c" >300</text>
<text x="983.5" y="711.3" font-size="16" text-anchor="middle" fill="#1c1c1c" >400</text>
<text x="749.4" y="696.7" font-size="16" text-anchor="end" fill="#1c1c1c" >50</text>
<text x="749.4" y="659.4" font-size="16" text-anchor="end" fill="#1c1c1c" >60</text>
<text x="749.4" y="622.1" font-size="16" text-anchor="end" fill="#1c1c1c" >70</text>
<text x="749.4" y="584.8" font-size="16" text-anchor="end" fill="#1c1c1c" >80</text>
<text x="749.4" y="547.5" font-size="16" text-anchor="end" fill="#1c1c1c" >90</text>
<text x="749.4" y="510.2" font-size="16" text-anchor="end" fill="#1c1c1c" >100</text>
<text x="877.5" y="733" font-size="17.2" text-anchor="middle" fill="#1c1c1c" >Cycle number</text>
<text x="722" y="598.5" font-size="17" text-anchor="middle" fill="#1c1c1c" transform="rotate(-90 722 598.5)" >Capacity retention (%)</text>
<text x="697.5" y="511" font-size="25.5" text-anchor="start" fill="#000" >h</text>
</g>
<g id="panel_i">
<path d="M85.9 775.1 L89.7 775.1 L93.4 775.1 L97.2 775.2 L101 775.1 L104.8 775.2 L108.6 774.8 L112.4 775 L116.1 775.2 L119.9 775.1 L123.7 775.2 L127.5 774.9 L131.3 775 L135.1 774.9 L138.9 775 L142.6 775 L146.4 774.8 L150.2 774.9 L154 774.9 L157.8 775.2 L161.6 775.1 L165.3 774.9 L169.1 775.1 L172.9 774.9 L176.7 775.1 L180.5 774.9 L184.3 774.8 L188 775.2 L191.8 774.9 L195.6 774.9 L199.4 775.2 L203.2 775.2 L207 774.9 L210.7 775.2 L214.5 775 L218.3 775.1 L222.1 774.9 L225.9 775.2 L229.7 775.1 L233.5 775.2 L237.2 775.2 L241 774.9 L244.8 775 L248.6 774.9 L252.4 774.9 L256.2 774.8 L259.9 774.9 L263.7 775 L267.5 774.8 L271.3 775.1 L275.1 774.9 L278.9 774.9 L282.6 775.1 L286.4 775 L290.2 774.9 L294 775 L297.8 775.1 L301.6 774.8 L305.3 775.2 L309.1 774.8 L312.9 775.1 L316.7 775.1 L320.5 774.8 L324.3 775.1 L328.1 775 L331.8 775 L335.6 774.8 L339.4 774.8 L343.2 774.9 L347 775.2 L350.8 774.9 L354.5 775.1 L358.3 775.2 L362.1 775.2 L365.9 774.9 L369.7 774.9 L373.5 775 L377.2 775.1 L381 774.8 L384.8 775.1 L388.6 775.1 L392.4 775.1 L396.2 774.8 L399.9 775.2 L403.7 774.8 L407.5 774.9 L411.3 775 L415.1 775.2 L418.9 774.9 L422.7 775.2 L426.4 775 L430.2 774.9 L434 774.9 L437.8 774.9 L441.6 774.8 L445.4 774.9 L449.1 775.1 L452.9 775.2 L456.7 774.9" fill="none" stroke="#fdeeed" stroke-width="6.2" stroke-linecap="butt" stroke-linejoin="round"/>
<path d="M85.9 778 L89.7 778 L93.4 778 L97.2 778.1 L101 778 L104.8 778.1 L108.6 777.7 L112.4 777.9 L116.1 778.1 L119.9 778 L123.7 778.1 L127.5 777.8 L131.3 777.9 L135.1 777.8 L138.9 777.9 L142.6 777.9 L146.4 777.7 L150.2 777.8 L154 777.8 L157.8 778.1 L161.6 778 L165.3 777.8 L169.1 778 L172.9 777.8 L176.7 778 L180.5 777.8 L184.3 777.7 L188 778.1 L191.8 777.8 L195.6 777.8 L199.4 778.1 L203.2 778.1 L207 777.8 L210.7 778.1 L214.5 777.9 L218.3 778 L222.1 777.8 L225.9 778.1 L229.7 778 L233.5 778.1 L237.2 778.1 L241 777.8 L244.8 777.9 L248.6 777.8 L252.4 777.8 L256.2 777.7 L259.9 777.8 L263.7 777.9 L267.5 777.7 L271.3 778 L275.1 777.8 L278.9 777.8 L282.6 778 L286.4 777.9 L290.2 777.8 L294 777.9 L297.8 778 L301.6 777.7 L305.3 778.1 L309.1 777.7 L312.9 778 L316.7 778 L320.5 777.7 L324.3 778 L328.1 777.9 L331.8 777.9 L335.6 777.7 L339.4 777.7 L343.2 777.8 L347 778.1 L350.8 777.8 L354.5 778 L358.3 778.1 L362.1 778.1 L365.9 777.8 L369.7 777.8 L373.5 777.9 L377.2 778 L381 777.7 L384.8 778 L388.6 778 L392.4 778 L396.2 777.7 L399.9 778.1 L403.7 777.7 L407.5 777.8 L411.3 777.9 L415.1 778.1 L418.9 777.8 L422.7 778.1 L426.4 777.9 L430.2 777.8 L434 777.8 L437.8 777.8 L441.6 777.7 L445.4 777.8 L449.1 778 L452.9 778.1 L456.7 777.8" fill="none" stroke="#ecc4c8" stroke-width="0.9" opacity="0.9"/>
<path d="M85.9 773.9 L89.7 773.9 L93.4 773.9 L97.2 774 L101 773.9 L104.8 774 L108.6 773.6 L112.4 773.8 L116.1 774 L119.9 773.9 L123.7 774 L127.5 773.7 L131.3 773.8 L135.1 773.7 L138.9 773.8 L142.6 773.8 L146.4 773.6 L150.2 773.7 L154 773.7 L157.8 774 L161.6 773.9 L165.3 773.7 L169.1 773.9 L172.9 773.7 L176.7 773.9 L180.5 773.7 L184.3 773.6 L188 774 L191.8 773.7 L195.6 773.7 L199.4 774 L203.2 774 L207 773.7 L210.7 774 L214.5 773.8 L218.3 773.9 L222.1 773.7 L225.9 774 L229.7 773.9 L233.5 774 L237.2 774 L241 773.7 L244.8 773.8 L248.6 773.7 L252.4 773.7 L256.2 773.6 L259.9 773.7 L263.7 773.8 L267.5 773.6 L271.3 773.9 L275.1 773.7 L278.9 773.7 L282.6 773.9 L286.4 773.8 L290.2 773.7 L294 773.8 L297.8 773.9 L301.6 773.6 L305.3 774 L309.1 773.6 L312.9 773.9 L316.7 773.9 L320.5 773.6 L324.3 773.9 L328.1 773.8 L331.8 773.8 L335.6 773.6 L339.4 773.6 L343.2 773.7 L347 774 L350.8 773.7 L354.5 773.9 L358.3 774 L362.1 774 L365.9 773.7 L369.7 773.7 L373.5 773.8 L377.2 773.9 L381 773.6 L384.8 773.9 L388.6 773.9 L392.4 773.9 L396.2 773.6 L399.9 774 L403.7 773.6 L407.5 773.7 L411.3 773.8 L415.1 774 L418.9 773.7 L422.7 774 L426.4 773.8 L430.2 773.7 L434 773.7 L437.8 773.7 L441.6 773.6 L445.4 773.7 L449.1 773.9 L452.9 774 L456.7 773.7" fill="none" stroke="#f3d3d3" stroke-width="0.8" opacity="0.8"/>
<path d="M85.9 771.2 L89.7 771.8 L93.4 771.5 L97.2 771.4 L101 771.3 L104.8 771.5 L108.6 771.7 L112.4 771.4 L116.1 771.4 L119.9 771.2 L123.7 771.7 L127.5 771.2 L131.3 771.5 L135.1 771.7 L138.9 771.2 L142.6 771.6 L146.4 771.7 L150.2 771.5 L154 771.6 L157.8 771.2 L161.6 771.4 L165.3 771.3 L169.1 771.7 L172.9 771.3 L176.7 771.4 L180.5 771.8 L184.3 771.7 L188 771.8 L191.8 771.4 L195.6 771.5 L199.4 771.6 L203.2 771.5 L207 771.3 L210.7 771.4 L214.5 771.3 L218.3 771.4 L222.1 771.8 L225.9 771.7 L229.7 771.5 L233.5 771.5 L237.2 771.4 L241 771.2 L244.8 771.3 L248.6 771.6 L252.4 771.7 L256.2 771.4 L259.9 771.6 L263.7 771.6 L267.5 771.6 L271.3 771.6 L275.1 771.6 L278.9 771.4 L282.6 771.6 L286.4 771.3 L290.2 771.5 L294 771.6 L297.8 771.6 L301.6 771.3 L305.3 771.7 L309.1 771.6 L312.9 771.5 L316.7 771.2 L320.5 771.5 L324.3 771.3 L328.1 771.6 L331.8 771.4 L335.6 771.7 L339.4 771.6 L343.2 771.6 L347 771.4 L350.8 771.6 L354.5 771.6 L358.3 771.7 L362.1 771.4 L365.9 771.7 L369.7 771.7 L373.5 771.6 L377.2 771.8 L381 771.7 L384.8 771.5 L388.6 771.5 L392.4 771.3 L396.2 771.7 L399.9 771.7 L403.7 771.5 L407.5 771.6 L411.3 771.6 L415.1 771.6 L418.9 771.3 L422.7 771.6 L426.4 771.5 L430.2 771.6 L434 771.4 L437.8 771.5 L441.6 771.6 L445.4 771.6 L449.1 771.6 L452.9 771.2 L456.7 771.3" fill="none" stroke="#c3d3ea" stroke-width="1.5" stroke-linecap="round" stroke-linejoin="round" opacity="0.9"/>
<rect x="81" y="808.9" width="4" height="4" fill="none" stroke="#f6c6c3" stroke-width="0.8"/>
<rect x="81" y="845.1" width="4" height="4" fill="none" stroke="#f6c6c3" stroke-width="0.8"/>
<circle cx="81.7" cy="786.9" r="2.1" fill="#5b84b5"/>
<path d="M82.1 830.9 L83 830.4 L84 830.9 L84.9 830 L85.9 829.9 L86.8 830.7 L87.8 829.8 L88.7 830 L89.7 830 L90.6 829.7 L91.6 829.2 L92.5 829.2 L93.4 828.9 L94.4 829 L95.3 828 L96.3 828 L97.2 827.4 L98.2 827.3 L99.1 827.8 L100.1 826.6 L101 828 L102 827.2 L102.9 827.4 L103.8 827.1 L104.8 827.5 L105.7 826.3 L106.7 827 L107.6 827.5 L108.6 826.5 L109.5 827.4 L110.5 826.6 L111.4 826.9 L112.4 826.5 L113.3 825.8 L114.3 826 L115.2 826.7 L116.1 826 L117.1 826.2 L118 826.7 L119 827 L119.9 826.2 L120.9 826.2 L121.8 825.5 L122.8 825.5 L123.7 826 L124.7 826.4 L125.6 825.5 L126.6 826.9 L127.5 826.7 L128.4 825.9 L129.4 825.8 L130.3 826.6 L131.3 825.7 L132.2 825.3 L133.2 826.1 L134.1 826.1 L135.1 826.4 L136 826.3 L137 825.2 L137.9 826.2 L138.9 825.3 L139.8 825.4 L140.7 826 L141.7 826.6 L142.6 825.4 L143.6 826.3 L144.5 826.5 L145.5 826.7 L146.4 825.7 L147.4 826.6 L148.3 827 L149.3 826.8 L150.2 827.5 L151.2 826.7 L152.1 827.1 L153 827.5 L154 826.7 L154.9 826.7 L155.9 828.2 L156.8 827.4 L157.8 827.9 L158.7 826.9 L159.7 827.2 L160.6 828.2 L161.6 828.2 L162.5 828.5 L163.4 827.2 L164.4 828.5 L165.3 828 L166.3 828.3 L167.2 828.1 L168.2 828.3 L169.1 828.2 L170.1 829.3 L171 828.3 L172 829.2 L172.9 828.9 L173.9 829.4 L174.8 829.6 L175.7 829.3 L176.7 829.5 L177.6 829.8 L178.6 829.3 L179.5 829.7 L180.5 830.7 L181.4 830.5 L182.4 830.3 L183.3 829.7 L184.3 829.8 L185.2 830.6 L186.2 831.6 L187.1 830.5 L188 831.2 L189 831.1 L189.9 831 L190.9 831.3 L191.8 831.7 L192.8 831.1 L193.7 832.2 L194.7 832.3 L195.6 831.7 L196.6 833 L197.5 833 L198.5 832.3 L199.4 833.8 L200.3 832.7 L201.3 833.1 L202.2 833.8 L203.2 834.2 L204.1 833.6 L205.1 833.6 L206 835 L207 834.7 L207.9 834.7 L208.9 835 L209.8 835.5 L210.7 835.9 L211.7 835.4 L212.6 835.2 L213.6 836.6 L214.5 836.5 L215.5 835.7 L216.4 835.9 L217.4 836.2 L218.3 837.4 L219.3 836.4 L220.2 836.2 L221.2 836.3 L222.1 836.9 L223 838.1 L224 836.9 L224.9 838.1 L225.9 837.5 L226.8 837.2 L227.8 837.7 L228.7 838.8 L229.7 838.6 L230.6 837.7 L231.6 839.1 L232.5 838.4 L233.5 838.8 L234.4 839.3 L235.3 838.6 L236.3 839.7 L237.2 839.6 L238.2 839.2 L239.1 839.8 L240.1 839.9 L241 839.1 L242 838.8 L242.9 838.7 L243.9 840 L244.8 839.5 L245.8 839.8 L246.7 839.4 L247.6 839.6 L248.6 839 L249.5 840 L250.5 840.6 L251.4 839.7 L252.4 840.7 L253.3 840 L254.3 840.3 L255.2 839.8 L256.2 840.5 L257.1 840.6 L258 841.3 L259 841 L259.9 841.6 L260.9 840.9 L261.8 841.5 L262.8 842.3 L263.7 842.3 L264.7 842.2 L265.6 841.7 L266.6 842.8 L267.5 842 L268.5 842.3 L269.4 843.4 L270.3 842.5 L271.3 843.6 L272.2 843.7 L273.2 843 L274.1 843.7 L275.1 842.8 L276 843.6 L277 844 L277.9 843.3 L278.9 844.7 L279.8 843.6 L280.8 844.9 L281.7 844.8 L282.6 843.6 L283.6 844.2 L284.5 845 L285.5 845.3 L286.4 844 L287.4 844.6 L288.3 844.4 L289.3 845.7 L290.2 844.9 L291.2 845.5 L292.1 845.8 L293.1 845.7 L294 845.3 L294.9 845.8 L295.9 845.8 L296.8 846.3 L297.8 845.2 L298.7 845.5 L299.7 845.3 L300.6 846 L301.6 845.4 L302.5 846 L303.5 845.9 L304.4 846 L305.3 845.8 L306.3 846.5 L307.2 847 L308.2 847.2 L309.1 847 L310.1 847.3 L311 846 L312 846.7 L312.9 846.3 L313.9 847.7 L314.8 847 L315.8 846.3 L316.7 846.9 L317.6 847.3 L318.6 847.3 L319.5 847.9 L320.5 847.9 L321.4 848 L322.4 847.7 L323.3 847.7 L324.3 847 L325.2 848.3 L326.2 848.2 L327.1 848.2 L328.1 848.5 L329 848.3 L329.9 848.4 L330.9 848.1 L331.8 848.9 L332.8 847.5 L333.7 848.4 L334.7 847.5 L335.6 848 L336.6 848.1 L337.5 848.5 L338.5 847.8 L339.4 849.2 L340.4 848.4 L341.3 849.1 L342.2 848.5 L343.2 848.6 L344.1 849.6 L345.1 849.6 L346 850.1 L347 849.8 L347.9 850.2 L348.9 849.8 L349.8 849 L350.8 850.2 L351.7 850.5 L352.6 850.4 L353.6 850.8 L354.5 850.3 L355.5 850.5 L356.4 851.6 L357.4 851.6 L358.3 851.1 L359.3 850.8 L360.2 851.5 L361.2 852 L362.1 851.3 L363.1 853.1 L364 853.1 L364.9 852.1 L365.9 853 L366.8 853.9 L367.8 853.2 L368.7 852.6 L369.7 853.3 L370.6 853.2 L371.6 853 L372.5 852.4 L373.5 850.3 L374.4 850.4 L375.4 849.3 L376.3 850.8 L377.2 850.5 L378.2 851 L379.1 850.6 L380.1 851.5 L381 851.4 L382 851.4 L382.9 851.8 L383.9 852.4 L384.8 852.6 L385.8 851.2 L386.7 852.7 L387.7 852.3 L388.6 852.6 L389.5 852.6 L390.5 853.5 L391.4 853.3 L392.4 853.8 L393.3 853.2 L394.3 852.8 L395.2 853.5 L396.2 853.2 L397.1 854.4 L398.1 854.9 L399 854.2 L399.9 854.4 L400.9 854.4 L401.8 854.9 L402.8 854.6 L403.7 854.6 L404.7 854.4 L405.6 855.5 L406.6 855.4 L407.5 854.9 L408.5 856 L409.4 856.3 L410.4 856.1 L411.3 856.6 L412.2 855.5 L413.2 855.5 L414.1 856.5 L415.1 856.9 L416 857.1 L417 856.9 L417.9 857.3 L418.9 856.9 L419.8 856.8 L420.8 857.5 L421.7 857.9 L422.7 857 L423.6 858.2 L424.5 858.2 L425.5 858.2 L426.4 858.2 L427.4 858.9 L428.3 858.5 L429.3 858.9 L430.2 858.4 L431.2 858.9 L432.1 858.5 L433.1 859.1 L434 859.1 L434.9 859.5 L435.9 859.9 L436.8 859.4 L437.8 859.8 L438.7 859.4 L439.7 859.9 L440.6 860 L441.6 860.8 L442.5 859.9 L443.5 860.7 L444.4 861.1 L445.4 861.2 L446.3 861.1 L447.2 860.9 L448.2 860.2 L449.1 860.8 L450.1 861.2 L451 860 L452 860.3 L452.9 861.2 L453.9 861.1 L454.8 860.9 L455.8 860.5 L456.7 859.7 L457.7 859.5 L458.6 860.1" fill="none" stroke="#fbdad6" stroke-width="7.5" stroke-linecap="round" stroke-linejoin="round" opacity="0.55"/>
<path d="M82.1 830.7 L83 831 L84 831.2 L84.9 831.6 L85.9 832 L86.8 832.5 L87.8 833 L88.7 833.7 L89.7 834.3 L90.6 835 L91.6 835.7 L92.5 836.5 L93.4 837.3 L94.4 838.1 L95.3 839 L96.3 839.8 L97.2 840.6 L98.2 841.4 L99.1 842.2 L100.1 842.9 L101 843.6 L102 844.3 L102.9 844.9 L103.8 845.6 L104.8 846.2 L105.7 846.9 L106.7 847.5 L107.6 848.1 L108.6 848.7 L109.5 849.3 L110.5 849.9 L111.4 850.5 L112.4 851 L113.3 851.6 L114.3 852.2 L115.2 852.7 L116.1 853.2 L117.1 853.7 L118 854.2 L119 854.7 L119.9 855.2 L120.9 855.7 L121.8 856.2 L122.8 856.7 L123.7 857.2 L124.7 857.7 L125.6 858.1 L126.6 858.6 L127.5 859.1 L128.4 859.5 L129.4 860 L130.3 860.5 L131.3 860.9 L132.2 861.4 L133.2 861.8 L134.1 862.2 L135.1 862.7 L136 863.1 L137 863.5 L137.9 863.9 L138.9 864.3 L139.8 864.7 L140.7 865.1 L141.7 865.5 L142.6 865.9 L143.6 866.3 L144.5 866.7 L145.5 867.1 L146.4 867.5 L147.4 867.8 L148.3 868.2 L149.3 868.5 L150.2 868.9 L151.2 869.3 L152.1 869.6 L153 869.9 L154 870.3 L154.9 870.6 L155.9 870.9 L156.8 871.3 L157.8 871.6 L158.7 871.9 L159.7 872.2 L160.6 872.5 L161.6 872.7 L162.5 873 L163.4 873.3 L164.4 873.6 L165.3 873.8 L166.3 874.1 L167.2 874.4 L168.2 874.6 L169.1 874.9 L170.1 875.1 L171 875.4 L172 875.7 L172.9 875.9 L173.9 876.2 L174.8 876.5 L175.7 876.8 L176.7 877.1 L177.6 877.3 L178.6 877.6 L179.5 877.9 L180.5 878.2 L181.4 878.5 L182.4 878.8 L183.3 879 L184.3 879.3 L185.2 879.6 L186.2 879.9 L187.1 880.2 L188 880.5 L189 880.7 L189.9 881 L190.9 881.3 L191.8 881.5 L192.8 881.8 L193.7 882.1 L194.7 882.3 L195.6 882.6 L196.6 882.8 L197.5 883 L198.5 883.3 L199.4 883.5 L200.3 883.7 L201.3 884 L202.2 884.2 L203.2 884.4 L204.1 884.7 L205.1 884.9 L206 885.1 L207 885.3 L207.9 885.6 L208.9 885.8 L209.8 886 L210.7 886.2 L211.7 886.5 L212.6 886.7 L213.6 886.9 L214.5 887.2 L215.5 887.4 L216.4 887.6 L217.4 887.9 L218.3 888.1 L219.3 888.4 L220.2 888.6 L221.2 888.8 L222.1 889.1 L223 889.3 L224 889.5 L224.9 889.8 L225.9 890 L226.8 890.2 L227.8 890.5 L228.7 890.7 L229.7 890.9 L230.6 891.1 L231.6 891.3 L232.5 891.5 L233.5 891.7 L234.4 891.9 L235.3 892.1 L236.3 892.3 L237.2 892.5 L238.2 892.7 L239.1 892.9 L240.1 893.1 L241 893.3 L242 893.4 L242.9 893.6 L243.9 893.8 L244.8 894 L245.8 894.2 L246.7 894.3 L247.6 894.5 L248.6 894.7 L249.5 894.9 L250.5 895 L251.4 895.2 L252.4 895.4 L253.3 895.5 L254.3 895.7 L255.2 895.9 L256.2 896 L257.1 896.2 L258 896.4 L259 896.5 L259.9 896.7 L260.9 896.8 L261.8 897 L262.8 897.2 L263.7 897.3 L264.7 897.5 L265.6 897.6 L266.6 897.8 L267.5 898 L268.5 898.1 L269.4 898.3 L270.3 898.4 L271.3 898.6 L272.2 898.8 L273.2 898.9 L274.1 899.1 L275.1 899.3 L276 899.4 L277 899.6 L277.9 899.7 L278.9 899.9 L279.8 900.1 L280.8 900.2 L281.7 900.4 L282.6 900.5 L283.6 900.7 L284.5 900.9 L285.5 901 L286.4 901.2 L287.4 901.4 L288.3 901.5 L289.3 901.7 L290.2 901.8 L291.2 902 L292.1 902.2 L293.1 902.3 L294 902.5 L294.9 902.7 L295.9 902.8 L296.8 903 L297.8 903.2 L298.7 903.3 L299.7 903.5 L300.6 903.7 L301.6 903.8 L302.5 904 L303.5 904.1 L304.4 904.3 L305.3 904.5 L306.3 904.6 L307.2 904.8 L308.2 904.9 L309.1 905.1 L310.1 905.2 L311 905.4 L312 905.5 L312.9 905.6 L313.9 905.8 L314.8 905.9 L315.8 906.1 L316.7 906.2 L317.6 906.3 L318.6 906.5 L319.5 906.6 L320.5 906.7 L321.4 906.9 L322.4 907 L323.3 907.1 L324.3 907.3 L325.2 907.4 L326.2 907.5 L327.1 907.7 L328.1 907.8 L329 908 L329.9 908.1 L330.9 908.2 L331.8 908.4 L332.8 908.5 L333.7 908.7 L334.7 908.8 L335.6 908.9 L336.6 909.1 L337.5 909.2 L338.5 909.4 L339.4 909.5 L340.4 909.6 L341.3 909.8 L342.2 909.9 L343.2 910.1 L344.1 910.2 L345.1 910.3 L346 910.5 L347 910.6 L347.9 910.8 L348.9 910.9 L349.8 911 L350.8 911.2 L351.7 911.3 L352.6 911.5 L353.6 911.6 L354.5 911.7 L355.5 911.9 L356.4 912 L357.4 912.2 L358.3 912.3 L359.3 912.4 L360.2 912.6 L361.2 912.7 L362.1 912.9 L363.1 913 L364 913.1 L364.9 913.2 L365.9 913.4 L366.8 913.5 L367.8 913.6 L368.7 913.7 L369.7 913.8 L370.6 914 L371.6 914.1 L372.5 914.2 L373.5 914.3 L374.4 914.4 L375.4 914.5 L376.3 914.6 L377.2 914.7 L378.2 914.9 L379.1 915 L380.1 915.1 L381 915.2 L382 915.3 L382.9 915.4 L383.9 915.5 L384.8 915.7 L385.8 915.8 L386.7 915.9 L387.7 916 L388.6 916.1 L389.5 916.3 L390.5 916.4 L391.4 916.5 L392.4 916.6 L393.3 916.7 L394.3 916.9 L395.2 917 L396.2 917.1 L397.1 917.2 L398.1 917.3 L399 917.4 L399.9 917.5 L400.9 917.6 L401.8 917.7 L402.8 917.8 L403.7 918 L404.7 918.1 L405.6 918.2 L406.6 918.2 L407.5 918.3 L408.5 918.4 L409.4 918.5 L410.4 918.6 L411.3 918.7 L412.2 918.8 L413.2 918.9 L414.1 919 L415.1 919.1 L416 919.2 L417 919.3 L417.9 919.3 L418.9 919.4 L419.8 919.5 L420.8 919.6 L421.7 919.7 L422.7 919.8 L423.6 919.9 L424.5 919.9 L425.5 920 L426.4 920.1 L427.4 920.2 L428.3 920.3 L429.3 920.3 L430.2 920.4 L431.2 920.5 L432.1 920.6 L433.1 920.7 L434 920.7 L434.9 920.8 L435.9 920.9 L436.8 921 L437.8 921 L438.7 921.1 L439.7 921.2 L440.6 921.2 L441.6 921.3 L442.5 921.4 L443.5 921.4 L444.4 921.5 L445.4 921.6 L446.3 921.6 L447.2 921.7 L448.2 921.7 L449.1 921.8 L450.1 921.9 L451 921.9 L452 922 L452.9 922 L453.9 922.1 L454.8 922.1 L455.8 922.2 L456.7 922.3 L457.7 922.3 L458.6 922.4" fill="none" stroke="#cfe3f4" stroke-width="7.5" stroke-linecap="round" stroke-linejoin="round" opacity="0.6"/>
<path d="M82.1 830.9 L83 830.4 L84 830.9 L84.9 830 L85.9 829.9 L86.8 830.7 L87.8 829.8 L88.7 830 L89.7 830 L90.6 829.7 L91.6 829.2 L92.5 829.2 L93.4 828.9 L94.4 829 L95.3 828 L96.3 828 L97.2 827.4 L98.2 827.3 L99.1 827.8 L100.1 826.6 L101 828 L102 827.2 L102.9 827.4 L103.8 827.1 L104.8 827.5 L105.7 826.3 L106.7 827 L107.6 827.5 L108.6 826.5 L109.5 827.4 L110.5 826.6 L111.4 826.9 L112.4 826.5 L113.3 825.8 L114.3 826 L115.2 826.7 L116.1 826 L117.1 826.2 L118 826.7 L119 827 L119.9 826.2 L120.9 826.2 L121.8 825.5 L122.8 825.5 L123.7 826 L124.7 826.4 L125.6 825.5 L126.6 826.9 L127.5 826.7 L128.4 825.9 L129.4 825.8 L130.3 826.6 L131.3 825.7 L132.2 825.3 L133.2 826.1 L134.1 826.1 L135.1 826.4 L136 826.3 L137 825.2 L137.9 826.2 L138.9 825.3 L139.8 825.4 L140.7 826 L141.7 826.6 L142.6 825.4 L143.6 826.3 L144.5 826.5 L145.5 826.7 L146.4 825.7 L147.4 826.6 L148.3 827 L149.3 826.8 L150.2 827.5 L151.2 826.7 L152.1 827.1 L153 827.5 L154 826.7 L154.9 826.7 L155.9 828.2 L156.8 827.4 L157.8 827.9 L158.7 826.9 L159.7 827.2 L160.6 828.2 L161.6 828.2 L162.5 828.5 L163.4 827.2 L164.4 828.5 L165.3 828 L166.3 828.3 L167.2 828.1 L168.2 828.3 L169.1 828.2 L170.1 829.3 L171 828.3 L172 829.2 L172.9 828.9 L173.9 829.4 L174.8 829.6 L175.7 829.3 L176.7 829.5 L177.6 829.8 L178.6 829.3 L179.5 829.7 L180.5 830.7 L181.4 830.5 L182.4 830.3 L183.3 829.7 L184.3 829.8 L185.2 830.6 L186.2 831.6 L187.1 830.5 L188 831.2 L189 831.1 L189.9 831 L190.9 831.3 L191.8 831.7 L192.8 831.1 L193.7 832.2 L194.7 832.3 L195.6 831.7 L196.6 833 L197.5 833 L198.5 832.3 L199.4 833.8 L200.3 832.7 L201.3 833.1 L202.2 833.8 L203.2 834.2 L204.1 833.6 L205.1 833.6 L206 835 L207 834.7 L207.9 834.7 L208.9 835 L209.8 835.5 L210.7 835.9 L211.7 835.4 L212.6 835.2 L213.6 836.6 L214.5 836.5 L215.5 835.7 L216.4 835.9 L217.4 836.2 L218.3 837.4 L219.3 836.4 L220.2 836.2 L221.2 836.3 L222.1 836.9 L223 838.1 L224 836.9 L224.9 838.1 L225.9 837.5 L226.8 837.2 L227.8 837.7 L228.7 838.8 L229.7 838.6 L230.6 837.7 L231.6 839.1 L232.5 838.4 L233.5 838.8 L234.4 839.3 L235.3 838.6 L236.3 839.7 L237.2 839.6 L238.2 839.2 L239.1 839.8 L240.1 839.9 L241 839.1 L242 838.8 L242.9 838.7 L243.9 840 L244.8 839.5 L245.8 839.8 L246.7 839.4 L247.6 839.6 L248.6 839 L249.5 840 L250.5 840.6 L251.4 839.7 L252.4 840.7 L253.3 840 L254.3 840.3 L255.2 839.8 L256.2 840.5 L257.1 840.6 L258 841.3 L259 841 L259.9 841.6 L260.9 840.9 L261.8 841.5 L262.8 842.3 L263.7 842.3 L264.7 842.2 L265.6 841.7 L266.6 842.8 L267.5 842 L268.5 842.3 L269.4 843.4 L270.3 842.5 L271.3 843.6 L272.2 843.7 L273.2 843 L274.1 843.7 L275.1 842.8 L276 843.6 L277 844 L277.9 843.3 L278.9 844.7 L279.8 843.6 L280.8 844.9 L281.7 844.8 L282.6 843.6 L283.6 844.2 L284.5 845 L285.5 845.3 L286.4 844 L287.4 844.6 L288.3 844.4 L289.3 845.7 L290.2 844.9 L291.2 845.5 L292.1 845.8 L293.1 845.7 L294 845.3 L294.9 845.8 L295.9 845.8 L296.8 846.3 L297.8 845.2 L298.7 845.5 L299.7 845.3 L300.6 846 L301.6 845.4 L302.5 846 L303.5 845.9 L304.4 846 L305.3 845.8 L306.3 846.5 L307.2 847 L308.2 847.2 L309.1 847 L310.1 847.3 L311 846 L312 846.7 L312.9 846.3 L313.9 847.7 L314.8 847 L315.8 846.3 L316.7 846.9 L317.6 847.3 L318.6 847.3 L319.5 847.9 L320.5 847.9 L321.4 848 L322.4 847.7 L323.3 847.7 L324.3 847 L325.2 848.3 L326.2 848.2 L327.1 848.2 L328.1 848.5 L329 848.3 L329.9 848.4 L330.9 848.1 L331.8 848.9 L332.8 847.5 L333.7 848.4 L334.7 847.5 L335.6 848 L336.6 848.1 L337.5 848.5 L338.5 847.8 L339.4 849.2 L340.4 848.4 L341.3 849.1 L342.2 848.5 L343.2 848.6 L344.1 849.6 L345.1 849.6 L346 850.1 L347 849.8 L347.9 850.2 L348.9 849.8 L349.8 849 L350.8 850.2 L351.7 850.5 L352.6 850.4 L353.6 850.8 L354.5 850.3 L355.5 850.5 L356.4 851.6 L357.4 851.6 L358.3 851.1 L359.3 850.8 L360.2 851.5 L361.2 852 L362.1 851.3 L363.1 853.1 L364 853.1 L364.9 852.1 L365.9 853 L366.8 853.9 L367.8 853.2 L368.7 852.6 L369.7 853.3 L370.6 853.2 L371.6 853 L372.5 852.4 L373.5 850.3 L374.4 850.4 L375.4 849.3 L376.3 850.8 L377.2 850.5 L378.2 851 L379.1 850.6 L380.1 851.5 L381 851.4 L382 851.4 L382.9 851.8 L383.9 852.4 L384.8 852.6 L385.8 851.2 L386.7 852.7 L387.7 852.3 L388.6 852.6 L389.5 852.6 L390.5 853.5 L391.4 853.3 L392.4 853.8 L393.3 853.2 L394.3 852.8 L395.2 853.5 L396.2 853.2 L397.1 854.4 L398.1 854.9 L399 854.2 L399.9 854.4 L400.9 854.4 L401.8 854.9 L402.8 854.6 L403.7 854.6 L404.7 854.4 L405.6 855.5 L406.6 855.4 L407.5 854.9 L408.5 856 L409.4 856.3 L410.4 856.1 L411.3 856.6 L412.2 855.5 L413.2 855.5 L414.1 856.5 L415.1 856.9 L416 857.1 L417 856.9 L417.9 857.3 L418.9 856.9 L419.8 856.8 L420.8 857.5 L421.7 857.9 L422.7 857 L423.6 858.2 L424.5 858.2 L425.5 858.2 L426.4 858.2 L427.4 858.9 L428.3 858.5 L429.3 858.9 L430.2 858.4 L431.2 858.9 L432.1 858.5 L433.1 859.1 L434 859.1 L434.9 859.5 L435.9 859.9 L436.8 859.4 L437.8 859.8 L438.7 859.4 L439.7 859.9 L440.6 860 L441.6 860.8 L442.5 859.9 L443.5 860.7 L444.4 861.1 L445.4 861.2 L446.3 861.1 L447.2 860.9 L448.2 860.2 L449.1 860.8 L450.1 861.2 L451 860 L452 860.3 L452.9 861.2 L453.9 861.1 L454.8 860.9 L455.8 860.5 L456.7 859.7 L457.7 859.5 L458.6 860.1" fill="none" stroke="#e98c84" stroke-width="3.6" stroke-linecap="round" stroke-linejoin="round"/>
<path d="M82.1 830.7 L83 831 L84 831.2 L84.9 831.6 L85.9 832 L86.8 832.5 L87.8 833 L88.7 833.7 L89.7 834.3 L90.6 835 L91.6 835.7 L92.5 836.5 L93.4 837.3 L94.4 838.1 L95.3 839 L96.3 839.8 L97.2 840.6 L98.2 841.4 L99.1 842.2 L100.1 842.9 L101 843.6 L102 844.3 L102.9 844.9 L103.8 845.6 L104.8 846.2 L105.7 846.9 L106.7 847.5 L107.6 848.1 L108.6 848.7 L109.5 849.3 L110.5 849.9 L111.4 850.5 L112.4 851 L113.3 851.6 L114.3 852.2 L115.2 852.7 L116.1 853.2 L117.1 853.7 L118 854.2 L119 854.7 L119.9 855.2 L120.9 855.7 L121.8 856.2 L122.8 856.7 L123.7 857.2 L124.7 857.7 L125.6 858.1 L126.6 858.6 L127.5 859.1 L128.4 859.5 L129.4 860 L130.3 860.5 L131.3 860.9 L132.2 861.4 L133.2 861.8 L134.1 862.2 L135.1 862.7 L136 863.1 L137 863.5 L137.9 863.9 L138.9 864.3 L139.8 864.7 L140.7 865.1 L141.7 865.5 L142.6 865.9 L143.6 866.3 L144.5 866.7 L145.5 867.1 L146.4 867.5 L147.4 867.8 L148.3 868.2 L149.3 868.5 L150.2 868.9 L151.2 869.3 L152.1 869.6 L153 869.9 L154 870.3 L154.9 870.6 L155.9 870.9 L156.8 871.3 L157.8 871.6 L158.7 871.9 L159.7 872.2 L160.6 872.5 L161.6 872.7 L162.5 873 L163.4 873.3 L164.4 873.6 L165.3 873.8 L166.3 874.1 L167.2 874.4 L168.2 874.6 L169.1 874.9 L170.1 875.1 L171 875.4 L172 875.7 L172.9 875.9 L173.9 876.2 L174.8 876.5 L175.7 876.8 L176.7 877.1 L177.6 877.3 L178.6 877.6 L179.5 877.9 L180.5 878.2 L181.4 878.5 L182.4 878.8 L183.3 879 L184.3 879.3 L185.2 879.6 L186.2 879.9 L187.1 880.2 L188 880.5 L189 880.7 L189.9 881 L190.9 881.3 L191.8 881.5 L192.8 881.8 L193.7 882.1 L194.7 882.3 L195.6 882.6 L196.6 882.8 L197.5 883 L198.5 883.3 L199.4 883.5 L200.3 883.7 L201.3 884 L202.2 884.2 L203.2 884.4 L204.1 884.7 L205.1 884.9 L206 885.1 L207 885.3 L207.9 885.6 L208.9 885.8 L209.8 886 L210.7 886.2 L211.7 886.5 L212.6 886.7 L213.6 886.9 L214.5 887.2 L215.5 887.4 L216.4 887.6 L217.4 887.9 L218.3 888.1 L219.3 888.4 L220.2 888.6 L221.2 888.8 L222.1 889.1 L223 889.3 L224 889.5 L224.9 889.8 L225.9 890 L226.8 890.2 L227.8 890.5 L228.7 890.7 L229.7 890.9 L230.6 891.1 L231.6 891.3 L232.5 891.5 L233.5 891.7 L234.4 891.9 L235.3 892.1 L236.3 892.3 L237.2 892.5 L238.2 892.7 L239.1 892.9 L240.1 893.1 L241 893.3 L242 893.4 L242.9 893.6 L243.9 893.8 L244.8 894 L245.8 894.2 L246.7 894.3 L247.6 894.5 L248.6 894.7 L249.5 894.9 L250.5 895 L251.4 895.2 L252.4 895.4 L253.3 895.5 L254.3 895.7 L255.2 895.9 L256.2 896 L257.1 896.2 L258 896.4 L259 896.5 L259.9 896.7 L260.9 896.8 L261.8 897 L262.8 897.2 L263.7 897.3 L264.7 897.5 L265.6 897.6 L266.6 897.8 L267.5 898 L268.5 898.1 L269.4 898.3 L270.3 898.4 L271.3 898.6 L272.2 898.8 L273.2 898.9 L274.1 899.1 L275.1 899.3 L276 899.4 L277 899.6 L277.9 899.7 L278.9 899.9 L279.8 900.1 L280.8 900.2 L281.7 900.4 L282.6 900.5 L283.6 900.7 L284.5 900.9 L285.5 901 L286.4 901.2 L287.4 901.4 L288.3 901.5 L289.3 901.7 L290.2 901.8 L291.2 902 L292.1 902.2 L293.1 902.3 L294 902.5 L294.9 902.7 L295.9 902.8 L296.8 903 L297.8 903.2 L298.7 903.3 L299.7 903.5 L300.6 903.7 L301.6 903.8 L302.5 904 L303.5 904.1 L304.4 904.3 L305.3 904.5 L306.3 904.6 L307.2 904.8 L308.2 904.9 L309.1 905.1 L310.1 905.2 L311 905.4 L312 905.5 L312.9 905.6 L313.9 905.8 L314.8 905.9 L315.8 906.1 L316.7 906.2 L317.6 906.3 L318.6 906.5 L319.5 906.6 L320.5 906.7 L321.4 906.9 L322.4 907 L323.3 907.1 L324.3 907.3 L325.2 907.4 L326.2 907.5 L327.1 907.7 L328.1 907.8 L329 908 L329.9 908.1 L330.9 908.2 L331.8 908.4 L332.8 908.5 L333.7 908.7 L334.7 908.8 L335.6 908.9 L336.6 909.1 L337.5 909.2 L338.5 909.4 L339.4 909.5 L340.4 909.6 L341.3 909.8 L342.2 909.9 L343.2 910.1 L344.1 910.2 L345.1 910.3 L346 910.5 L347 910.6 L347.9 910.8 L348.9 910.9 L349.8 911 L350.8 911.2 L351.7 911.3 L352.6 911.5 L353.6 911.6 L354.5 911.7 L355.5 911.9 L356.4 912 L357.4 912.2 L358.3 912.3 L359.3 912.4 L360.2 912.6 L361.2 912.7 L362.1 912.9 L363.1 913 L364 913.1 L364.9 913.2 L365.9 913.4 L366.8 913.5 L367.8 913.6 L368.7 913.7 L369.7 913.8 L370.6 914 L371.6 914.1 L372.5 914.2 L373.5 914.3 L374.4 914.4 L375.4 914.5 L376.3 914.6 L377.2 914.7 L378.2 914.9 L379.1 915 L380.1 915.1 L381 915.2 L382 915.3 L382.9 915.4 L383.9 915.5 L384.8 915.7 L385.8 915.8 L386.7 915.9 L387.7 916 L388.6 916.1 L389.5 916.3 L390.5 916.4 L391.4 916.5 L392.4 916.6 L393.3 916.7 L394.3 916.9 L395.2 917 L396.2 917.1 L397.1 917.2 L398.1 917.3 L399 917.4 L399.9 917.5 L400.9 917.6 L401.8 917.7 L402.8 917.8 L403.7 918 L404.7 918.1 L405.6 918.2 L406.6 918.2 L407.5 918.3 L408.5 918.4 L409.4 918.5 L410.4 918.6 L411.3 918.7 L412.2 918.8 L413.2 918.9 L414.1 919 L415.1 919.1 L416 919.2 L417 919.3 L417.9 919.3 L418.9 919.4 L419.8 919.5 L420.8 919.6 L421.7 919.7 L422.7 919.8 L423.6 919.9 L424.5 919.9 L425.5 920 L426.4 920.1 L427.4 920.2 L428.3 920.3 L429.3 920.3 L430.2 920.4 L431.2 920.5 L432.1 920.6 L433.1 920.7 L434 920.7 L434.9 920.8 L435.9 920.9 L436.8 921 L437.8 921 L438.7 921.1 L439.7 921.2 L440.6 921.2 L441.6 921.3 L442.5 921.4 L443.5 921.4 L444.4 921.5 L445.4 921.6 L446.3 921.6 L447.2 921.7 L448.2 921.7 L449.1 921.8 L450.1 921.9 L451 921.9 L452 922 L452.9 922 L453.9 922.1 L454.8 922.1 L455.8 922.2 L456.7 922.3 L457.7 922.3 L458.6 922.4" fill="none" stroke="#7098c8" stroke-width="4.4" stroke-linecap="round" stroke-linejoin="round"/>
<path d="M82.1 830.9 L83 830.4 L84 830.9 L84.9 830 L85.9 829.9 L86.8 830.7 L87.8 829.8 L88.7 830" fill="none" stroke="#e98c84" stroke-width="3.6" stroke-linecap="round" stroke-linejoin="round"/>
<line x1="80.2" y1="763.4" x2="80.2" y2="948.8" stroke="#555555" stroke-width="1.2" />
<line x1="80.2" y1="948.8" x2="458.6" y2="948.8" stroke="#555555" stroke-width="1.2" />
<line x1="458.6" y1="763.4" x2="458.6" y2="948.8" stroke="#555555" stroke-width="1.2" />
<line x1="80.2" y1="763.4" x2="458.6" y2="763.4" stroke="#666" stroke-width="1" />
<line x1="80.2" y1="948.8" x2="80.2" y2="953.8" stroke="#555555" stroke-width="1.2" /><line x1="174.8" y1="948.8" x2="174.8" y2="953.8" stroke="#555555" stroke-width="1.2" /><line x1="269.4" y1="948.8" x2="269.4" y2="953.8" stroke="#555555" stroke-width="1.2" /><line x1="364" y1="948.8" x2="364" y2="953.8" stroke="#555555" stroke-width="1.2" /><line x1="458.6" y1="948.8" x2="458.6" y2="953.8" stroke="#555555" stroke-width="1.2" />
<line x1="127.5" y1="948.8" x2="127.5" y2="951.8" stroke="#555555" stroke-width="1.2" /><line x1="222.1" y1="948.8" x2="222.1" y2="951.8" stroke="#555555" stroke-width="1.2" /><line x1="316.7" y1="948.8" x2="316.7" y2="951.8" stroke="#555555" stroke-width="1.2" /><line x1="411.3" y1="948.8" x2="411.3" y2="951.8" stroke="#555555" stroke-width="1.2" />
<line x1="80.2" y1="948.8" x2="75.2" y2="948.8" stroke="#555555" stroke-width="1.2" /><line x1="80.2" y1="902.4" x2="75.2" y2="902.4" stroke="#555555" stroke-width="1.2" /><line x1="80.2" y1="856.1" x2="75.2" y2="856.1" stroke="#555555" stroke-width="1.2" /><line x1="80.2" y1="809.8" x2="75.2" y2="809.8" stroke="#555555" stroke-width="1.2" /><line x1="80.2" y1="763.4" x2="75.2" y2="763.4" stroke="#555555" stroke-width="1.2" />
<line x1="80.2" y1="925.6" x2="77.2" y2="925.6" stroke="#555555" stroke-width="1.2" /><line x1="80.2" y1="879.3" x2="77.2" y2="879.3" stroke="#555555" stroke-width="1.2" /><line x1="80.2" y1="832.9" x2="77.2" y2="832.9" stroke="#555555" stroke-width="1.2" /><line x1="80.2" y1="786.6" x2="77.2" y2="786.6" stroke="#555555" stroke-width="1.2" />
<line x1="458.6" y1="948.8" x2="463.6" y2="948.8" stroke="#555555" stroke-width="1.2" /><line x1="458.6" y1="913.4" x2="463.6" y2="913.4" stroke="#555555" stroke-width="1.2" /><line x1="458.6" y1="878.1" x2="463.6" y2="878.1" stroke="#555555" stroke-width="1.2" /><line x1="458.6" y1="842.7" x2="463.6" y2="842.7" stroke="#555555" stroke-width="1.2" /><line x1="458.6" y1="807.4" x2="463.6" y2="807.4" stroke="#555555" stroke-width="1.2" /><line x1="458.6" y1="772" x2="463.6" y2="772" stroke="#555555" stroke-width="1.2" />
<line x1="458.6" y1="931.1" x2="461.6" y2="931.1" stroke="#555555" stroke-width="1.2" /><line x1="458.6" y1="895.8" x2="461.6" y2="895.8" stroke="#555555" stroke-width="1.2" /><line x1="458.6" y1="860.4" x2="461.6" y2="860.4" stroke="#555555" stroke-width="1.2" /><line x1="458.6" y1="825" x2="461.6" y2="825" stroke="#555555" stroke-width="1.2" /><line x1="458.6" y1="789.7" x2="461.6" y2="789.7" stroke="#555555" stroke-width="1.2" />
<text x="80.2" y="970" font-size="16" text-anchor="middle" fill="#1c1c1c" >0</text>
<text x="174.8" y="970" font-size="16" text-anchor="middle" fill="#1c1c1c" >50</text>
<text x="269.4" y="970" font-size="16" text-anchor="middle" fill="#1c1c1c" >100</text>
<text x="364" y="970" font-size="16" text-anchor="middle" fill="#1c1c1c" >150</text>
<text x="458.6" y="970" font-size="16" text-anchor="middle" fill="#1c1c1c" >200</text>
<text x="71.6" y="954.3" font-size="16.3" text-anchor="end" fill="#1c1c1c" >0</text>
<text x="71.6" y="907.9" font-size="16.3" text-anchor="end" fill="#1c1c1c" >50</text>
<text x="71.6" y="861.6" font-size="16.3" text-anchor="end" fill="#1c1c1c" >100</text>
<text x="71.6" y="815.2" font-size="16.3" text-anchor="end" fill="#1c1c1c" >150</text>
<text x="71.6" y="768.9" font-size="16.3" text-anchor="end" fill="#1c1c1c" >200</text>
<text x="466.1" y="954.3" font-size="16.3" text-anchor="start" fill="#1c1c1c" >0</text>
<text x="466.1" y="918.9" font-size="16.3" text-anchor="start" fill="#1c1c1c" >20</text>
<text x="466.1" y="883.6" font-size="16.3" text-anchor="start" fill="#1c1c1c" >40</text>
<text x="466.1" y="848.2" font-size="16.3" text-anchor="start" fill="#1c1c1c" >60</text>
<text x="466.1" y="812.9" font-size="16.3" text-anchor="start" fill="#1c1c1c" >80</text>
<text x="466.1" y="777.5" font-size="16.3" text-anchor="start" fill="#1c1c1c" >100</text>
<text x="269.5" y="989" font-size="16" text-anchor="middle" fill="#1c1c1c" >Cycle number</text>
<text x="36.8" y="856" font-size="16.3" text-anchor="middle" fill="#1c1c1c" transform="rotate(-90 36.8 856)" >Specific capacity (mAh g<tspan font-size="10" dy="-6">-1</tspan><tspan dy="6" font-size="1">&#8203;</tspan>)</text>
<text x="510.5" y="856" font-size="16" text-anchor="middle" fill="#1c1c1c" transform="rotate(-90 510.5 856)" >Coulombic efficiency (%)</text>
<text x="265" y="809" font-size="13.5" text-anchor="middle" fill="#1c1c1c" >60 °C-5C</text>
<text x="265" y="826" font-size="13.5" text-anchor="middle" fill="#1c1c1c" >Li||NCM811</text>
<circle cx="90.3" cy="924.6" r="2.2" fill="#86a3c4"/>
<circle cx="90.3" cy="941" r="2.2" fill="#dba5a2"/>
<text x="98" y="927.4" font-size="13.3" text-anchor="start" fill="#1c1c1c" >BE</text>
<text x="98" y="943.6" font-size="13.3" text-anchor="start" fill="#1c1c1c" >BE-TFBn</text>
<text x="455" y="876.8" font-size="13.5" text-anchor="end" fill="#1c1c1c" >75%</text>
<text x="455" y="936.7" font-size="13.5" text-anchor="end" fill="#1c1c1c" >28%</text>
<line x1="458.3" y1="855" x2="458.3" y2="867" stroke="#222" stroke-width="1.4" stroke-dasharray="3 2"/>
<line x1="458.3" y1="916" x2="458.3" y2="928" stroke="#2f5d9b" stroke-width="1.4" stroke-dasharray="3 2"/>
<text x="2" y="770.5" font-size="25.5" text-anchor="start" fill="#000" >i</text>
</g>
<g id="panel_j">
<rect x="607.2" y="768.5" width="41.8" height="126.1" fill="#fef0dc"/>
<rect x="609.2" y="770.5" width="37.8" height="122.1" fill="#fcc88f"/>
<rect x="654.4" y="778.5" width="37.8" height="114.1" fill="#92cc93"/>
<rect x="700.6" y="770.5" width="37.4" height="148.3" fill="#c4b0dc"/>
<rect x="746.4" y="770.5" width="37.4" height="148.3" fill="#8eadf0"/>
<rect x="792.1" y="770.5" width="37.4" height="148.3" fill="#a9a680"/>
<rect x="838.4" y="770.5" width="36.9" height="148.3" fill="#d6d6d6"/>
<rect x="882.2" y="768.5" width="41.4" height="178.5" fill="#fde3e0"/>
<rect x="884.2" y="770.5" width="37.4" height="174.5" fill="#ef968f"/>
<rect x="928" y="768.5" width="41.3" height="152.3" fill="#fde3e0"/>
<rect x="930" y="770.5" width="37.3" height="148.3" fill="#ef968f"/>
<text x="628.1" y="807.8" font-size="12" text-anchor="middle" fill="#1c1c1c" >88.5%</text>
<text x="628.1" y="884.6" font-size="12" text-anchor="middle" fill="#1c1c1c" >1C</text>
<text x="673.3" y="820.8" font-size="12" text-anchor="middle" fill="#1c1c1c" >66.8%</text>
<text x="673.3" y="884.6" font-size="12" text-anchor="middle" fill="#1c1c1c" >0.5C</text>
<text x="719.3" y="820.8" font-size="12" text-anchor="middle" fill="#1c1c1c" >80%</text>
<text x="719.3" y="884.6" font-size="12" text-anchor="middle" fill="#1c1c1c" >0.5C</text>
<text x="765.1" y="820.8" font-size="12" text-anchor="middle" fill="#1c1c1c" >63%</text>
<text x="765.1" y="884.6" font-size="12" text-anchor="middle" fill="#1c1c1c" >1C</text>
<text x="810.8" y="820.8" font-size="12" text-anchor="middle" fill="#1c1c1c" >68%</text>
<text x="810.8" y="884.6" font-size="12" text-anchor="middle" fill="#1c1c1c" >0.5C</text>
<text x="856.8" y="813.3" font-size="12" text-anchor="middle" fill="#1c1c1c" >77.5%</text>
<text x="856.8" y="884.6" font-size="12" text-anchor="middle" fill="#1c1c1c" >0.5C</text>
<text x="902.9" y="812.8" font-size="12" text-anchor="middle" fill="#1c1c1c" >72%</text>
<text x="902.9" y="884.6" font-size="12" text-anchor="middle" fill="#1c1c1c" >1C</text>
<text x="948.6" y="812.8" font-size="12" text-anchor="middle" fill="#1c1c1c" >75%</text>
<text x="948.6" y="884.6" font-size="12" text-anchor="middle" fill="#1c1c1c" >5C</text>
<line x1="605.3" y1="762" x2="605.3" y2="866.5" stroke="#555555" stroke-width="1.2" />
<line x1="598.3" y1="866.5" x2="976.8" y2="866.5" stroke="#333" stroke-width="1.3" />
<line x1="971.8" y1="866.5" x2="971.8" y2="971.2" stroke="#555555" stroke-width="1.2" />
<line x1="604.5" y1="971.2" x2="971.8" y2="971.2" stroke="#555555" stroke-width="1.2" />
<line x1="605.3" y1="834.5" x2="600.3" y2="834.5" stroke="#555555" stroke-width="1.2" /><line x1="605.3" y1="802.5" x2="600.3" y2="802.5" stroke="#555555" stroke-width="1.2" /><line x1="605.3" y1="770.5" x2="600.3" y2="770.5" stroke="#555555" stroke-width="1.2" />
<line x1="605.3" y1="850.5" x2="602.3" y2="850.5" stroke="#555555" stroke-width="1.2" /><line x1="605.3" y1="818.5" x2="602.3" y2="818.5" stroke="#555555" stroke-width="1.2" /><line x1="605.3" y1="786.5" x2="602.3" y2="786.5" stroke="#555555" stroke-width="1.2" />
<line x1="971.8" y1="892.6" x2="976.8" y2="892.6" stroke="#555555" stroke-width="1.2" /><line x1="971.8" y1="918.8" x2="976.8" y2="918.8" stroke="#555555" stroke-width="1.2" /><line x1="971.8" y1="945" x2="976.8" y2="945" stroke="#555555" stroke-width="1.2" /><line x1="971.8" y1="971.1" x2="976.8" y2="971.1" stroke="#555555" stroke-width="1.2" />
<line x1="628.3" y1="971.2" x2="628.3" y2="975.7" stroke="#555555" stroke-width="1.2" /><line x1="674" y1="971.2" x2="674" y2="975.7" stroke="#555555" stroke-width="1.2" /><line x1="719.8" y1="971.2" x2="719.8" y2="975.7" stroke="#555555" stroke-width="1.2" /><line x1="764.6" y1="971.2" x2="764.6" y2="975.7" stroke="#555555" stroke-width="1.2" /><line x1="810.4" y1="971.2" x2="810.4" y2="975.7" stroke="#555555" stroke-width="1.2" /><line x1="856.6" y1="971.2" x2="856.6" y2="975.7" stroke="#555555" stroke-width="1.2" /><line x1="902.5" y1="971.2" x2="902.5" y2="975.7" stroke="#555555" stroke-width="1.2" /><line x1="948.9" y1="971.2" x2="948.9" y2="975.7" stroke="#555555" stroke-width="1.2" />
<text x="592.5" y="871.8" font-size="15.5" text-anchor="end" fill="#1c1c1c" >0</text>
<text x="592.5" y="839.8" font-size="15.5" text-anchor="end" fill="#1c1c1c" >20</text>
<text x="592.5" y="807.8" font-size="15.5" text-anchor="end" fill="#1c1c1c" >40</text>
<text x="592.5" y="775.8" font-size="15.5" text-anchor="end" fill="#1c1c1c" >60</text>
<text x="979.3" y="871.7" font-size="14.6" text-anchor="start" fill="#1c1c1c" >0</text>
<text x="979.3" y="897.9" font-size="14.6" text-anchor="start" fill="#1c1c1c" >100</text>
<text x="979.3" y="924" font-size="14.6" text-anchor="start" fill="#1c1c1c" >200</text>
<text x="979.3" y="950.2" font-size="14.6" text-anchor="start" fill="#1c1c1c" >300</text>
<text x="979.3" y="975.3" font-size="14.6" text-anchor="start" fill="#1c1c1c" >400</text>
<text x="569.5" y="813.9" font-size="15.3" text-anchor="middle" fill="#1c1c1c" transform="rotate(-90 569.5 813.9)" >Temperature(°C)</text>
<text x="1018.5" y="919.5" font-size="15.5" text-anchor="middle" fill="#1c1c1c" transform="rotate(-90 1018.5 919.5)" >Cycle number</text>
<text x="626.8" y="967.5" font-size="13.5" text-anchor="middle" fill="#1c1c1c" >Ref.S9</text>
<text x="676.5" y="989.5" font-size="13.5" text-anchor="middle" fill="#1c1c1c" >Ref.S10</text>
<text x="721" y="967.5" font-size="13.5" text-anchor="middle" fill="#1c1c1c" >Ref.S11</text>
<text x="767.5" y="989.5" font-size="13.5" text-anchor="middle" fill="#1c1c1c" >Ref.S12</text>
<text x="813" y="967.5" font-size="13.5" text-anchor="middle" fill="#1c1c1c" >Ref.S13</text>
<text x="859" y="989.5" font-size="13.5" text-anchor="middle" fill="#1c1c1c" >Ref.S14</text>
<text x="882" y="964.8" font-size="14.4" text-anchor="start" fill="#f2a59f" font-weight="bold" >This work</text>
<polygon points="961.2,953.1 962.7,957.4 967.3,957.5 963.6,960.3 965,964.7 961.2,962.1 957.4,964.7 958.8,960.3 955.1,957.5 959.7,957.4" fill="#f2a59f"/>
<text x="538" y="772.3" font-size="26" text-anchor="start" fill="#000" >j</text>
</g>
</svg>
</body></html>
